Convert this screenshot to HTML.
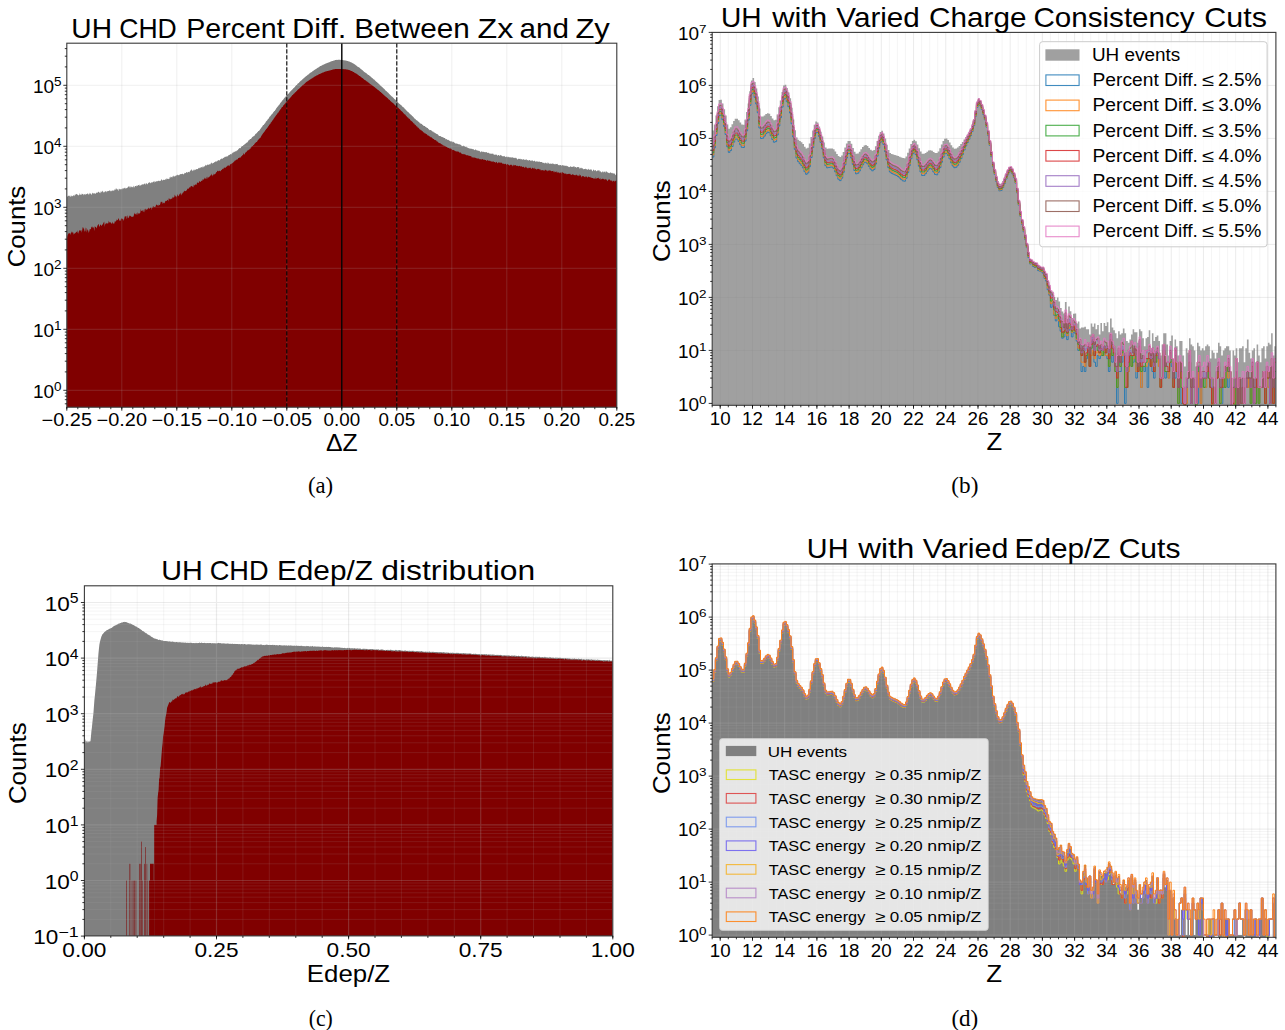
<!DOCTYPE html><html><head><meta charset="utf-8"><style>html,body{margin:0;padding:0;background:#fff;overflow:hidden}svg{display:block}</style></head><body><svg width="1285" height="1030" viewBox="0 0 1285 1030">
<rect width="100%" height="100%" fill="#fff"/>
<defs><clipPath id="ca"><rect x="66.8" y="43.2" width="550" height="364"/></clipPath><clipPath id="cb"><rect x="712.2" y="32.4" width="563.7" height="372.9"/></clipPath><clipPath id="cc"><rect x="84.4" y="585.8" width="528.4" height="350.1"/></clipPath><clipPath id="cd"><rect x="712.2" y="563.9" width="563.7" height="373.4"/></clipPath></defs>
<g clip-path="url(#ca)">
<path d="M66.8,407.2L66.8,196.5L67.3,196.7L67.8,196.2L68.3,195.6L68.8,195.9L69.3,195.4L69.8,196.2L70.3,197.3L70.8,195.6L71.3,195.5L71.8,196.4L72.3,196.2L72.8,195.9L73.3,195.0L73.8,195.7L74.3,196.3L74.8,194.5L75.3,195.2L75.8,193.9L76.3,194.3L76.8,193.8L77.3,195.1L77.8,194.2L78.3,195.4L78.8,195.3L79.3,194.9L79.8,192.9L80.3,194.5L80.8,194.9L81.3,194.9L81.8,193.5L82.3,194.3L82.8,193.8L83.3,193.9L83.8,195.4L84.3,193.8L84.8,194.4L85.3,195.1L85.8,193.8L86.3,194.1L86.8,194.3L87.3,194.1L87.8,193.0L88.3,194.0L88.8,195.0L89.3,192.5L89.8,194.5L90.3,193.8L90.8,193.1L91.3,195.2L91.8,194.1L92.3,192.4L92.8,193.4L93.3,193.8L93.8,193.1L94.3,193.7L94.8,193.0L95.3,193.6L95.8,194.1L96.3,192.3L96.8,193.0L97.3,192.4L97.8,192.8L98.3,191.6L98.8,192.1L99.3,192.3L99.8,193.1L100.3,193.3L100.8,191.2L101.3,191.5L101.8,192.6L102.3,190.4L102.8,191.6L103.3,191.8L103.8,192.8L104.3,192.3L104.8,191.4L105.3,191.3L105.8,191.3L106.3,192.6L106.8,191.0L107.3,191.0L107.8,191.5L108.3,191.0L108.8,190.9L109.3,190.1L109.8,190.9L110.3,190.4L110.8,191.6L111.3,191.2L111.8,190.5L112.3,191.0L112.8,190.1L113.3,191.1L113.8,190.2L114.3,190.6L114.8,189.0L115.3,190.2L115.8,188.6L116.3,188.2L116.8,189.5L117.3,188.9L117.8,189.7L118.3,191.2L118.8,188.7L119.3,188.8L119.8,189.4L120.3,189.5L120.8,188.9L121.3,188.8L121.8,189.4L122.3,189.2L122.8,187.9L123.3,188.5L123.8,188.5L124.3,187.6L124.8,188.5L125.3,187.6L125.8,188.9L126.3,188.2L126.8,188.0L127.3,187.4L127.8,187.7L128.3,186.1L128.8,186.7L129.3,187.7L129.8,185.8L130.3,187.9L130.8,185.9L131.3,187.6L131.8,186.3L132.3,187.4L132.8,186.9L133.3,185.5L133.8,187.5L134.3,187.5L134.8,186.3L135.3,186.1L135.8,186.0L136.3,185.3L136.8,186.7L137.3,185.4L137.8,185.7L138.3,185.0L138.8,185.1L139.3,184.5L139.8,186.2L140.3,185.1L140.8,185.8L141.3,185.0L141.8,184.4L142.3,184.5L142.8,184.2L143.3,184.5L143.8,184.2L144.3,184.1L144.8,183.2L145.3,183.5L145.8,185.1L146.3,183.4L146.8,183.0L147.3,183.9L147.8,184.5L148.3,182.4L148.8,183.1L149.3,182.7L149.8,181.8L150.3,183.4L150.8,182.8L151.3,182.7L151.8,182.1L152.3,182.8L152.8,182.0L153.3,182.1L153.8,181.3L154.3,181.1L154.8,182.7L155.3,181.4L155.8,181.8L156.3,181.4L156.8,181.0L157.3,180.9L157.8,181.5L158.3,180.8L158.8,180.7L159.3,180.7L159.8,181.3L160.3,180.9L160.8,180.6L161.3,179.8L161.8,179.1L162.3,180.5L162.8,180.4L163.3,179.6L163.8,179.9L164.3,179.9L164.8,179.8L165.3,179.7L165.8,178.7L166.3,179.8L166.8,177.9L167.3,179.1L167.8,178.7L168.3,178.8L168.8,179.3L169.3,178.9L169.8,177.1L170.3,176.6L170.8,178.1L171.3,176.8L171.8,177.3L172.3,177.6L172.8,176.0L173.3,175.5L173.8,176.8L174.3,176.6L174.8,176.2L175.3,176.2L175.8,175.6L176.3,175.0L176.8,175.7L177.3,175.0L177.8,174.5L178.3,175.6L178.8,175.1L179.3,175.2L179.8,174.3L180.3,174.3L180.8,174.0L181.3,173.9L181.8,174.3L182.3,173.6L182.8,174.1L183.3,173.9L183.8,174.7L184.3,172.6L184.8,173.8L185.3,173.0L185.8,172.9L186.3,171.9L186.8,172.3L187.3,172.8L187.8,172.2L188.3,172.1L188.8,171.8L189.3,172.4L189.8,171.6L190.3,170.2L190.8,170.8L191.3,170.0L191.8,169.1L192.3,170.4L192.8,171.3L193.3,170.4L193.8,169.5L194.3,169.5L194.8,170.4L195.3,169.7L195.8,169.5L196.3,169.2L196.8,169.1L197.3,169.3L197.8,169.0L198.3,168.6L198.8,167.8L199.3,168.4L199.8,167.6L200.3,168.3L200.8,166.9L201.3,167.3L201.8,167.2L202.3,166.3L202.8,167.7L203.3,167.3L203.8,166.2L204.3,166.6L204.8,166.2L205.3,164.5L205.8,165.7L206.3,165.4L206.8,165.3L207.3,164.5L207.8,164.7L208.3,164.5L208.8,165.0L209.3,164.4L209.8,164.0L210.3,164.5L210.8,163.3L211.3,163.2L211.8,162.3L212.3,163.7L212.8,163.2L213.3,163.0L213.8,162.7L214.3,162.2L214.8,162.0L215.3,161.6L215.8,161.4L216.3,161.3L216.8,161.8L217.3,161.1L217.8,160.6L218.3,160.2L218.8,159.9L219.3,160.7L219.8,160.0L220.3,159.5L220.8,159.1L221.3,158.6L221.8,158.8L222.3,159.0L222.8,158.2L223.3,158.0L223.8,157.8L224.3,157.6L224.8,156.7L225.3,157.0L225.8,156.5L226.3,157.0L226.8,156.0L227.3,156.3L227.8,156.4L228.3,155.4L228.8,155.0L229.3,155.0L229.8,154.7L230.3,154.0L230.8,154.3L231.3,154.6L231.8,153.4L232.3,153.2L232.8,152.5L233.3,152.8L233.8,151.8L234.3,151.6L234.8,152.2L235.3,151.0L235.8,151.4L236.3,151.2L236.8,150.4L237.3,150.2L237.8,150.3L238.3,149.2L238.8,148.7L239.3,148.0L239.8,148.2L240.3,148.3L240.8,147.7L241.3,146.7L241.8,146.3L242.3,146.0L242.8,145.9L243.3,145.3L243.8,145.1L244.3,144.7L244.8,144.1L245.3,143.7L245.8,143.4L246.3,142.9L246.8,142.6L247.3,142.6L247.8,141.8L248.3,141.1L248.8,140.1L249.3,140.3L249.8,139.2L250.3,138.9L250.8,139.1L251.3,138.6L251.8,137.8L252.3,136.9L252.8,136.8L253.3,136.3L253.8,136.2L254.3,136.1L254.8,135.1L255.3,134.3L255.8,133.7L256.3,133.5L256.8,132.9L257.3,132.2L257.8,131.9L258.3,131.1L258.8,131.1L259.3,130.5L259.8,129.9L260.3,128.9L260.8,128.6L261.3,127.8L261.8,127.1L262.3,126.5L262.8,125.6L263.3,125.0L263.8,124.9L264.3,124.0L264.8,123.4L265.3,122.9L265.8,121.7L266.3,121.2L266.8,120.8L267.3,120.2L267.8,119.3L268.3,119.0L268.8,118.2L269.3,117.2L269.8,116.6L270.3,116.3L270.8,115.6L271.3,114.5L271.8,114.5L272.3,113.7L272.8,113.2L273.3,112.3L273.8,111.7L274.3,110.9L274.8,110.9L275.3,109.7L275.8,109.4L276.3,108.3L276.8,107.8L277.3,106.9L277.8,106.4L278.3,106.0L278.8,105.0L279.3,104.7L279.8,103.9L280.3,103.1L280.8,102.5L281.3,101.9L281.8,101.3L282.3,100.6L282.8,99.9L283.3,99.4L283.8,98.7L284.3,98.1L284.8,97.6L285.3,97.2L285.8,96.3L286.3,95.9L286.8,95.3L287.3,94.7L287.8,94.4L288.3,93.7L288.8,93.4L289.3,92.6L289.8,92.2L290.3,91.5L290.8,90.9L291.3,90.6L291.8,90.0L292.3,89.5L292.8,88.9L293.3,88.3L293.8,87.9L294.3,87.4L294.8,86.9L295.3,86.2L295.8,85.8L296.3,85.1L296.8,84.9L297.3,84.2L297.8,83.6L298.3,83.3L298.8,82.9L299.3,82.2L299.8,81.8L300.3,81.3L300.8,80.8L301.3,80.5L301.8,79.9L302.3,79.5L302.8,79.1L303.3,78.6L303.8,78.2L304.3,77.7L304.8,77.2L305.3,76.7L305.8,76.6L306.3,76.0L306.8,75.7L307.3,75.2L307.8,74.8L308.3,74.4L308.8,74.2L309.3,73.6L309.8,73.2L310.3,72.8L310.8,72.4L311.3,72.3L311.8,71.9L312.3,71.4L312.8,71.0L313.3,70.7L313.8,70.5L314.3,69.9L314.8,69.8L315.3,69.3L315.8,69.2L316.3,68.7L316.8,68.4L317.3,68.0L317.8,67.7L318.3,67.6L318.8,67.2L319.3,66.8L319.8,66.5L320.3,66.1L320.8,66.0L321.3,65.7L321.8,65.4L322.3,65.2L322.8,64.8L323.3,64.7L323.8,64.4L324.3,64.3L324.8,64.1L325.3,63.8L325.8,63.5L326.3,63.4L326.8,63.1L327.3,62.9L327.8,62.8L328.3,62.5L328.8,62.4L329.3,62.2L329.8,62.0L330.3,61.8L330.8,61.5L331.3,61.3L331.8,61.2L332.3,61.0L332.8,60.9L333.3,60.7L333.8,60.5L334.3,60.4L334.8,60.2L335.3,60.1L335.8,60.0L336.3,59.8L336.8,59.9L337.3,59.9L337.8,59.8L338.3,59.8L338.8,59.8L339.3,59.7L339.8,59.8L340.3,59.8L340.8,59.9L341.3,59.9L341.8,60.0L342.3,60.1L342.8,60.1L343.3,60.2L343.8,60.3L344.3,60.2L344.8,60.4L345.3,60.5L345.8,60.6L346.3,60.7L346.8,60.7L347.3,60.9L347.8,61.1L348.3,61.2L348.8,61.4L349.3,61.4L349.8,61.8L350.3,62.0L350.8,62.2L351.3,62.4L351.8,62.6L352.3,63.0L352.8,63.2L353.3,63.3L353.8,63.9L354.3,64.0L354.8,64.4L355.3,64.8L355.8,65.2L356.3,65.5L356.8,65.9L357.3,66.4L357.8,66.7L358.3,67.0L358.8,67.3L359.3,67.6L359.8,68.1L360.3,68.6L360.8,69.0L361.3,69.3L361.8,69.8L362.3,70.1L362.8,70.5L363.3,71.0L363.8,71.4L364.3,71.9L364.8,72.2L365.3,72.5L365.8,73.0L366.3,73.3L366.8,73.6L367.3,74.2L367.8,74.5L368.3,74.9L368.8,75.1L369.3,75.6L369.8,76.0L370.3,76.4L370.8,76.6L371.3,77.2L371.8,77.7L372.3,78.1L372.8,78.4L373.3,78.9L373.8,79.4L374.3,79.5L374.8,80.2L375.3,80.7L375.8,81.2L376.3,81.7L376.8,82.1L377.3,82.5L377.8,83.0L378.3,83.5L378.8,83.8L379.3,84.3L379.8,84.9L380.3,85.5L380.8,85.7L381.3,86.2L381.8,86.7L382.3,87.3L382.8,87.6L383.3,88.3L383.8,88.5L384.3,89.1L384.8,89.5L385.3,90.2L385.8,90.7L386.3,90.9L386.8,91.4L387.3,92.1L387.8,92.4L388.3,92.8L388.8,93.6L389.3,94.0L389.8,94.5L390.3,94.9L390.8,95.5L391.3,95.9L391.8,96.5L392.3,96.7L392.8,97.2L393.3,97.8L393.8,98.2L394.3,98.9L394.8,99.3L395.3,99.6L395.8,100.2L396.3,100.6L396.8,101.2L397.3,101.5L397.8,102.0L398.3,102.7L398.8,103.3L399.3,103.7L399.8,103.9L400.3,104.4L400.8,105.1L401.3,105.3L401.8,105.7L402.3,106.4L402.8,106.9L403.3,107.2L403.8,107.5L404.3,108.1L404.8,108.9L405.3,109.2L405.8,109.8L406.3,110.3L406.8,110.9L407.3,111.2L407.8,111.9L408.3,112.1L408.8,112.7L409.3,113.1L409.8,113.9L410.3,114.2L410.8,114.6L411.3,115.1L411.8,115.6L412.3,116.3L412.8,116.3L413.3,116.9L413.8,117.5L414.3,118.5L414.8,118.6L415.3,118.9L415.8,119.5L416.3,120.2L416.8,120.2L417.3,120.6L417.8,121.3L418.3,121.6L418.8,122.1L419.3,122.2L419.8,123.2L420.3,123.5L420.8,123.6L421.3,124.1L421.8,123.8L422.3,124.8L422.8,125.0L423.3,125.5L423.8,125.9L424.3,126.0L424.8,126.0L425.3,126.8L425.8,126.9L426.3,127.4L426.8,127.6L427.3,128.0L427.8,127.9L428.3,129.1L428.8,129.2L429.3,129.7L429.8,130.3L430.3,130.1L430.8,129.9L431.3,130.5L431.8,130.7L432.3,131.2L432.8,131.7L433.3,131.4L433.8,132.4L434.3,132.2L434.8,132.9L435.3,133.1L435.8,133.4L436.3,133.7L436.8,133.9L437.3,134.2L437.8,134.2L438.3,134.9L438.8,135.7L439.3,136.0L439.8,136.1L440.3,136.2L440.8,136.1L441.3,137.0L441.8,136.8L442.3,137.1L442.8,137.3L443.3,137.6L443.8,137.7L444.3,138.1L444.8,138.0L445.3,138.5L445.8,139.5L446.3,139.1L446.8,139.3L447.3,139.7L447.8,140.0L448.3,139.7L448.8,140.2L449.3,140.8L449.8,140.8L450.3,141.0L450.8,141.7L451.3,141.2L451.8,141.6L452.3,141.6L452.8,142.5L453.3,141.6L453.8,142.2L454.3,142.5L454.8,143.1L455.3,143.3L455.8,143.7L456.3,143.0L456.8,143.9L457.3,143.8L457.8,143.8L458.3,144.4L458.8,144.1L459.3,143.9L459.8,144.7L460.3,144.5L460.8,145.0L461.3,145.5L461.8,145.7L462.3,146.3L462.8,145.9L463.3,145.6L463.8,146.0L464.3,146.2L464.8,146.2L465.3,147.0L465.8,146.8L466.3,146.5L466.8,147.6L467.3,147.5L467.8,147.8L468.3,147.9L468.8,148.2L469.3,148.2L469.8,148.8L470.3,148.6L470.8,148.8L471.3,148.9L471.8,148.4L472.3,149.0L472.8,149.2L473.3,149.5L473.8,149.0L474.3,150.3L474.8,149.9L475.3,149.5L475.8,149.5L476.3,150.1L476.8,150.4L477.3,150.3L477.8,150.7L478.3,150.5L478.8,151.1L479.3,150.8L479.8,151.2L480.3,151.7L480.8,152.4L481.3,151.2L481.8,151.5L482.3,151.5L482.8,152.2L483.3,151.6L483.8,152.0L484.3,152.2L484.8,152.0L485.3,152.1L485.8,152.4L486.3,151.9L486.8,152.3L487.3,152.8L487.8,153.1L488.3,153.1L488.8,152.5L489.3,153.2L489.8,153.8L490.3,153.8L490.8,153.6L491.3,153.4L491.8,154.1L492.3,153.7L492.8,153.6L493.3,153.8L493.8,154.8L494.3,154.4L494.8,154.9L495.3,154.3L495.8,155.0L496.3,154.5L496.8,154.7L497.3,155.9L497.8,155.3L498.3,154.9L498.8,155.1L499.3,155.4L499.8,155.9L500.3,155.3L500.8,154.8L501.3,155.5L501.8,155.7L502.3,155.9L502.8,156.4L503.3,156.1L503.8,156.4L504.3,155.7L504.8,156.6L505.3,157.2L505.8,156.8L506.3,156.6L506.8,156.7L507.3,157.5L507.8,156.4L508.3,156.8L508.8,157.2L509.3,157.4L509.8,157.0L510.3,157.4L510.8,157.2L511.3,157.5L511.8,157.4L512.3,157.1L512.8,157.7L513.3,158.1L513.8,157.4L514.3,157.8L514.8,158.3L515.3,157.6L515.8,158.2L516.3,157.8L516.8,158.8L517.3,159.4L517.8,159.4L518.3,158.5L518.8,159.0L519.3,158.8L519.8,158.9L520.3,159.6L520.8,158.4L521.3,159.5L521.8,159.1L522.3,159.8L522.8,159.4L523.3,159.1L523.8,159.6L524.3,159.9L524.8,159.6L525.3,159.9L525.8,159.5L526.3,158.9L526.8,160.3L527.3,160.3L527.8,160.1L528.3,160.2L528.8,160.7L529.3,160.1L529.8,160.1L530.3,160.4L530.8,161.1L531.3,160.0L531.8,161.2L532.3,160.5L532.8,160.3L533.3,161.5L533.8,160.9L534.3,160.5L534.8,161.0L535.3,161.6L535.8,161.8L536.3,161.2L536.8,161.6L537.3,161.8L537.8,161.3L538.3,161.8L538.8,161.7L539.3,161.6L539.8,161.7L540.3,162.0L540.8,162.1L541.3,161.9L541.8,162.0L542.3,162.8L542.8,162.4L543.3,162.8L543.8,163.0L544.3,162.8L544.8,163.7L545.3,162.3L545.8,163.2L546.3,162.7L546.8,163.8L547.3,163.8L547.8,162.2L548.3,162.7L548.8,163.5L549.3,163.7L549.8,163.7L550.3,163.4L550.8,163.7L551.3,163.9L551.8,163.6L552.3,164.2L552.8,162.8L553.3,164.2L553.8,163.5L554.3,164.5L554.8,164.0L555.3,163.8L555.8,164.5L556.3,163.9L556.8,164.0L557.3,163.8L557.8,164.6L558.3,164.9L558.8,165.3L559.3,164.8L559.8,165.4L560.3,165.0L560.8,165.0L561.3,165.4L561.8,165.7L562.3,165.1L562.8,165.3L563.3,165.4L563.8,165.6L564.3,165.2L564.8,166.2L565.3,165.6L565.8,166.1L566.3,165.5L566.8,166.2L567.3,166.3L567.8,166.0L568.3,167.3L568.8,166.5L569.3,167.3L569.8,167.0L570.3,166.2L570.8,166.5L571.3,166.9L571.8,166.8L572.3,166.9L572.8,166.8L573.3,166.1L573.8,167.0L574.3,166.1L574.8,167.5L575.3,167.0L575.8,167.1L576.3,167.4L576.8,167.7L577.3,166.9L577.8,166.9L578.3,167.3L578.8,166.9L579.3,167.5L579.8,168.9L580.3,167.6L580.8,168.6L581.3,167.6L581.8,168.5L582.3,168.3L582.8,168.5L583.3,168.9L583.8,169.6L584.3,168.9L584.8,168.9L585.3,168.4L585.8,169.3L586.3,169.0L586.8,169.6L587.3,169.2L587.8,170.3L588.3,168.4L588.8,169.4L589.3,170.1L589.8,169.5L590.3,169.3L590.8,169.7L591.3,169.2L591.8,170.1L592.3,171.4L592.8,170.8L593.3,169.6L593.8,169.8L594.3,170.2L594.8,171.0L595.3,170.1L595.8,170.3L596.3,171.2L596.8,171.3L597.3,170.7L597.8,170.3L598.3,170.2L598.8,170.7L599.3,170.0L599.8,171.7L600.3,171.0L600.8,171.7L601.3,172.5L601.8,172.2L602.3,171.0L602.8,172.2L603.3,172.5L603.8,171.5L604.3,171.5L604.8,172.0L605.3,171.3L605.8,173.1L606.3,171.0L606.8,171.8L607.3,172.3L607.8,172.4L608.3,172.7L608.8,172.9L609.3,172.7L609.8,173.5L610.3,171.7L610.8,173.0L611.3,172.7L611.8,173.3L612.3,173.4L612.8,172.8L613.3,173.1L613.8,174.0L614.3,173.8L614.8,173.3L615.3,174.9L615.8,175.2L616.3,173.1L616.8,174.2L616.8,407.2Z" fill="#808080"/>
<path d="M66.8,407.2L66.8,239.2L67.3,235.9L67.8,234.8L68.3,233.9L68.8,233.1L69.3,233.6L69.8,232.9L70.3,235.1L70.8,232.9L71.3,232.7L71.8,231.2L72.3,233.2L72.8,231.5L73.3,232.7L73.8,234.7L74.3,233.4L74.8,233.5L75.3,233.1L75.8,232.5L76.3,232.0L76.8,231.6L77.3,233.3L77.8,230.0L78.3,234.0L78.8,231.6L79.3,230.2L79.8,230.5L80.3,230.0L80.8,231.3L81.3,229.7L81.8,232.7L82.3,229.4L82.8,226.7L83.3,229.2L83.8,226.9L84.3,230.1L84.8,231.8L85.3,231.0L85.8,227.5L86.3,228.3L86.8,232.4L87.3,229.9L87.8,229.2L88.3,230.8L88.8,232.9L89.3,230.9L89.8,228.9L90.3,229.1L90.8,229.4L91.3,227.3L91.8,226.4L92.3,228.1L92.8,226.3L93.3,227.6L93.8,227.7L94.3,231.1L94.8,225.9L95.3,226.9L95.8,226.7L96.3,227.5L96.8,228.4L97.3,225.8L97.8,225.2L98.3,223.7L98.8,224.7L99.3,226.9L99.8,226.0L100.3,224.2L100.8,225.0L101.3,225.5L101.8,226.1L102.3,224.3L102.8,224.7L103.3,222.1L103.8,223.0L104.3,227.0L104.8,221.2L105.3,223.8L105.8,224.5L106.3,223.5L106.8,222.7L107.3,223.6L107.8,223.6L108.3,223.3L108.8,220.5L109.3,222.9L109.8,221.8L110.3,222.1L110.8,223.0L111.3,223.5L111.8,223.7L112.3,221.5L112.8,223.4L113.3,223.6L113.8,223.4L114.3,223.6L114.8,221.3L115.3,221.1L115.8,222.3L116.3,219.1L116.8,221.1L117.3,219.9L117.8,220.0L118.3,217.9L118.8,219.0L119.3,220.0L119.8,221.1L120.3,221.1L120.8,219.4L121.3,219.1L121.8,218.1L122.3,219.6L122.8,218.5L123.3,219.5L123.8,220.9L124.3,218.3L124.8,216.2L125.3,216.8L125.8,215.9L126.3,216.0L126.8,219.2L127.3,217.5L127.8,215.1L128.3,217.7L128.8,218.3L129.3,216.0L129.8,215.4L130.3,215.7L130.8,216.3L131.3,216.6L131.8,217.0L132.3,216.9L132.8,216.6L133.3,216.7L133.8,215.6L134.3,212.6L134.8,214.2L135.3,214.5L135.8,213.5L136.3,214.9L136.8,213.1L137.3,212.2L137.8,214.9L138.3,213.7L138.8,213.0L139.3,213.6L139.8,213.6L140.3,212.5L140.8,209.0L141.3,210.9L141.8,210.9L142.3,210.1L142.8,211.3L143.3,212.2L143.8,210.1L144.3,209.1L144.8,212.5L145.3,209.5L145.8,208.4L146.3,209.8L146.8,209.8L147.3,208.4L147.8,209.8L148.3,208.2L148.8,207.5L149.3,208.5L149.8,208.9L150.3,207.2L150.8,208.0L151.3,207.3L151.8,210.3L152.3,206.2L152.8,208.3L153.3,206.5L153.8,206.2L154.3,206.9L154.8,206.9L155.3,207.1L155.8,205.8L156.3,204.7L156.8,204.5L157.3,205.4L157.8,205.2L158.3,205.9L158.8,204.6L159.3,205.1L159.8,205.3L160.3,203.7L160.8,201.8L161.3,201.9L161.8,201.4L162.3,204.2L162.8,201.6L163.3,203.4L163.8,202.5L164.3,203.4L164.8,202.5L165.3,201.2L165.8,200.8L166.3,200.9L166.8,200.7L167.3,199.8L167.8,200.1L168.3,201.4L168.8,198.0L169.3,199.6L169.8,198.3L170.3,199.1L170.8,199.4L171.3,198.4L171.8,198.9L172.3,196.5L172.8,198.7L173.3,196.9L173.8,197.8L174.3,197.1L174.8,194.4L175.3,195.8L175.8,196.4L176.3,197.3L176.8,195.9L177.3,195.6L177.8,193.9L178.3,196.1L178.8,196.2L179.3,194.4L179.8,193.9L180.3,192.4L180.8,194.3L181.3,195.5L181.8,193.6L182.3,193.7L182.8,192.8L183.3,191.3L183.8,192.9L184.3,190.5L184.8,191.0L185.3,191.1L185.8,191.3L186.3,190.6L186.8,190.3L187.3,189.1L187.8,188.4L188.3,189.1L188.8,188.2L189.3,187.5L189.8,187.2L190.3,187.5L190.8,186.1L191.3,186.2L191.8,185.7L192.3,186.7L192.8,186.6L193.3,187.4L193.8,184.6L194.3,184.9L194.8,185.7L195.3,184.6L195.8,184.2L196.3,185.3L196.8,183.5L197.3,182.7L197.8,182.2L198.3,183.1L198.8,182.7L199.3,181.3L199.8,181.2L200.3,182.0L200.8,181.7L201.3,180.6L201.8,181.1L202.3,180.8L202.8,178.9L203.3,179.6L203.8,179.8L204.3,178.8L204.8,177.6L205.3,178.4L205.8,178.8L206.3,179.0L206.8,176.4L207.3,179.1L207.8,176.5L208.3,177.5L208.8,177.4L209.3,177.0L209.8,176.2L210.3,175.1L210.8,175.9L211.3,174.9L211.8,173.5L212.3,176.4L212.8,174.9L213.3,175.3L213.8,173.4L214.3,174.5L214.8,174.3L215.3,174.0L215.8,172.9L216.3,171.9L216.8,172.2L217.3,170.8L217.8,170.8L218.3,171.6L218.8,170.7L219.3,170.9L219.8,170.6L220.3,171.5L220.8,170.8L221.3,169.8L221.8,170.2L222.3,168.9L222.8,168.8L223.3,169.2L223.8,167.8L224.3,168.0L224.8,167.2L225.3,167.6L225.8,168.1L226.3,166.6L226.8,166.7L227.3,165.9L227.8,165.4L228.3,165.1L228.8,166.1L229.3,166.2L229.8,165.0L230.3,164.0L230.8,164.4L231.3,163.6L231.8,163.8L232.3,163.2L232.8,162.8L233.3,162.6L233.8,161.7L234.3,161.4L234.8,160.5L235.3,160.7L235.8,159.9L236.3,160.1L236.8,159.3L237.3,159.4L237.8,159.2L238.3,158.0L238.8,157.9L239.3,157.4L239.8,157.8L240.3,157.8L240.8,157.0L241.3,156.1L241.8,156.4L242.3,154.8L242.8,155.6L243.3,154.3L243.8,153.1L244.3,154.8L244.8,153.9L245.3,152.5L245.8,152.5L246.3,151.9L246.8,151.6L247.3,150.5L247.8,150.4L248.3,150.3L248.8,149.8L249.3,149.7L249.8,148.8L250.3,149.1L250.8,147.5L251.3,147.4L251.8,146.2L252.3,145.9L252.8,146.3L253.3,145.0L253.8,145.0L254.3,144.3L254.8,143.4L255.3,143.1L255.8,142.6L256.3,142.0L256.8,141.9L257.3,141.3L257.8,140.3L258.3,139.6L258.8,139.4L259.3,138.6L259.8,138.3L260.3,138.1L260.8,136.9L261.3,136.0L261.8,135.3L262.3,134.4L262.8,133.7L263.3,133.0L263.8,132.5L264.3,131.8L264.8,131.3L265.3,130.3L265.8,129.7L266.3,128.7L266.8,128.7L267.3,127.7L267.8,127.3L268.3,126.3L268.8,125.8L269.3,124.7L269.8,124.2L270.3,123.9L270.8,122.4L271.3,122.2L271.8,121.6L272.3,120.7L272.8,120.1L273.3,119.5L273.8,118.4L274.3,118.0L274.8,117.0L275.3,116.4L275.8,115.7L276.3,115.1L276.8,114.4L277.3,113.8L277.8,112.8L278.3,112.7L278.8,111.8L279.3,111.1L279.8,110.2L280.3,109.6L280.8,109.0L281.3,108.3L281.8,107.3L282.3,107.0L282.8,106.8L283.3,105.3L283.8,105.2L284.3,104.5L284.8,103.8L285.3,103.4L285.8,102.4L286.3,102.1L286.8,101.7L287.3,100.9L287.8,100.3L288.3,99.8L288.8,99.2L289.3,98.9L289.8,98.0L290.3,97.7L290.8,96.9L291.3,96.6L291.8,96.0L292.3,95.1L292.8,94.9L293.3,94.3L293.8,93.8L294.3,93.6L294.8,92.7L295.3,92.2L295.8,92.0L296.3,91.3L296.8,91.0L297.3,90.3L297.8,89.7L298.3,89.3L298.8,89.0L299.3,88.5L299.8,87.9L300.3,87.4L300.8,86.9L301.3,86.4L301.8,86.3L302.3,85.6L302.8,85.0L303.3,84.7L303.8,84.4L304.3,83.9L304.8,83.4L305.3,83.0L305.8,82.6L306.3,82.1L306.8,81.7L307.3,81.6L307.8,81.1L308.3,80.8L308.8,80.5L309.3,80.1L309.8,79.7L310.3,79.6L310.8,79.1L311.3,78.7L311.8,78.5L312.3,78.2L312.8,77.7L313.3,77.5L313.8,77.2L314.3,76.7L314.8,76.6L315.3,76.3L315.8,76.0L316.3,75.6L316.8,75.4L317.3,75.2L317.8,75.0L318.3,74.6L318.8,74.5L319.3,74.1L319.8,73.9L320.3,73.8L320.8,73.4L321.3,73.2L321.8,73.1L322.3,72.8L322.8,72.6L323.3,72.4L323.8,72.3L324.3,71.9L324.8,71.8L325.3,71.6L325.8,71.5L326.3,71.3L326.8,71.2L327.3,71.1L327.8,70.9L328.3,70.8L328.8,70.7L329.3,70.5L329.8,70.4L330.3,70.4L330.8,70.1L331.3,69.9L331.8,69.9L332.3,69.7L332.8,69.6L333.3,69.6L333.8,69.3L334.3,69.3L334.8,69.3L335.3,69.1L335.8,69.1L336.3,68.9L336.8,68.9L337.3,68.9L337.8,69.1L338.3,68.9L338.8,68.9L339.3,68.9L339.8,68.9L340.3,69.0L340.8,69.0L341.3,69.2L341.8,69.0L342.3,69.2L342.8,69.1L343.3,69.2L343.8,69.1L344.3,69.2L344.8,69.3L345.3,69.3L345.8,69.2L346.3,69.5L346.8,69.5L347.3,69.6L347.8,69.7L348.3,69.8L348.8,70.0L349.3,70.0L349.8,70.2L350.3,70.5L350.8,70.7L351.3,70.9L351.8,71.1L352.3,71.3L352.8,71.7L353.3,72.0L353.8,72.1L354.3,72.6L354.8,72.9L355.3,73.1L355.8,73.5L356.3,73.6L356.8,73.9L357.3,74.3L357.8,74.7L358.3,75.1L358.8,75.4L359.3,75.9L359.8,76.0L360.3,76.6L360.8,76.8L361.3,77.3L361.8,77.7L362.3,78.0L362.8,78.3L363.3,78.7L363.8,79.2L364.3,79.7L364.8,80.0L365.3,80.2L365.8,80.6L366.3,81.0L366.8,81.5L367.3,81.6L367.8,82.3L368.3,82.4L368.8,82.8L369.3,83.2L369.8,83.7L370.3,83.9L370.8,84.4L371.3,84.7L371.8,85.1L372.3,85.5L372.8,85.8L373.3,86.3L373.8,86.6L374.3,86.9L374.8,87.2L375.3,87.7L375.8,88.2L376.3,88.4L376.8,89.0L377.3,89.4L377.8,89.8L378.3,89.9L378.8,90.6L379.3,91.1L379.8,91.3L380.3,91.9L380.8,92.0L381.3,92.8L381.8,93.1L382.3,93.7L382.8,93.8L383.3,94.5L383.8,94.9L384.3,95.4L384.8,95.7L385.3,96.1L385.8,97.0L386.3,97.0L386.8,97.5L387.3,98.0L387.8,98.3L388.3,99.1L388.8,99.6L389.3,99.7L389.8,100.0L390.3,100.9L390.8,101.3L391.3,101.7L391.8,102.2L392.3,102.4L392.8,103.0L393.3,103.2L393.8,103.7L394.3,104.5L394.8,104.7L395.3,105.6L395.8,105.7L396.3,106.0L396.8,106.7L397.3,107.3L397.8,107.6L398.3,107.8L398.8,108.5L399.3,109.1L399.8,109.3L400.3,109.7L400.8,110.5L401.3,110.9L401.8,111.2L402.3,111.8L402.8,112.2L403.3,112.9L403.8,113.4L404.3,114.1L404.8,114.5L405.3,114.6L405.8,115.5L406.3,116.1L406.8,116.5L407.3,117.2L407.8,117.4L408.3,117.8L408.8,118.7L409.3,118.8L409.8,119.1L410.3,120.3L410.8,120.4L411.3,121.0L411.8,121.3L412.3,121.8L412.8,122.3L413.3,123.0L413.8,123.6L414.3,123.5L414.8,124.7L415.3,124.7L415.8,125.2L416.3,126.1L416.8,126.4L417.3,126.5L417.8,127.8L418.3,127.6L418.8,128.3L419.3,128.7L419.8,129.4L420.3,129.4L420.8,130.2L421.3,130.1L421.8,131.0L422.3,130.9L422.8,131.4L423.3,132.4L423.8,132.3L424.3,132.7L424.8,133.6L425.3,133.5L425.8,133.5L426.3,134.3L426.8,134.1L427.3,135.1L427.8,135.5L428.3,135.4L428.8,135.7L429.3,136.3L429.8,136.6L430.3,136.7L430.8,137.5L431.3,137.0L431.8,137.8L432.3,138.2L432.8,138.6L433.3,139.1L433.8,138.9L434.3,139.8L434.8,139.9L435.3,140.1L435.8,140.2L436.3,140.6L436.8,141.4L437.3,141.3L437.8,141.9L438.3,142.5L438.8,142.8L439.3,143.3L439.8,143.0L440.3,143.0L440.8,144.0L441.3,144.1L441.8,144.6L442.3,144.5L442.8,145.2L443.3,145.4L443.8,145.6L444.3,145.8L444.8,146.1L445.3,146.3L445.8,146.5L446.3,147.0L446.8,146.8L447.3,147.8L447.8,147.4L448.3,148.0L448.8,147.9L449.3,148.1L449.8,149.1L450.3,148.5L450.8,148.4L451.3,148.8L451.8,149.2L452.3,150.3L452.8,149.8L453.3,150.3L453.8,149.8L454.3,150.5L454.8,150.8L455.3,151.5L455.8,150.7L456.3,151.4L456.8,151.5L457.3,151.2L457.8,151.8L458.3,151.9L458.8,151.3L459.3,152.6L459.8,152.8L460.3,152.6L460.8,152.4L461.3,153.7L461.8,153.4L462.3,153.9L462.8,154.3L463.3,153.7L463.8,154.4L464.3,154.1L464.8,154.4L465.3,154.5L465.8,154.8L466.3,155.4L466.8,155.1L467.3,155.2L467.8,155.3L468.3,155.7L468.8,155.4L469.3,155.7L469.8,156.0L470.3,156.0L470.8,156.3L471.3,156.3L471.8,157.5L472.3,157.4L472.8,157.2L473.3,157.1L473.8,158.2L474.3,157.5L474.8,157.5L475.3,157.8L475.8,158.0L476.3,158.6L476.8,158.1L477.3,159.1L477.8,158.0L478.3,158.8L478.8,158.2L479.3,159.5L479.8,158.7L480.3,159.0L480.8,159.5L481.3,159.8L481.8,158.9L482.3,159.3L482.8,159.0L483.3,159.8L483.8,159.8L484.3,159.8L484.8,159.7L485.3,160.0L485.8,159.9L486.3,160.6L486.8,161.2L487.3,159.7L487.8,160.6L488.3,160.6L488.8,161.1L489.3,160.6L489.8,161.0L490.3,160.7L490.8,161.6L491.3,161.4L491.8,161.4L492.3,161.8L492.8,161.6L493.3,161.1L493.8,162.2L494.3,162.1L494.8,162.0L495.3,162.6L495.8,162.8L496.3,161.8L496.8,162.1L497.3,163.3L497.8,163.3L498.3,162.4L498.8,162.2L499.3,162.6L499.8,162.7L500.3,162.3L500.8,163.2L501.3,162.6L501.8,162.8L502.3,163.9L502.8,163.2L503.3,163.6L503.8,164.0L504.3,164.2L504.8,163.7L505.3,164.0L505.8,163.6L506.3,165.0L506.8,164.5L507.3,163.8L507.8,164.4L508.3,164.8L508.8,164.8L509.3,165.5L509.8,165.4L510.3,164.6L510.8,164.9L511.3,164.4L511.8,165.2L512.3,165.2L512.8,166.6L513.3,165.4L513.8,164.4L514.3,165.2L514.8,165.6L515.3,165.0L515.8,165.3L516.3,165.7L516.8,166.1L517.3,165.9L517.8,165.6L518.3,166.6L518.8,166.0L519.3,166.1L519.8,165.7L520.3,166.1L520.8,166.9L521.3,165.8L521.8,166.7L522.3,167.2L522.8,166.7L523.3,167.1L523.8,166.5L524.3,167.8L524.8,167.8L525.3,167.4L525.8,166.5L526.3,166.9L526.8,168.0L527.3,168.5L527.8,167.8L528.3,168.4L528.8,167.5L529.3,167.8L529.8,168.0L530.3,168.3L530.8,167.3L531.3,168.7L531.8,169.0L532.3,167.8L532.8,167.7L533.3,168.7L533.8,168.2L534.3,167.4L534.8,169.2L535.3,168.9L535.8,168.6L536.3,170.1L536.8,169.1L537.3,168.7L537.8,169.2L538.3,168.7L538.8,168.9L539.3,169.6L539.8,169.2L540.3,169.3L540.8,170.5L541.3,170.2L541.8,170.2L542.3,170.1L542.8,170.2L543.3,170.8L543.8,170.1L544.3,171.2L544.8,169.7L545.3,170.2L545.8,169.6L546.3,170.3L546.8,170.8L547.3,171.4L547.8,170.3L548.3,170.8L548.8,170.6L549.3,170.5L549.8,170.3L550.3,171.1L550.8,170.2L551.3,171.3L551.8,171.3L552.3,171.0L552.8,170.9L553.3,170.7L553.8,172.6L554.3,170.9L554.8,172.6L555.3,172.1L555.8,171.7L556.3,171.3L556.8,172.6L557.3,173.1L557.8,171.7L558.3,172.1L558.8,172.9L559.3,172.6L559.8,173.6L560.3,172.3L560.8,173.0L561.3,172.0L561.8,174.0L562.3,172.5L562.8,171.7L563.3,173.0L563.8,173.1L564.3,174.3L564.8,173.1L565.3,173.4L565.8,173.8L566.3,174.4L566.8,173.6L567.3,174.3L567.8,174.1L568.3,173.7L568.8,174.0L569.3,174.0L569.8,173.6L570.3,174.9L570.8,173.4L571.3,175.0L571.8,175.0L572.3,174.4L572.8,174.1L573.3,174.5L573.8,175.0L574.3,175.2L574.8,175.0L575.3,175.5L575.8,174.7L576.3,175.3L576.8,174.3L577.3,175.7L577.8,175.4L578.3,175.2L578.8,176.2L579.3,176.0L579.8,174.0L580.3,175.8L580.8,175.0L581.3,176.6L581.8,177.5L582.3,175.8L582.8,176.2L583.3,176.1L583.8,176.5L584.3,176.8L584.8,177.3L585.3,175.9L585.8,177.6L586.3,176.1L586.8,177.0L587.3,177.6L587.8,177.4L588.3,176.5L588.8,176.7L589.3,176.9L589.8,177.2L590.3,178.1L590.8,176.6L591.3,177.8L591.8,178.0L592.3,178.0L592.8,178.0L593.3,178.8L593.8,178.2L594.3,178.5L594.8,178.4L595.3,179.3L595.8,177.0L596.3,179.1L596.8,178.2L597.3,178.3L597.8,177.9L598.3,177.4L598.8,178.5L599.3,178.4L599.8,179.2L600.3,178.0L600.8,179.9L601.3,179.3L601.8,179.0L602.3,178.8L602.8,178.8L603.3,178.7L603.8,179.2L604.3,179.6L604.8,179.6L605.3,178.8L605.8,179.7L606.3,179.3L606.8,180.1L607.3,181.3L607.8,180.6L608.3,180.0L608.8,179.2L609.3,179.5L609.8,179.4L610.3,181.0L610.8,180.1L611.3,180.8L611.8,180.4L612.3,180.9L612.8,181.9L613.3,180.6L613.8,180.9L614.3,180.7L614.8,181.9L615.3,180.7L615.8,180.7L616.3,180.6L616.8,180.7L616.8,407.2Z" fill="#800000"/>
<path d="M66.8,43.2V407.2M121.8,43.2V407.2M176.8,43.2V407.2M231.8,43.2V407.2M286.8,43.2V407.2M341.8,43.2V407.2M396.8,43.2V407.2M451.8,43.2V407.2M506.8,43.2V407.2M561.8,43.2V407.2M616.8,43.2V407.2M66.8,390.3H616.8M66.8,329.3H616.8M66.8,268.3H616.8M66.8,207.3H616.8M66.8,146.3H616.8M66.8,85.3H616.8" stroke="#b0b0b0" stroke-opacity="0.2" stroke-width="1" fill="none"/>
</g>
<path d="M286.8,43.2V407.2M396.8,43.2V407.2" stroke="#000" stroke-width="1.1" stroke-dasharray="4.2,1.8"/>
<path d="M341.8,43.2V407.2" stroke="#000" stroke-width="1.4"/>
<rect x="66.8" y="43.2" width="550.0" height="364.0" fill="none" stroke="#3a3a3a" stroke-width="1.1"/>
<path d="M66.8,407.2v3.5M121.8,407.2v3.5M176.8,407.2v3.5M231.8,407.2v3.5M286.8,407.2v3.5M341.8,407.2v3.5M396.8,407.2v3.5M451.8,407.2v3.5M506.8,407.2v3.5M561.8,407.2v3.5M616.8,407.2v3.5M66.8,407.2v2M77.8,407.2v2M88.8,407.2v2M99.8,407.2v2M110.8,407.2v2M121.8,407.2v2M132.8,407.2v2M143.8,407.2v2M154.8,407.2v2M165.8,407.2v2M176.8,407.2v2M187.8,407.2v2M198.8,407.2v2M209.8,407.2v2M220.8,407.2v2M231.8,407.2v2M242.8,407.2v2M253.8,407.2v2M264.8,407.2v2M275.8,407.2v2M286.8,407.2v2M297.8,407.2v2M308.8,407.2v2M319.8,407.2v2M330.8,407.2v2M341.8,407.2v2M352.8,407.2v2M363.8,407.2v2M374.8,407.2v2M385.8,407.2v2M396.8,407.2v2M407.8,407.2v2M418.8,407.2v2M429.8,407.2v2M440.8,407.2v2M451.8,407.2v2M462.8,407.2v2M473.8,407.2v2M484.8,407.2v2M495.8,407.2v2M506.8,407.2v2M517.8,407.2v2M528.8,407.2v2M539.8,407.2v2M550.8,407.2v2M561.8,407.2v2M572.8,407.2v2M583.8,407.2v2M594.8,407.2v2M605.8,407.2v2M616.8,407.2v2M66.8,390.3h-3.5M66.8,329.3h-3.5M66.8,268.3h-3.5M66.8,207.3h-3.5M66.8,146.3h-3.5M66.8,85.3h-3.5M66.8,403.8h-2M66.8,399.7h-2M66.8,396.2h-2M66.8,393.1h-2M66.8,371.9h-2M66.8,361.2h-2M66.8,353.6h-2M66.8,347.7h-2M66.8,342.8h-2M66.8,338.7h-2M66.8,335.2h-2M66.8,332.1h-2M66.8,310.9h-2M66.8,300.2h-2M66.8,292.6h-2M66.8,286.7h-2M66.8,281.8h-2M66.8,277.7h-2M66.8,274.2h-2M66.8,271.1h-2M66.8,249.9h-2M66.8,239.2h-2M66.8,231.6h-2M66.8,225.7h-2M66.8,220.8h-2M66.8,216.7h-2M66.8,213.2h-2M66.8,210.1h-2M66.8,188.9h-2M66.8,178.2h-2M66.8,170.6h-2M66.8,164.7h-2M66.8,159.8h-2M66.8,155.7h-2M66.8,152.2h-2M66.8,149.1h-2M66.8,127.9h-2M66.8,117.2h-2M66.8,109.6h-2M66.8,103.7h-2M66.8,98.8h-2M66.8,94.7h-2M66.8,91.2h-2M66.8,88.1h-2M66.8,66.9h-2M66.8,56.2h-2M66.8,48.6h-2" stroke="#000" stroke-width="0.8"/>
<text x="41.60" y="425.60" font-size="17.5" font-family="'Liberation Sans', sans-serif" textLength="50.40" lengthAdjust="spacingAndGlyphs">−0.25</text>
<text x="96.60" y="425.60" font-size="17.5" font-family="'Liberation Sans', sans-serif" textLength="50.40" lengthAdjust="spacingAndGlyphs">−0.20</text>
<text x="151.60" y="425.60" font-size="17.5" font-family="'Liberation Sans', sans-serif" textLength="50.40" lengthAdjust="spacingAndGlyphs">−0.15</text>
<text x="206.60" y="425.60" font-size="17.5" font-family="'Liberation Sans', sans-serif" textLength="50.40" lengthAdjust="spacingAndGlyphs">−0.10</text>
<text x="261.60" y="425.60" font-size="17.5" font-family="'Liberation Sans', sans-serif" textLength="50.40" lengthAdjust="spacingAndGlyphs">−0.05</text>
<text x="323.49" y="425.60" font-size="17.5" font-family="'Liberation Sans', sans-serif" textLength="36.62" lengthAdjust="spacingAndGlyphs">0.00</text>
<text x="378.49" y="425.60" font-size="17.5" font-family="'Liberation Sans', sans-serif" textLength="36.62" lengthAdjust="spacingAndGlyphs">0.05</text>
<text x="433.49" y="425.60" font-size="17.5" font-family="'Liberation Sans', sans-serif" textLength="36.62" lengthAdjust="spacingAndGlyphs">0.10</text>
<text x="488.49" y="425.60" font-size="17.5" font-family="'Liberation Sans', sans-serif" textLength="36.62" lengthAdjust="spacingAndGlyphs">0.15</text>
<text x="543.49" y="425.60" font-size="17.5" font-family="'Liberation Sans', sans-serif" textLength="36.62" lengthAdjust="spacingAndGlyphs">0.20</text>
<text x="598.49" y="425.60" font-size="17.5" font-family="'Liberation Sans', sans-serif" textLength="36.62" lengthAdjust="spacingAndGlyphs">0.25</text>
<text x="32.98" y="397.80" font-size="17.5" font-family="'Liberation Sans', sans-serif" textLength="21.12" lengthAdjust="spacingAndGlyphs">10</text>
<text x="54.10" y="391.40" font-size="12.2" font-family="'Liberation Sans', sans-serif" textLength="7.50" lengthAdjust="spacingAndGlyphs">0</text>
<text x="32.98" y="336.80" font-size="17.5" font-family="'Liberation Sans', sans-serif" textLength="21.12" lengthAdjust="spacingAndGlyphs">10</text>
<text x="54.10" y="330.40" font-size="12.2" font-family="'Liberation Sans', sans-serif" textLength="7.50" lengthAdjust="spacingAndGlyphs">1</text>
<text x="32.98" y="275.80" font-size="17.5" font-family="'Liberation Sans', sans-serif" textLength="21.12" lengthAdjust="spacingAndGlyphs">10</text>
<text x="54.10" y="269.40" font-size="12.2" font-family="'Liberation Sans', sans-serif" textLength="7.50" lengthAdjust="spacingAndGlyphs">2</text>
<text x="32.98" y="214.80" font-size="17.5" font-family="'Liberation Sans', sans-serif" textLength="21.12" lengthAdjust="spacingAndGlyphs">10</text>
<text x="54.10" y="208.40" font-size="12.2" font-family="'Liberation Sans', sans-serif" textLength="7.50" lengthAdjust="spacingAndGlyphs">3</text>
<text x="32.98" y="153.80" font-size="17.5" font-family="'Liberation Sans', sans-serif" textLength="21.12" lengthAdjust="spacingAndGlyphs">10</text>
<text x="54.10" y="147.40" font-size="12.2" font-family="'Liberation Sans', sans-serif" textLength="7.50" lengthAdjust="spacingAndGlyphs">4</text>
<text x="32.98" y="92.80" font-size="17.5" font-family="'Liberation Sans', sans-serif" textLength="21.12" lengthAdjust="spacingAndGlyphs">10</text>
<text x="54.10" y="86.40" font-size="12.2" font-family="'Liberation Sans', sans-serif" textLength="7.50" lengthAdjust="spacingAndGlyphs">5</text>
<text x="326.06" y="450.80" font-size="24" font-family="'Liberation Sans', sans-serif" textLength="31.71" lengthAdjust="spacingAndGlyphs">ΔZ</text>
<text transform="rotate(-90)" x="-267.31" y="25.40" font-size="24.5" font-family="'Liberation Sans', sans-serif" textLength="81.54" lengthAdjust="spacingAndGlyphs">Counts</text>
<text x="71.33" y="37.70" font-size="28" font-family="'Liberation Sans', sans-serif" textLength="40.67" lengthAdjust="spacingAndGlyphs">UH</text>
<text x="119.25" y="37.70" font-size="28" font-family="'Liberation Sans', sans-serif" textLength="57.52" lengthAdjust="spacingAndGlyphs">CHD</text>
<text x="186.26" y="37.70" font-size="28" font-family="'Liberation Sans', sans-serif" textLength="98.35" lengthAdjust="spacingAndGlyphs">Percent</text>
<text x="292.10" y="37.70" font-size="28" font-family="'Liberation Sans', sans-serif" textLength="54.18" lengthAdjust="spacingAndGlyphs">Diff.</text>
<text x="354.26" y="37.70" font-size="28" font-family="'Liberation Sans', sans-serif" textLength="115.56" lengthAdjust="spacingAndGlyphs">Between</text>
<text x="477.48" y="37.70" font-size="28" font-family="'Liberation Sans', sans-serif" textLength="35.77" lengthAdjust="spacingAndGlyphs">Zx</text>
<text x="519.54" y="37.70" font-size="28" font-family="'Liberation Sans', sans-serif" textLength="49.47" lengthAdjust="spacingAndGlyphs">and</text>
<text x="575.42" y="37.70" font-size="28" font-family="'Liberation Sans', sans-serif" textLength="34.44" lengthAdjust="spacingAndGlyphs">Zy</text>
<text x="307.90" y="493.00" font-size="23" font-family="'Liberation Serif', serif" textLength="25.20" lengthAdjust="spacingAndGlyphs">(a)</text>
<g clip-path="url(#cb)">
<path d="M728.30,32.4V405.3M736.36,32.4V405.3M744.41,32.4V405.3M760.52,32.4V405.3M768.57,32.4V405.3M776.62,32.4V405.3M792.73,32.4V405.3M800.78,32.4V405.3M808.84,32.4V405.3M824.95,32.4V405.3M833.00,32.4V405.3M841.05,32.4V405.3M857.16,32.4V405.3M865.21,32.4V405.3M873.27,32.4V405.3M889.37,32.4V405.3M897.43,32.4V405.3M905.48,32.4V405.3M921.59,32.4V405.3M929.64,32.4V405.3M937.69,32.4V405.3M953.80,32.4V405.3M961.86,32.4V405.3M969.91,32.4V405.3M986.02,32.4V405.3M994.07,32.4V405.3M1002.12,32.4V405.3M1018.23,32.4V405.3M1026.28,32.4V405.3M1034.34,32.4V405.3M1050.44,32.4V405.3M1058.50,32.4V405.3M1066.55,32.4V405.3M1082.66,32.4V405.3M1090.71,32.4V405.3M1098.76,32.4V405.3M1114.87,32.4V405.3M1122.92,32.4V405.3M1130.98,32.4V405.3M1147.09,32.4V405.3M1155.14,32.4V405.3M1163.19,32.4V405.3M1179.30,32.4V405.3M1187.35,32.4V405.3M1195.41,32.4V405.3M1211.51,32.4V405.3M1219.57,32.4V405.3M1227.62,32.4V405.3M1243.73,32.4V405.3M1251.78,32.4V405.3M1259.83,32.4V405.3M1275.94,32.4V405.3" stroke="#b0b0b0" stroke-opacity="0.13" stroke-width="1" fill="none"/>
<path d="M720.25,32.4V405.3M752.46,32.4V405.3M784.68,32.4V405.3M816.89,32.4V405.3M849.11,32.4V405.3M881.32,32.4V405.3M913.53,32.4V405.3M945.75,32.4V405.3M977.96,32.4V405.3M1010.18,32.4V405.3M1042.39,32.4V405.3M1074.60,32.4V405.3M1106.82,32.4V405.3M1139.03,32.4V405.3M1171.25,32.4V405.3M1203.46,32.4V405.3M1235.67,32.4V405.3M1267.89,32.4V405.3M712.2,403.40H1275.9M712.2,350.40H1275.9M712.2,297.40H1275.9M712.2,244.40H1275.9M712.2,191.40H1275.9M712.2,138.40H1275.9M712.2,85.40H1275.9M712.2,32.40H1275.9" stroke="#b0b0b0" stroke-opacity="0.26" stroke-width="1" fill="none"/>
<path d="M712.2,407.3L712.2,130.6L713.8,130.6L713.8,124.6L715.4,124.6L715.4,115.5L717.0,115.5L717.0,106.3L718.6,106.3L718.6,100.1L720.2,100.1L720.2,99.8L721.9,99.8L721.9,103.6L723.5,103.6L723.5,109.2L725.1,109.2L725.1,115.6L726.7,115.6L726.7,124.6L728.3,124.6L728.3,128.8L729.9,128.8L729.9,127.3L731.5,127.3L731.5,124.3L733.1,124.3L733.1,121.0L734.7,121.0L734.7,118.7L736.4,118.7L736.4,118.7L738.0,118.7L738.0,120.3L739.6,120.3L739.6,122.6L741.2,122.6L741.2,124.5L742.8,124.5L742.8,124.7L744.4,124.7L744.4,119.8L746.0,119.8L746.0,111.9L747.6,111.9L747.6,103.4L749.2,103.4L749.2,91.2L750.9,91.2L750.9,80.5L752.5,80.5L752.5,78.0L754.1,78.0L754.1,82.0L755.7,82.0L755.7,88.6L757.3,88.6L757.3,96.4L758.9,96.4L758.9,108.5L760.5,108.5L760.5,116.6L762.1,116.6L762.1,116.5L763.7,116.5L763.7,115.4L765.3,115.4L765.3,114.1L767.0,114.1L767.0,113.3L768.6,113.3L768.6,113.7L770.2,113.7L770.2,115.9L771.8,115.9L771.8,118.4L773.4,118.4L773.4,120.3L775.0,120.3L775.0,119.8L776.6,119.8L776.6,114.5L778.2,114.5L778.2,107.3L779.8,107.3L779.8,100.5L781.5,100.5L781.5,92.0L783.1,92.0L783.1,85.4L784.7,85.4L784.7,84.8L786.3,84.8L786.3,87.9L787.9,87.9L787.9,92.5L789.5,92.5L789.5,98.2L791.1,98.2L791.1,107.8L792.7,107.8L792.7,119.4L794.3,119.4L794.3,130.2L796.0,130.2L796.0,137.4L797.6,137.4L797.6,139.8L799.2,139.8L799.2,141.1L800.8,141.1L800.8,142.3L802.4,142.3L802.4,144.1L804.0,144.1L804.0,146.7L805.6,146.7L805.6,148.6L807.2,148.6L807.2,147.7L808.8,147.7L808.8,143.4L810.4,143.4L810.4,137.1L812.1,137.1L812.1,130.4L813.7,130.4L813.7,124.7L815.3,124.7L815.3,121.6L816.9,121.6L816.9,122.4L818.5,122.4L818.5,126.5L820.1,126.5L820.1,131.7L821.7,131.7L821.7,136.5L823.3,136.5L823.3,142.5L824.9,142.5L824.9,147.4L826.6,147.4L826.6,148.7L828.2,148.7L828.2,148.6L829.8,148.6L829.8,148.5L831.4,148.5L831.4,148.4L833.0,148.4L833.0,149.3L834.6,149.3L834.6,151.4L836.2,151.4L836.2,153.9L837.8,153.9L837.8,156.0L839.4,156.0L839.4,156.9L841.1,156.9L841.1,155.5L842.7,155.5L842.7,152.0L844.3,152.0L844.3,147.6L845.9,147.6L845.9,143.6L847.5,143.6L847.5,141.0L849.1,141.0L849.1,141.0L850.7,141.0L850.7,143.8L852.3,143.8L852.3,147.9L853.9,147.9L853.9,151.7L855.5,151.7L855.5,153.8L857.2,153.8L857.2,153.4L858.8,153.4L858.8,151.7L860.4,151.7L860.4,149.3L862.0,149.3L862.0,147.0L863.6,147.0L863.6,145.4L865.2,145.4L865.2,145.1L866.8,145.1L866.8,146.1L868.4,146.1L868.4,147.9L870.0,147.9L870.0,149.8L871.7,149.8L871.7,150.8L873.3,150.8L873.3,150.0L874.9,150.0L874.9,146.3L876.5,146.3L876.5,141.1L878.1,141.1L878.1,135.8L879.7,135.8L879.7,131.9L881.3,131.9L881.3,130.8L882.9,130.8L882.9,133.4L884.5,133.4L884.5,138.6L886.2,138.6L886.2,144.7L887.8,144.7L887.8,150.0L889.4,150.0L889.4,153.1L891.0,153.1L891.0,153.9L892.6,153.9L892.6,154.5L894.2,154.5L894.2,155.0L895.8,155.0L895.8,155.4L897.4,155.4L897.4,156.0L899.0,156.0L899.0,156.8L900.6,156.8L900.6,157.5L902.3,157.5L902.3,158.1L903.9,158.1L903.9,158.2L905.5,158.2L905.5,156.4L907.1,156.4L907.1,152.8L908.7,152.8L908.7,148.4L910.3,148.4L910.3,144.1L911.9,144.1L911.9,140.9L913.5,140.9L913.5,139.8L915.1,139.8L915.1,141.3L916.8,141.3L916.8,144.4L918.4,144.4L918.4,148.2L920.0,148.2L920.0,151.6L921.6,151.6L921.6,153.7L923.2,153.7L923.2,153.7L924.8,153.7L924.8,152.9L926.4,152.9L926.4,151.7L928.0,151.7L928.0,150.6L929.6,150.6L929.6,150.2L931.3,150.2L931.3,150.7L932.9,150.7L932.9,151.9L934.5,151.9L934.5,152.9L936.1,152.9L936.1,153.1L937.7,153.1L937.7,151.4L939.3,151.4L939.3,148.2L940.9,148.2L940.9,144.5L942.5,144.5L942.5,141.1L944.1,141.1L944.1,138.8L945.7,138.8L945.7,138.6L947.4,138.6L947.4,140.0L949.0,140.0L949.0,142.5L950.6,142.5L950.6,145.2L952.2,145.2L952.2,147.5L953.8,147.5L953.8,148.7L955.4,148.7L955.4,148.5L957.0,148.5L957.0,147.5L958.6,147.5L958.6,146.0L960.2,146.0L960.2,144.1L961.9,144.1L961.9,141.9L963.5,141.9L963.5,139.5L965.1,139.5L965.1,137.1L966.7,137.1L966.7,134.6L968.3,134.6L968.3,131.7L969.9,131.7L969.9,128.3L971.5,128.3L971.5,124.2L973.1,124.2L973.1,118.9L974.7,118.9L974.7,110.0L976.4,110.0L976.4,101.4L978.0,101.4L978.0,98.1L979.6,98.1L979.6,100.0L981.2,100.0L981.2,104.1L982.8,104.1L982.8,109.4L984.4,109.4L984.4,114.9L986.0,114.9L986.0,122.1L987.6,122.1L987.6,130.4L989.2,130.4L989.2,140.4L990.8,140.4L990.8,151.7L992.5,151.7L992.5,161.9L994.1,161.9L994.1,169.1L995.7,169.1L995.7,175.7L997.3,175.7L997.3,181.1L998.9,181.1L998.9,184.0L1000.5,184.0L1000.5,183.6L1002.1,183.6L1002.1,181.1L1003.7,181.1L1003.7,177.4L1005.3,177.4L1005.3,173.3L1007.0,173.3L1007.0,169.6L1008.6,169.6L1008.6,167.1L1010.2,167.1L1010.2,166.6L1011.8,166.6L1011.8,168.8L1013.4,168.8L1013.4,172.7L1015.0,172.7L1015.0,178.1L1016.6,178.1L1016.6,188.0L1018.2,188.0L1018.2,200.1L1019.8,200.1L1019.8,211.2L1021.5,211.2L1021.5,219.3L1023.1,219.3L1023.1,226.4L1024.7,226.4L1024.7,234.6L1026.3,234.6L1026.3,243.1L1027.9,243.1L1027.9,252.1L1029.5,252.1L1029.5,258.9L1031.1,258.9L1031.1,259.8L1032.7,259.8L1032.7,261.5L1034.3,261.5L1034.3,262.5L1035.9,262.5L1035.9,262.8L1037.6,262.8L1037.6,265.1L1039.2,265.1L1039.2,266.0L1040.8,266.0L1040.8,267.0L1042.4,267.0L1042.4,266.9L1044.0,266.9L1044.0,271.0L1045.6,271.0L1045.6,273.4L1047.2,273.4L1047.2,280.5L1048.8,280.5L1048.8,285.3L1050.4,285.3L1050.4,290.7L1052.1,290.7L1052.1,291.7L1053.7,291.7L1053.7,296.9L1055.3,296.9L1055.3,300.1L1056.9,300.1L1056.9,297.6L1058.5,297.6L1058.5,301.4L1060.1,301.4L1060.1,308.0L1061.7,308.0L1061.7,311.6L1063.3,311.6L1063.3,313.4L1064.9,313.4L1064.9,302.0L1066.6,302.0L1066.6,319.1L1068.2,319.1L1068.2,306.6L1069.8,306.6L1069.8,311.2L1071.4,311.2L1071.4,317.9L1073.0,317.9L1073.0,313.8L1074.6,313.8L1074.6,313.4L1076.2,313.4L1076.2,323.6L1077.8,323.6L1077.8,321.6L1079.4,321.6L1079.4,328.4L1081.0,328.4L1081.0,327.5L1082.7,327.5L1082.7,327.5L1084.3,327.5L1084.3,326.7L1085.9,326.7L1085.9,329.3L1087.5,329.3L1087.5,329.3L1089.1,329.3L1089.1,334.4L1090.7,334.4L1090.7,323.6L1092.3,323.6L1092.3,326.7L1093.9,326.7L1093.9,323.6L1095.5,323.6L1095.5,329.3L1097.2,329.3L1097.2,325.1L1098.8,325.1L1098.8,334.4L1100.4,334.4L1100.4,322.9L1102.0,322.9L1102.0,331.2L1103.6,331.2L1103.6,322.9L1105.2,322.9L1105.2,325.9L1106.8,325.9L1106.8,322.2L1108.4,322.2L1108.4,332.3L1110.0,332.3L1110.0,318.5L1111.7,318.5L1111.7,327.5L1113.3,327.5L1113.3,330.2L1114.9,330.2L1114.9,333.3L1116.5,333.3L1116.5,338.2L1118.1,338.2L1118.1,331.2L1119.7,331.2L1119.7,334.4L1121.3,334.4L1121.3,333.3L1122.9,333.3L1122.9,328.4L1124.5,328.4L1124.5,333.3L1126.1,333.3L1126.1,341.1L1127.8,341.1L1127.8,342.7L1129.4,342.7L1129.4,339.6L1131.0,339.6L1131.0,334.4L1132.6,334.4L1132.6,329.3L1134.2,329.3L1134.2,332.3L1135.8,332.3L1135.8,332.3L1137.4,332.3L1137.4,342.7L1139.0,342.7L1139.0,329.3L1140.6,329.3L1140.6,331.2L1142.3,331.2L1142.3,338.2L1143.9,338.2L1143.9,346.2L1145.5,346.2L1145.5,338.2L1147.1,338.2L1147.1,336.9L1148.7,336.9L1148.7,330.2L1150.3,330.2L1150.3,350.4L1151.9,350.4L1151.9,333.3L1153.5,333.3L1153.5,341.1L1155.1,341.1L1155.1,336.9L1156.7,336.9L1156.7,335.6L1158.4,335.6L1158.4,341.1L1160.0,341.1L1160.0,355.5L1161.6,355.5L1161.6,344.4L1163.2,344.4L1163.2,333.3L1164.8,333.3L1164.8,333.3L1166.4,333.3L1166.4,344.4L1168.0,344.4L1168.0,355.5L1169.6,355.5L1169.6,341.1L1171.2,341.1L1171.2,335.6L1172.9,335.6L1172.9,362.2L1174.5,362.2L1174.5,339.6L1176.1,339.6L1176.1,346.2L1177.7,346.2L1177.7,355.5L1179.3,355.5L1179.3,341.1L1180.9,341.1L1180.9,341.1L1182.5,341.1L1182.5,355.5L1184.1,355.5L1184.1,366.4L1185.7,366.4L1185.7,348.2L1187.4,348.2L1187.4,352.8L1189.0,352.8L1189.0,338.2L1190.6,338.2L1190.6,344.4L1192.2,344.4L1192.2,346.2L1193.8,346.2L1193.8,350.4L1195.4,350.4L1195.4,366.4L1197.0,366.4L1197.0,342.7L1198.6,342.7L1198.6,346.2L1200.2,346.2L1200.2,350.4L1201.8,350.4L1201.8,348.2L1203.5,348.2L1203.5,350.4L1205.1,350.4L1205.1,346.2L1206.7,346.2L1206.7,344.4L1208.3,344.4L1208.3,346.2L1209.9,346.2L1209.9,358.6L1211.5,358.6L1211.5,350.4L1213.1,350.4L1213.1,352.8L1214.7,352.8L1214.7,358.6L1216.3,358.6L1216.3,352.8L1218.0,352.8L1218.0,342.7L1219.6,342.7L1219.6,346.2L1221.2,346.2L1221.2,355.5L1222.8,355.5L1222.8,350.4L1224.4,350.4L1224.4,348.2L1226.0,348.2L1226.0,346.2L1227.6,346.2L1227.6,346.2L1229.2,346.2L1229.2,350.4L1230.8,350.4L1230.8,378.1L1232.5,378.1L1232.5,350.4L1234.1,350.4L1234.1,355.5L1235.7,355.5L1235.7,348.2L1237.3,348.2L1237.3,362.2L1238.9,362.2L1238.9,348.2L1240.5,348.2L1240.5,348.2L1242.1,348.2L1242.1,346.2L1243.7,346.2L1243.7,362.2L1245.3,362.2L1245.3,348.2L1246.9,348.2L1246.9,339.6L1248.6,339.6L1248.6,352.8L1250.2,352.8L1250.2,358.6L1251.8,358.6L1251.8,350.4L1253.4,350.4L1253.4,348.2L1255.0,348.2L1255.0,362.2L1256.6,362.2L1256.6,344.4L1258.2,344.4L1258.2,355.5L1259.8,355.5L1259.8,362.2L1261.4,362.2L1261.4,348.2L1263.1,348.2L1263.1,346.2L1264.7,346.2L1264.7,358.6L1266.3,358.6L1266.3,346.2L1267.9,346.2L1267.9,342.7L1269.5,342.7L1269.5,344.4L1271.1,344.4L1271.1,333.3L1272.7,333.3L1272.7,355.5L1274.3,355.5L1274.3,346.2L1275.9,346.2L1275.9,407.3Z" fill="#808080" fill-opacity="0.75"/>
<path d="M712.2,157.1H713.8V147.8H715.4V135.5H717.0V123.5H718.6V115.6H720.2V115.1H721.9V119.7H723.5V126.4H725.1V134.5H726.7V146.7H728.3V152.4H729.9V150.5H731.5V146.5H733.1V142.1H734.7V139.2H736.4V139.1H738.0V141.4H739.6V144.6H741.2V147.3H742.8V147.5H744.4V141.1H746.0V130.9H747.6V120.1H749.2V105.4H750.9V93.8H752.5V92.8H754.1V97.3H755.7V104.0H757.3V112.8H758.9V128.0H760.5V138.5H762.1V138.2H763.7V136.1H765.3V133.6H767.0V132.0H768.6V132.7H770.2V135.8H771.8V139.5H773.4V142.2H775.0V141.6H776.6V135.0H778.2V126.0H779.8V117.6H781.5V107.1H783.1V99.2H784.7V98.4H786.3V101.7H787.9V106.7H789.5V113.0H791.1V123.8H792.7V137.0H794.3V149.4H796.0V158.1H797.6V161.6H799.2V163.7H800.8V165.4H802.4V167.9H804.0V171.7H805.6V174.3H807.2V172.9H808.8V166.7H810.4V157.5H812.1V147.5H813.7V138.5H815.3V132.8H816.9V132.3H818.5V136.4H820.1V142.4H821.7V148.9H823.3V157.9H824.9V165.7H826.6V167.8H828.2V167.5H829.8V167.1H831.4V167.0H833.0V168.4H834.6V171.8H836.2V175.8H837.8V179.2H839.4V180.6H841.1V178.2H842.7V172.3H844.3V164.9H845.9V158.0H847.5V153.6H849.1V153.6H850.7V158.0H852.3V164.4H853.9V170.5H855.5V173.8H857.2V173.2H858.8V170.9H860.4V167.8H862.0V164.8H863.6V162.6H865.2V162.2H866.8V163.8H868.4V166.5H870.0V169.2H871.7V170.8H873.3V169.5H874.9V164.0H876.5V156.1H878.1V148.2H879.7V142.3H881.3V140.7H882.9V144.4H884.5V151.6H886.2V160.0H887.8V167.6H889.4V172.0H891.0V173.3H892.6V174.1H894.2V174.8H895.8V175.5H897.4V176.5H899.0V178.0H900.6V179.6H902.3V180.9H903.9V181.2H905.5V178.3H907.1V172.6H908.7V165.6H910.3V158.8H911.9V153.8H913.5V152.1H915.1V154.6H916.8V159.8H918.4V166.2H920.0V172.0H921.6V175.5H923.2V175.5H924.8V173.7H926.4V171.3H928.0V169.2H929.6V168.2H931.3V169.4H932.9V172.0H934.5V174.4H936.1V174.8H937.7V172.3H939.3V167.6H940.9V162.2H942.5V157.1H944.1V153.8H945.7V153.4H947.4V155.5H949.0V158.9H950.6V162.8H952.2V166.0H953.8V167.7H955.4V167.2H957.0V165.3H958.6V162.3H960.2V158.6H961.9V154.4H963.5V150.0H965.1V146.0H966.7V142.5H968.3V139.2H969.9V135.6H971.5V131.4H973.1V125.7H974.7V116.3H976.4V107.3H978.0V103.8H979.6V105.6H981.2V109.5H982.8V114.5H984.4V119.9H986.0V127.1H987.6V135.4H989.2V145.4H990.8V156.7H992.5V166.9H994.1V174.3H995.7V181.5H997.3V187.5H998.9V190.8H1000.5V190.4H1002.1V187.6H1003.7V183.5H1005.3V179.0H1007.0V174.9H1008.6V172.1H1010.2V171.6H1011.8V173.8H1013.4V177.7H1015.0V183.1H1016.6V193.0H1018.2V205.1H1019.8V216.2H1021.5V224.4H1023.1V231.8H1024.7V239.6H1026.3V247.7H1027.9V257.6H1029.5V263.9H1031.1V263.7H1032.7V266.5H1034.3V267.5H1035.9V267.5H1037.6V270.6H1039.2V271.1H1040.8V271.8H1042.4V273.2H1044.0V278.4H1045.6V281.1H1047.2V289.8H1048.8V295.2H1050.4V307.3H1052.1V302.8H1053.7V315.3H1055.3V320.9H1056.9V316.8H1058.5V326.7H1060.1V331.2H1061.7V338.2H1063.3V336.9H1064.9V324.4H1066.6V339.6H1068.2V330.2H1069.8V327.5H1071.4V336.9H1073.0V332.3H1074.6V333.3H1076.2V341.1H1077.8V350.4H1079.4V350.4H1081.0V371.5H1082.7V366.4H1084.3V371.5H1085.9V358.6H1087.5V350.4H1089.1V366.4H1090.7V355.5H1092.3V352.8H1093.9V362.2H1095.5V366.4H1097.2V355.5H1098.8V358.6H1100.4V355.5H1102.0V355.5H1103.6V352.8H1105.2V355.5H1106.8V358.6H1108.4V371.5H1110.0V341.1H1111.7V362.2H1113.3V352.8H1114.9V371.5H1116.5V403.4H1118.1V371.5H1119.7V371.5H1121.3V362.2H1122.9V350.4H1124.5V403.4H1126.1V387.4H1127.8V371.5H1129.4V355.5H1131.0V366.4H1132.6V362.2H1134.2V352.8H1135.8V378.1H1137.4V371.5H1139.0V358.6H1140.6V387.4H1142.3V366.4H1143.9V371.5H1145.5V366.4H1147.1V387.4H1148.7V358.6H1150.3V366.4H1151.9V371.5H1153.5V378.1H1155.1V362.2H1156.7V355.5H1158.4V366.4H1160.0V387.4H1161.6V378.1H1163.2V358.6H1164.8V378.1H1166.4V371.5H1168.0V378.1H1169.6V362.2H1171.2V366.4H1172.9V387.4H1174.5V378.1H1176.1V371.5H1177.7V403.4H1179.3V366.4H1180.9V403.4H1182.5V403.4H1184.1V408.3H1185.7V403.4H1187.4V378.1H1189.0V371.5H1190.6V403.4H1192.2V387.4H1193.8V387.4H1195.4V408.3H1197.0V403.4H1198.6V371.5H1200.2V403.4H1201.8V378.1H1203.5V387.4H1205.1V387.4H1206.7V371.5H1208.3V378.1H1209.9V387.4H1211.5V408.3H1213.1V387.4H1214.7V403.4H1216.3V378.1H1218.0V371.5H1219.6V403.4H1221.2V403.4H1222.8V387.4H1224.4V387.4H1226.0V366.4H1227.6V387.4H1229.2V371.5H1230.8V408.3H1232.5V408.3H1234.1V408.3H1235.7V378.1H1237.3V408.3H1238.9V387.4H1240.5V403.4H1242.1V403.4H1243.7V403.4H1245.3V387.4H1246.9V387.4H1248.6V378.1H1250.2V403.4H1251.8V371.5H1253.4V403.4H1255.0V403.4H1256.6V366.4H1258.2V403.4H1259.8V387.4H1261.4V387.4H1263.1V371.5H1264.7V403.4H1266.3V378.1H1267.9V387.4H1269.5V403.4H1271.1V371.5H1272.7V403.4H1274.3V378.1H1275.9" stroke="#1f77b4" stroke-width="1.0" stroke-opacity="0.85" fill="none"/>
<path d="M712.2,154.9H713.8V145.7H715.4V133.4H717.0V121.5H718.6V113.7H720.2V113.2H721.9V117.7H723.5V124.5H725.1V132.5H726.7V144.7H728.3V150.3H729.9V148.4H731.5V144.4H733.1V140.1H734.7V137.1H736.4V137.0H738.0V139.4H739.6V142.6H741.2V145.2H742.8V145.4H744.4V139.1H746.0V128.9H747.6V118.2H749.2V103.5H750.9V92.0H752.5V90.9H754.1V95.3H755.7V102.1H757.3V110.8H758.9V126.0H760.5V136.5H762.1V136.2H763.7V134.0H765.3V131.6H767.0V130.0H768.6V130.7H770.2V133.7H771.8V137.5H773.4V140.1H775.0V139.5H776.6V133.0H778.2V124.0H779.8V115.6H781.5V105.2H783.1V97.3H784.7V96.5H786.3V99.8H787.9V104.8H789.5V111.1H791.1V121.8H792.7V135.0H794.3V147.4H796.0V156.1H797.6V159.5H799.2V161.6H800.8V163.3H802.4V165.9H804.0V169.6H805.6V172.2H807.2V170.8H808.8V164.7H810.4V155.7H812.1V145.8H813.7V137.0H815.3V131.4H816.9V130.9H818.5V135.0H820.1V141.1H821.7V147.4H823.3V156.3H824.9V164.0H826.6V166.1H828.2V165.8H829.8V165.5H831.4V165.3H833.0V166.7H834.6V170.0H836.2V174.0H837.8V177.4H839.4V178.8H841.1V176.4H842.7V170.6H844.3V163.3H845.9V156.5H847.5V152.1H849.1V152.1H850.7V156.4H852.3V162.8H853.9V168.8H855.5V172.0H857.2V171.5H858.8V169.2H860.4V166.2H862.0V163.2H863.6V161.0H865.2V160.6H866.8V162.2H868.4V164.8H870.0V167.5H871.7V169.0H873.3V167.8H874.9V162.3H876.5V154.6H878.1V146.7H879.7V140.9H881.3V139.3H882.9V143.0H884.5V150.1H886.2V158.5H887.8V165.9H889.4V170.3H891.0V171.6H892.6V172.4H894.2V173.1H895.8V173.8H897.4V174.8H899.0V176.2H900.6V177.8H902.3V179.1H903.9V179.3H905.5V176.5H907.1V170.9H908.7V164.0H910.3V157.3H911.9V152.4H913.5V150.7H915.1V153.1H916.8V158.3H918.4V164.6H920.0V170.3H921.6V173.7H923.2V173.7H924.8V171.9H926.4V169.6H928.0V167.5H929.6V166.6H931.3V167.8H932.9V170.3H934.5V172.6H936.1V173.0H937.7V170.5H939.3V165.9H940.9V160.5H942.5V155.5H944.1V152.3H945.7V151.9H947.4V153.9H949.0V157.3H950.6V161.1H952.2V164.4H953.8V166.0H955.4V165.6H957.0V163.7H958.6V160.7H960.2V157.1H961.9V152.9H963.5V148.7H965.1V144.8H966.7V141.4H968.3V138.1H969.9V134.5H971.5V130.4H973.1V124.7H974.7V115.4H976.4V106.5H978.0V103.0H979.6V104.7H981.2V108.7H982.8V113.6H984.4V119.1H986.0V126.3H987.6V134.5H989.2V144.6H990.8V155.8H992.5V166.0H994.1V173.5H995.7V180.6H997.3V186.6H998.9V189.9H1000.5V189.5H1002.1V186.7H1003.7V182.7H1005.3V178.1H1007.0V174.1H1008.6V171.3H1010.2V170.8H1011.8V173.0H1013.4V176.9H1015.0V182.3H1016.6V192.2H1018.2V204.3H1019.8V215.4H1021.5V223.6H1023.1V230.8H1024.7V238.8H1026.3V247.0H1027.9V256.6H1029.5V263.1H1031.1V262.9H1032.7V265.4H1034.3V266.6H1035.9V267.1H1037.6V269.3H1039.2V270.3H1040.8V271.2H1042.4V271.9H1044.0V277.4H1045.6V279.7H1047.2V288.1H1048.8V294.0H1050.4V303.7H1052.1V300.6H1053.7V314.3H1055.3V318.5H1056.9V316.3H1058.5V320.9H1060.1V328.4H1061.7V336.9H1063.3V333.3H1064.9V320.3H1066.6V335.6H1068.2V328.4H1069.8V326.7H1071.4V332.3H1073.0V327.5H1074.6V331.2H1076.2V339.6H1077.8V348.2H1079.4V350.4H1081.0V362.2H1082.7V362.2H1084.3V366.4H1085.9V355.5H1087.5V350.4H1089.1V366.4H1090.7V355.5H1092.3V350.4H1093.9V358.6H1095.5V352.8H1097.2V350.4H1098.8V355.5H1100.4V352.8H1102.0V355.5H1103.6V348.2H1105.2V355.5H1106.8V355.5H1108.4V366.4H1110.0V341.1H1111.7V355.5H1113.3V352.8H1114.9V371.5H1116.5V387.4H1118.1V366.4H1119.7V366.4H1121.3V355.5H1122.9V350.4H1124.5V387.4H1126.1V387.4H1127.8V371.5H1129.4V355.5H1131.0V366.4H1132.6V358.6H1134.2V348.2H1135.8V371.5H1137.4V371.5H1139.0V352.8H1140.6V387.4H1142.3V366.4H1143.9V366.4H1145.5V366.4H1147.1V362.2H1148.7V358.6H1150.3V366.4H1151.9V362.2H1153.5V371.5H1155.1V362.2H1156.7V355.5H1158.4V366.4H1160.0V387.4H1161.6V378.1H1163.2V352.8H1164.8V371.5H1166.4V371.5H1168.0V378.1H1169.6V362.2H1171.2V362.2H1172.9V387.4H1174.5V362.2H1176.1V371.5H1177.7V403.4H1179.3V362.2H1180.9V387.4H1182.5V403.4H1184.1V408.3H1185.7V403.4H1187.4V378.1H1189.0V371.5H1190.6V403.4H1192.2V387.4H1193.8V387.4H1195.4V408.3H1197.0V387.4H1198.6V371.5H1200.2V403.4H1201.8V378.1H1203.5V387.4H1205.1V387.4H1206.7V371.5H1208.3V378.1H1209.9V387.4H1211.5V408.3H1213.1V387.4H1214.7V403.4H1216.3V378.1H1218.0V371.5H1219.6V403.4H1221.2V387.4H1222.8V378.1H1224.4V387.4H1226.0V366.4H1227.6V378.1H1229.2V371.5H1230.8V408.3H1232.5V403.4H1234.1V408.3H1235.7V378.1H1237.3V408.3H1238.9V378.1H1240.5V403.4H1242.1V403.4H1243.7V403.4H1245.3V387.4H1246.9V387.4H1248.6V378.1H1250.2V403.4H1251.8V371.5H1253.4V403.4H1255.0V403.4H1256.6V366.4H1258.2V403.4H1259.8V387.4H1261.4V387.4H1263.1V371.5H1264.7V403.4H1266.3V378.1H1267.9V387.4H1269.5V403.4H1271.1V371.5H1272.7V403.4H1274.3V378.1H1275.9" stroke="#ff7f0e" stroke-width="1.0" stroke-opacity="0.85" fill="none"/>
<path d="M712.2,152.8H713.8V143.6H715.4V131.4H717.0V119.5H718.6V111.8H720.2V111.3H721.9V115.8H723.5V122.5H725.1V130.5H726.7V142.6H728.3V148.2H729.9V146.3H731.5V142.3H733.1V138.0H734.7V135.1H736.4V135.0H738.0V137.3H739.6V140.5H741.2V143.1H742.8V143.3H744.4V137.0H746.0V126.9H747.6V116.2H749.2V101.6H750.9V90.1H752.5V89.0H754.1V93.4H755.7V100.1H757.3V108.9H758.9V124.0H760.5V134.4H762.1V134.1H763.7V132.0H765.3V129.5H767.0V128.0H768.6V128.7H770.2V131.7H771.8V135.4H773.4V138.1H775.0V137.5H776.6V131.0H778.2V122.0H779.8V113.6H781.5V103.3H783.1V95.4H784.7V94.6H786.3V97.9H787.9V102.9H789.5V109.1H791.1V119.9H792.7V133.0H794.3V145.4H796.0V154.0H797.6V157.5H799.2V159.5H800.8V161.2H802.4V163.8H804.0V167.5H805.6V170.1H807.2V168.8H808.8V162.8H810.4V153.9H812.1V144.1H813.7V135.5H815.3V130.0H816.9V129.6H818.5V133.7H820.1V139.7H821.7V146.0H823.3V154.8H824.9V162.4H826.6V164.4H828.2V164.1H829.8V163.8H831.4V163.6H833.0V165.0H834.6V168.3H836.2V172.2H837.8V175.5H839.4V176.9H841.1V174.6H842.7V168.8H844.3V161.6H845.9V154.9H847.5V150.7H849.1V150.7H850.7V154.9H852.3V161.2H853.9V167.1H855.5V170.3H857.2V169.8H858.8V167.5H860.4V164.5H862.0V161.5H863.6V159.4H865.2V159.0H866.8V160.5H868.4V163.2H870.0V165.8H871.7V167.3H873.3V166.1H874.9V160.7H876.5V153.0H878.1V145.3H879.7V139.6H881.3V138.0H882.9V141.6H884.5V148.6H886.2V156.9H887.8V164.3H889.4V168.6H891.0V169.9H892.6V170.7H894.2V171.4H895.8V172.1H897.4V173.0H899.0V174.5H900.6V176.0H902.3V177.2H903.9V177.5H905.5V174.7H907.1V169.2H908.7V162.4H910.3V155.8H911.9V150.9H913.5V149.3H915.1V151.6H916.8V156.7H918.4V162.9H920.0V168.5H921.6V171.9H923.2V171.9H924.8V170.2H926.4V167.9H928.0V165.8H929.6V164.9H931.3V166.1H932.9V168.6H934.5V170.8H936.1V171.2H937.7V168.8H939.3V164.2H940.9V158.9H942.5V154.0H944.1V150.7H945.7V150.3H947.4V152.3H949.0V155.7H950.6V159.5H952.2V162.7H953.8V164.3H955.4V163.9H957.0V162.0H958.6V159.1H960.2V155.6H961.9V151.5H963.5V147.4H965.1V143.6H966.7V140.2H968.3V137.0H969.9V133.4H971.5V129.3H973.1V123.7H974.7V114.4H976.4V105.6H978.0V102.1H979.6V103.9H981.2V107.8H982.8V112.8H984.4V118.2H986.0V125.5H987.6V133.7H989.2V143.7H990.8V155.0H992.5V165.2H994.1V172.7H995.7V179.8H997.3V185.8H998.9V189.0H1000.5V188.6H1002.1V185.9H1003.7V181.8H1005.3V177.3H1007.0V173.2H1008.6V170.5H1010.2V170.0H1011.8V172.2H1013.4V176.1H1015.0V181.4H1016.6V191.3H1018.2V203.5H1019.8V214.5H1021.5V222.7H1023.1V229.9H1024.7V238.0H1026.3V246.2H1027.9V255.8H1029.5V262.4H1031.1V262.3H1032.7V264.6H1034.3V265.8H1035.9V266.4H1037.6V268.6H1039.2V269.4H1040.8V270.4H1042.4V270.7H1044.0V276.3H1045.6V278.6H1047.2V285.9H1048.8V292.1H1050.4V301.1H1052.1V299.1H1053.7V309.9H1055.3V315.8H1056.9V314.3H1058.5V319.1H1060.1V327.5H1061.7V336.9H1063.3V332.3H1064.9V318.5H1066.6V333.3H1068.2V325.9H1069.8V325.9H1071.4V331.2H1073.0V327.5H1074.6V331.2H1076.2V338.2H1077.8V344.4H1079.4V350.4H1081.0V355.5H1082.7V350.4H1084.3V362.2H1085.9V355.5H1087.5V350.4H1089.1V366.4H1090.7V348.2H1092.3V341.1H1093.9V355.5H1095.5V346.2H1097.2V350.4H1098.8V352.8H1100.4V350.4H1102.0V355.5H1103.6V346.2H1105.2V352.8H1106.8V348.2H1108.4V366.4H1110.0V339.6H1111.7V355.5H1113.3V352.8H1114.9V371.5H1116.5V387.4H1118.1V355.5H1119.7V366.4H1121.3V352.8H1122.9V350.4H1124.5V387.4H1126.1V387.4H1127.8V366.4H1129.4V355.5H1131.0V366.4H1132.6V355.5H1134.2V348.2H1135.8V362.2H1137.4V371.5H1139.0V350.4H1140.6V371.5H1142.3V366.4H1143.9V366.4H1145.5V362.2H1147.1V358.6H1148.7V358.6H1150.3V366.4H1151.9V358.6H1153.5V371.5H1155.1V362.2H1156.7V352.8H1158.4V358.6H1160.0V387.4H1161.6V378.1H1163.2V350.4H1164.8V371.5H1166.4V371.5H1168.0V371.5H1169.6V362.2H1171.2V358.6H1172.9V387.4H1174.5V355.5H1176.1V371.5H1177.7V403.4H1179.3V362.2H1180.9V387.4H1182.5V403.4H1184.1V408.3H1185.7V387.4H1187.4V378.1H1189.0V362.2H1190.6V403.4H1192.2V378.1H1193.8V387.4H1195.4V408.3H1197.0V371.5H1198.6V366.4H1200.2V387.4H1201.8V378.1H1203.5V387.4H1205.1V378.1H1206.7V366.4H1208.3V378.1H1209.9V387.4H1211.5V403.4H1213.1V387.4H1214.7V403.4H1216.3V378.1H1218.0V371.5H1219.6V403.4H1221.2V387.4H1222.8V378.1H1224.4V387.4H1226.0V366.4H1227.6V371.5H1229.2V371.5H1230.8V408.3H1232.5V403.4H1234.1V408.3H1235.7V371.5H1237.3V408.3H1238.9V378.1H1240.5V403.4H1242.1V387.4H1243.7V403.4H1245.3V387.4H1246.9V378.1H1248.6V378.1H1250.2V403.4H1251.8V366.4H1253.4V403.4H1255.0V403.4H1256.6V362.2H1258.2V403.4H1259.8V387.4H1261.4V387.4H1263.1V371.5H1264.7V403.4H1266.3V378.1H1267.9V378.1H1269.5V403.4H1271.1V366.4H1272.7V403.4H1274.3V371.5H1275.9" stroke="#2ca02c" stroke-width="1.0" stroke-opacity="0.85" fill="none"/>
<path d="M712.2,150.6H713.8V141.5H715.4V129.4H717.0V117.6H718.6V109.8H720.2V109.3H721.9V113.8H723.5V120.5H725.1V128.5H726.7V140.5H728.3V146.1H729.9V144.2H731.5V140.2H733.1V136.0H734.7V133.1H736.4V133.0H738.0V135.3H739.6V138.4H741.2V141.0H742.8V141.2H744.4V134.9H746.0V124.9H747.6V114.3H749.2V99.7H750.9V88.2H752.5V87.1H754.1V91.5H755.7V98.2H757.3V106.9H758.9V121.9H760.5V132.3H762.1V132.0H763.7V129.9H765.3V127.5H767.0V126.0H768.6V126.7H770.2V129.7H771.8V133.4H773.4V136.0H775.0V135.4H776.6V128.9H778.2V120.0H779.8V111.7H781.5V101.4H783.1V93.5H784.7V92.7H786.3V96.0H787.9V101.0H789.5V107.2H791.1V117.9H792.7V131.0H794.3V143.4H796.0V152.0H797.6V155.4H799.2V157.4H800.8V159.2H802.4V161.7H804.0V165.5H805.6V168.0H807.2V166.8H808.8V160.8H810.4V152.0H812.1V142.4H813.7V133.9H815.3V128.5H816.9V128.2H818.5V132.4H820.1V138.3H821.7V144.5H823.3V153.2H824.9V160.7H826.6V162.7H828.2V162.4H829.8V162.1H831.4V161.9H833.0V163.3H834.6V166.5H836.2V170.4H837.8V173.7H839.4V175.0H841.1V172.7H842.7V167.1H844.3V160.0H845.9V153.4H847.5V149.2H849.1V149.2H850.7V153.4H852.3V159.6H853.9V165.4H855.5V168.6H857.2V168.0H858.8V165.8H860.4V162.8H862.0V159.9H863.6V157.8H865.2V157.4H866.8V158.9H868.4V161.5H870.0V164.1H871.7V165.6H873.3V164.4H874.9V159.1H876.5V151.5H878.1V143.8H879.7V138.2H881.3V136.6H882.9V140.2H884.5V147.2H886.2V155.4H887.8V162.7H889.4V166.9H891.0V168.2H892.6V169.0H894.2V169.6H895.8V170.3H897.4V171.3H899.0V172.7H900.6V174.2H902.3V175.4H903.9V175.6H905.5V172.9H907.1V167.5H908.7V160.7H910.3V154.2H911.9V149.4H913.5V147.8H915.1V150.2H916.8V155.2H918.4V161.3H920.0V166.8H921.6V170.1H923.2V170.1H924.8V168.4H926.4V166.1H928.0V164.1H929.6V163.3H931.3V164.4H932.9V166.8H934.5V169.0H936.1V169.4H937.7V167.0H939.3V162.5H940.9V157.2H942.5V152.4H944.1V149.2H945.7V148.8H947.4V150.8H949.0V154.1H950.6V157.9H952.2V161.0H953.8V162.6H955.4V162.2H957.0V160.4H958.6V157.6H960.2V154.0H961.9V150.1H963.5V146.1H965.1V142.4H966.7V139.1H968.3V135.9H969.9V132.4H971.5V128.3H973.1V122.8H974.7V113.5H976.4V104.7H978.0V101.3H979.6V103.0H981.2V107.0H982.8V112.0H984.4V117.4H986.0V124.6H987.6V132.9H989.2V142.9H990.8V154.2H992.5V164.4H994.1V171.8H995.7V178.9H997.3V184.9H998.9V188.1H1000.5V187.7H1002.1V185.0H1003.7V180.9H1005.3V176.4H1007.0V172.4H1008.6V169.6H1010.2V169.1H1011.8V171.3H1013.4V175.2H1015.0V180.6H1016.6V190.5H1018.2V202.6H1019.8V213.7H1021.5V221.9H1023.1V229.0H1024.7V237.0H1026.3V245.5H1027.9V254.9H1029.5V261.5H1031.1V261.8H1032.7V263.9H1034.3V264.7H1035.9V265.5H1037.6V267.9H1039.2V268.4H1040.8V269.6H1042.4V269.4H1044.0V275.2H1045.6V278.0H1047.2V284.8H1048.8V291.0H1050.4V298.1H1052.1V297.4H1053.7V308.0H1055.3V311.2H1056.9V312.5H1058.5V316.3H1060.1V322.2H1061.7V332.3H1063.3V331.2H1064.9V315.8H1066.6V332.3H1068.2V322.9H1069.8V324.4H1071.4V330.2H1073.0V325.9H1074.6V330.2H1076.2V334.4H1077.8V342.7H1079.4V348.2H1081.0V355.5H1082.7V348.2H1084.3V362.2H1085.9V352.8H1087.5V346.2H1089.1V366.4H1090.7V344.4H1092.3V339.6H1093.9V355.5H1095.5V346.2H1097.2V344.4H1098.8V352.8H1100.4V348.2H1102.0V350.4H1103.6V346.2H1105.2V352.8H1106.8V348.2H1108.4V358.6H1110.0V339.6H1111.7V348.2H1113.3V352.8H1114.9V366.4H1116.5V378.1H1118.1V352.8H1119.7V362.2H1121.3V350.4H1122.9V350.4H1124.5V366.4H1126.1V387.4H1127.8V362.2H1129.4V352.8H1131.0V355.5H1132.6V355.5H1134.2V348.2H1135.8V355.5H1137.4V371.5H1139.0V346.2H1140.6V366.4H1142.3V362.2H1143.9V362.2H1145.5V358.6H1147.1V358.6H1148.7V352.8H1150.3V366.4H1151.9V352.8H1153.5V371.5H1155.1V355.5H1156.7V348.2H1158.4V358.6H1160.0V387.4H1161.6V378.1H1163.2V350.4H1164.8V366.4H1166.4V366.4H1168.0V371.5H1169.6V352.8H1171.2V358.6H1172.9V387.4H1174.5V350.4H1176.1V371.5H1177.7V387.4H1179.3V362.2H1180.9V378.1H1182.5V403.4H1184.1V408.3H1185.7V387.4H1187.4V378.1H1189.0V362.2H1190.6V403.4H1192.2V378.1H1193.8V387.4H1195.4V403.4H1197.0V366.4H1198.6V366.4H1200.2V387.4H1201.8V378.1H1203.5V378.1H1205.1V378.1H1206.7V366.4H1208.3V371.5H1209.9V387.4H1211.5V403.4H1213.1V387.4H1214.7V403.4H1216.3V378.1H1218.0V366.4H1219.6V387.4H1221.2V387.4H1222.8V378.1H1224.4V371.5H1226.0V366.4H1227.6V362.2H1229.2V371.5H1230.8V408.3H1232.5V403.4H1234.1V387.4H1235.7V371.5H1237.3V408.3H1238.9V378.1H1240.5V403.4H1242.1V387.4H1243.7V403.4H1245.3V387.4H1246.9V378.1H1248.6V378.1H1250.2V387.4H1251.8V366.4H1253.4V403.4H1255.0V387.4H1256.6V362.2H1258.2V387.4H1259.8V387.4H1261.4V387.4H1263.1V371.5H1264.7V403.4H1266.3V371.5H1267.9V378.1H1269.5V403.4H1271.1V366.4H1272.7V403.4H1274.3V362.2H1275.9" stroke="#d62728" stroke-width="1.0" stroke-opacity="0.85" fill="none"/>
<path d="M712.2,148.4H713.8V139.4H715.4V127.4H717.0V115.6H718.6V107.9H720.2V107.4H721.9V111.9H723.5V118.5H725.1V126.5H726.7V138.4H728.3V144.0H729.9V142.1H731.5V138.2H733.1V133.9H734.7V131.0H736.4V130.9H738.0V133.2H739.6V136.4H741.2V138.9H742.8V139.2H744.4V132.9H746.0V122.9H747.6V112.3H749.2V97.8H750.9V86.3H752.5V85.2H754.1V89.6H755.7V96.3H757.3V105.0H758.9V119.9H760.5V130.3H762.1V130.0H763.7V127.9H765.3V125.5H767.0V124.0H768.6V124.7H770.2V127.7H771.8V131.3H773.4V133.9H775.0V133.3H776.6V126.9H778.2V118.0H779.8V109.7H781.5V99.4H783.1V91.6H784.7V90.9H786.3V94.1H787.9V99.1H789.5V105.3H791.1V116.0H792.7V129.1H794.3V141.4H796.0V149.9H797.6V153.3H799.2V155.3H800.8V157.1H802.4V159.6H804.0V163.4H805.6V166.0H807.2V164.7H808.8V158.8H810.4V150.2H812.1V140.7H813.7V132.4H815.3V127.1H816.9V126.9H818.5V131.0H820.1V136.9H821.7V143.1H823.3V151.7H824.9V159.0H826.6V161.0H828.2V160.7H829.8V160.4H831.4V160.2H833.0V161.6H834.6V164.8H836.2V168.6H837.8V171.8H839.4V173.2H841.1V170.9H842.7V165.3H844.3V158.4H845.9V151.9H847.5V147.8H849.1V147.8H850.7V151.9H852.3V158.0H853.9V163.7H855.5V166.9H857.2V166.3H858.8V164.1H860.4V161.1H862.0V158.2H863.6V156.1H865.2V155.7H866.8V157.3H868.4V159.8H870.0V162.3H871.7V163.9H873.3V162.7H874.9V157.4H876.5V150.0H878.1V142.4H879.7V136.8H881.3V135.3H882.9V138.8H884.5V145.7H886.2V153.8H887.8V161.0H889.4V165.2H891.0V166.5H892.6V167.3H894.2V167.9H895.8V168.6H897.4V169.5H899.0V170.9H900.6V172.4H902.3V173.5H903.9V173.8H905.5V171.1H907.1V165.7H908.7V159.1H910.3V152.7H911.9V148.0H913.5V146.4H915.1V148.7H916.8V153.6H918.4V159.6H920.0V165.0H921.6V168.3H923.2V168.3H924.8V166.7H926.4V164.4H928.0V162.5H929.6V161.6H931.3V162.7H932.9V165.1H934.5V167.2H936.1V167.6H937.7V165.2H939.3V160.8H940.9V155.6H942.5V150.8H944.1V147.7H945.7V147.3H947.4V149.2H949.0V152.5H950.6V156.2H952.2V159.3H953.8V160.9H955.4V160.5H957.0V158.7H958.6V156.0H960.2V152.5H961.9V148.7H963.5V144.8H965.1V141.2H966.7V137.9H968.3V134.8H969.9V131.3H971.5V127.3H973.1V121.8H974.7V112.6H976.4V103.8H978.0V100.4H979.6V102.2H981.2V106.1H982.8V111.1H984.4V116.6H986.0V123.8H987.6V132.0H989.2V142.1H990.8V153.3H992.5V163.5H994.1V171.0H995.7V178.1H997.3V184.0H998.9V187.3H1000.5V186.8H1002.1V184.1H1003.7V180.1H1005.3V175.6H1007.0V171.5H1008.6V168.8H1010.2V168.3H1011.8V170.5H1013.4V174.4H1015.0V179.8H1016.6V189.7H1018.2V201.8H1019.8V212.9H1021.5V221.0H1023.1V228.2H1024.7V236.2H1026.3V244.8H1027.9V254.2H1029.5V260.5H1031.1V261.1H1032.7V263.2H1034.3V263.8H1035.9V264.4H1037.6V267.2H1039.2V267.6H1040.8V268.8H1042.4V268.8H1044.0V274.3H1045.6V276.2H1047.2V282.6H1048.8V289.7H1050.4V295.2H1052.1V296.7H1053.7V305.3H1055.3V310.3H1056.9V310.3H1058.5V313.8H1060.1V319.7H1061.7V326.7H1063.3V329.3H1064.9V315.3H1066.6V331.2H1068.2V319.1H1069.8V322.9H1071.4V329.3H1073.0V324.4H1074.6V324.4H1076.2V332.3H1077.8V342.7H1079.4V344.4H1081.0V352.8H1082.7V346.2H1084.3V350.4H1085.9V348.2H1087.5V344.4H1089.1V352.8H1090.7V342.7H1092.3V336.9H1093.9V350.4H1095.5V339.6H1097.2V341.1H1098.8V350.4H1100.4V346.2H1102.0V350.4H1103.6V346.2H1105.2V348.2H1106.8V346.2H1108.4V352.8H1110.0V335.6H1111.7V344.4H1113.3V348.2H1114.9V366.4H1116.5V371.5H1118.1V350.4H1119.7V362.2H1121.3V346.2H1122.9V350.4H1124.5V355.5H1126.1V371.5H1127.8V355.5H1129.4V350.4H1131.0V352.8H1132.6V352.8H1134.2V346.2H1135.8V355.5H1137.4V366.4H1139.0V341.1H1140.6V362.2H1142.3V355.5H1143.9V362.2H1145.5V352.8H1147.1V350.4H1148.7V350.4H1150.3V358.6H1151.9V348.2H1153.5V366.4H1155.1V352.8H1156.7V348.2H1158.4V358.6H1160.0V378.1H1161.6V378.1H1163.2V346.2H1164.8V366.4H1166.4V362.2H1168.0V362.2H1169.6V350.4H1171.2V358.6H1172.9V378.1H1174.5V348.2H1176.1V362.2H1177.7V387.4H1179.3V362.2H1180.9V371.5H1182.5V387.4H1184.1V403.4H1185.7V387.4H1187.4V378.1H1189.0V355.5H1190.6V403.4H1192.2V378.1H1193.8V387.4H1195.4V403.4H1197.0V366.4H1198.6V366.4H1200.2V387.4H1201.8V378.1H1203.5V371.5H1205.1V378.1H1206.7V366.4H1208.3V362.2H1209.9V378.1H1211.5V387.4H1213.1V387.4H1214.7V403.4H1216.3V371.5H1218.0V362.2H1219.6V387.4H1221.2V378.1H1222.8V378.1H1224.4V371.5H1226.0V366.4H1227.6V358.6H1229.2V371.5H1230.8V408.3H1232.5V387.4H1234.1V387.4H1235.7V371.5H1237.3V408.3H1238.9V378.1H1240.5V403.4H1242.1V378.1H1243.7V403.4H1245.3V387.4H1246.9V371.5H1248.6V378.1H1250.2V387.4H1251.8V362.2H1253.4V403.4H1255.0V378.1H1256.6V362.2H1258.2V387.4H1259.8V387.4H1261.4V387.4H1263.1V371.5H1264.7V387.4H1266.3V366.4H1267.9V371.5H1269.5V403.4H1271.1V366.4H1272.7V387.4H1274.3V358.6H1275.9" stroke="#9467bd" stroke-width="1.0" stroke-opacity="0.85" fill="none"/>
<path d="M712.2,146.3H713.8V137.3H715.4V125.3H717.0V113.6H718.6V106.0H720.2V105.5H721.9V109.9H723.5V116.6H725.1V124.5H726.7V136.4H728.3V141.9H729.9V140.0H731.5V136.1H733.1V131.9H734.7V129.0H736.4V128.9H738.0V131.1H739.6V134.3H741.2V136.8H742.8V137.1H744.4V130.8H746.0V120.9H747.6V110.4H749.2V95.9H750.9V84.4H752.5V83.3H754.1V87.6H755.7V94.3H757.3V103.0H758.9V117.9H760.5V128.2H762.1V127.9H763.7V125.8H765.3V123.5H767.0V122.0H768.6V122.7H770.2V125.6H771.8V129.2H773.4V131.9H775.0V131.3H776.6V124.9H778.2V116.0H779.8V107.7H781.5V97.5H783.1V89.7H784.7V89.0H786.3V92.2H787.9V97.2H789.5V103.4H791.1V114.1H792.7V127.1H794.3V139.4H796.0V147.9H797.6V151.3H799.2V153.2H800.8V155.0H802.4V157.6H804.0V161.3H805.6V163.9H807.2V162.7H808.8V156.9H810.4V148.3H812.1V139.0H813.7V130.8H815.3V125.7H816.9V125.6H818.5V129.7H820.1V135.6H821.7V141.7H823.3V150.1H824.9V157.4H826.6V159.3H828.2V159.0H829.8V158.7H831.4V158.6H833.0V159.9H834.6V163.0H836.2V166.8H837.8V170.0H839.4V171.3H841.1V169.0H842.7V163.6H844.3V156.8H845.9V150.4H847.5V146.3H849.1V146.3H850.7V150.4H852.3V156.4H853.9V162.1H855.5V165.1H857.2V164.6H858.8V162.4H860.4V159.5H862.0V156.6H863.6V154.5H865.2V154.1H866.8V155.6H868.4V158.1H870.0V160.6H871.7V162.1H873.3V161.0H874.9V155.8H876.5V148.4H878.1V141.0H879.7V135.5H881.3V134.0H882.9V137.4H884.5V144.3H886.2V152.3H887.8V159.4H889.4V163.5H891.0V164.7H892.6V165.6H894.2V166.2H895.8V166.9H897.4V167.8H899.0V169.1H900.6V170.6H902.3V171.7H903.9V172.0H905.5V169.3H907.1V164.0H908.7V157.5H910.3V151.2H911.9V146.5H913.5V145.0H915.1V147.2H916.8V152.1H918.4V157.9H920.0V163.3H921.6V166.5H923.2V166.5H924.8V164.9H926.4V162.7H928.0V160.8H929.6V160.0H931.3V161.0H932.9V163.3H934.5V165.4H936.1V165.8H937.7V163.5H939.3V159.1H940.9V154.0H942.5V149.2H944.1V146.1H945.7V145.7H947.4V147.7H949.0V150.9H950.6V154.6H952.2V157.7H953.8V159.2H955.4V158.8H957.0V157.1H958.6V154.4H960.2V151.0H961.9V147.3H963.5V143.5H965.1V139.9H966.7V136.8H968.3V133.7H969.9V130.3H971.5V126.3H973.1V120.8H974.7V111.7H976.4V102.9H978.0V99.6H979.6V101.3H981.2V105.3H982.8V110.3H984.4V115.7H986.0V123.0H987.6V131.2H989.2V141.2H990.8V152.5H992.5V162.7H994.1V170.1H995.7V177.2H997.3V183.2H998.9V186.4H1000.5V185.9H1002.1V183.2H1003.7V179.2H1005.3V174.7H1007.0V170.7H1008.6V168.0H1010.2V167.5H1011.8V169.7H1013.4V173.6H1015.0V178.9H1016.6V188.8H1018.2V201.0H1019.8V212.0H1021.5V220.2H1023.1V227.4H1024.7V235.4H1026.3V244.0H1027.9V253.2H1029.5V259.5H1031.1V260.7H1032.7V262.3H1034.3V263.2H1035.9V263.6H1037.6V265.7H1039.2V267.1H1040.8V267.8H1042.4V267.9H1044.0V272.5H1045.6V274.5H1047.2V281.8H1048.8V287.8H1050.4V292.6H1052.1V295.0H1053.7V302.5H1055.3V308.8H1056.9V308.8H1058.5V311.6H1060.1V317.9H1061.7V321.6H1063.3V327.5H1064.9V312.9H1066.6V328.4H1068.2V315.8H1069.8V317.4H1071.4V326.7H1073.0V320.3H1074.6V322.9H1076.2V329.3H1077.8V342.7H1079.4V339.6H1081.0V350.4H1082.7V346.2H1084.3V344.4H1085.9V346.2H1087.5V342.7H1089.1V352.8H1090.7V336.9H1092.3V334.4H1093.9V344.4H1095.5V339.6H1097.2V338.2H1098.8V348.2H1100.4V344.4H1102.0V346.2H1103.6V341.1H1105.2V342.7H1106.8V346.2H1108.4V348.2H1110.0V334.4H1111.7V344.4H1113.3V346.2H1114.9V366.4H1116.5V366.4H1118.1V348.2H1119.7V362.2H1121.3V342.7H1122.9V344.4H1124.5V352.8H1126.1V366.4H1127.8V350.4H1129.4V348.2H1131.0V341.1H1132.6V352.8H1134.2V346.2H1135.8V350.4H1137.4V366.4H1139.0V339.6H1140.6V358.6H1142.3V355.5H1143.9V362.2H1145.5V350.4H1147.1V350.4H1148.7V346.2H1150.3V355.5H1151.9V348.2H1153.5V362.2H1155.1V350.4H1156.7V348.2H1158.4V352.8H1160.0V378.1H1161.6V378.1H1163.2V344.4H1164.8V366.4H1166.4V362.2H1168.0V362.2H1169.6V350.4H1171.2V358.6H1172.9V378.1H1174.5V348.2H1176.1V362.2H1177.7V387.4H1179.3V362.2H1180.9V371.5H1182.5V387.4H1184.1V403.4H1185.7V378.1H1187.4V378.1H1189.0V350.4H1190.6V387.4H1192.2V378.1H1193.8V378.1H1195.4V403.4H1197.0V362.2H1198.6V362.2H1200.2V378.1H1201.8V371.5H1203.5V371.5H1205.1V371.5H1206.7V366.4H1208.3V362.2H1209.9V378.1H1211.5V378.1H1213.1V387.4H1214.7V403.4H1216.3V371.5H1218.0V362.2H1219.6V387.4H1221.2V378.1H1222.8V378.1H1224.4V366.4H1226.0V366.4H1227.6V358.6H1229.2V371.5H1230.8V408.3H1232.5V387.4H1234.1V378.1H1235.7V358.6H1237.3V403.4H1238.9V378.1H1240.5V403.4H1242.1V378.1H1243.7V403.4H1245.3V378.1H1246.9V371.5H1248.6V378.1H1250.2V378.1H1251.8V362.2H1253.4V387.4H1255.0V378.1H1256.6V362.2H1258.2V387.4H1259.8V387.4H1261.4V387.4H1263.1V371.5H1264.7V387.4H1266.3V366.4H1267.9V371.5H1269.5V378.1H1271.1V358.6H1272.7V387.4H1274.3V358.6H1275.9" stroke="#8c564b" stroke-width="1.0" stroke-opacity="0.85" fill="none"/>
<path d="M712.2,144.1H713.8V135.2H715.4V123.3H717.0V111.7H718.6V104.0H720.2V103.6H721.9V108.0H723.5V114.6H725.1V122.5H726.7V134.3H728.3V139.8H729.9V137.9H731.5V134.0H733.1V129.8H734.7V126.9H736.4V126.8H738.0V129.1H739.6V132.2H741.2V134.7H742.8V135.0H744.4V128.8H746.0V118.9H747.6V108.4H749.2V94.0H750.9V82.5H752.5V81.3H754.1V85.7H755.7V92.4H757.3V101.1H758.9V115.9H760.5V126.1H762.1V125.8H763.7V123.8H765.3V121.5H767.0V120.0H768.6V120.7H770.2V123.6H771.8V127.2H773.4V129.8H775.0V129.2H776.6V122.8H778.2V114.0H779.8V105.8H781.5V95.6H783.1V87.8H784.7V87.1H786.3V90.3H787.9V95.3H789.5V101.5H791.1V112.1H792.7V125.1H794.3V137.4H796.0V145.9H797.6V149.2H799.2V151.1H800.8V152.9H802.4V155.5H804.0V159.2H805.6V161.8H807.2V160.6H808.8V154.9H810.4V146.5H812.1V137.3H813.7V129.3H815.3V124.3H816.9V124.2H818.5V128.3H820.1V134.2H821.7V140.2H823.3V148.6H824.9V155.7H826.6V157.6H828.2V157.4H829.8V157.1H831.4V156.9H833.0V158.2H834.6V161.3H836.2V165.0H837.8V168.1H839.4V169.4H841.1V167.2H842.7V161.9H844.3V155.1H845.9V148.9H847.5V144.9H849.1V144.9H850.7V148.9H852.3V154.8H853.9V160.4H855.5V163.4H857.2V162.9H858.8V160.7H860.4V157.8H862.0V154.9H863.6V152.9H865.2V152.5H866.8V154.0H868.4V156.4H870.0V158.9H871.7V160.4H873.3V159.3H874.9V154.1H876.5V146.9H878.1V139.5H879.7V134.1H881.3V132.6H882.9V136.1H884.5V142.8H886.2V150.7H887.8V157.8H889.4V161.8H891.0V163.0H892.6V163.8H894.2V164.5H895.8V165.1H897.4V166.0H899.0V167.3H900.6V168.8H902.3V169.9H903.9V170.1H905.5V167.5H907.1V162.3H908.7V155.9H910.3V149.7H911.9V145.1H913.5V143.5H915.1V145.7H916.8V150.5H918.4V156.3H920.0V161.5H921.6V164.7H923.2V164.7H924.8V163.1H926.4V161.0H928.0V159.1H929.6V158.3H931.3V159.4H932.9V161.6H934.5V163.6H936.1V164.0H937.7V161.7H939.3V157.4H940.9V152.3H942.5V147.7H944.1V144.6H945.7V144.2H947.4V146.1H949.0V149.4H950.6V153.0H952.2V156.0H953.8V157.5H955.4V157.1H957.0V155.4H958.6V152.8H960.2V149.5H961.9V145.8H963.5V142.1H965.1V138.7H966.7V135.6H968.3V132.6H969.9V129.2H971.5V125.3H973.1V119.8H974.7V110.8H976.4V102.1H978.0V98.7H979.6V100.5H981.2V104.4H982.8V109.4H984.4V114.9H986.0V122.1H987.6V130.4H989.2V140.4H990.8V151.7H992.5V161.9H994.1V169.3H995.7V176.4H997.3V182.3H998.9V185.5H1000.5V185.1H1002.1V182.4H1003.7V178.3H1005.3V173.9H1007.0V169.8H1008.6V167.1H1010.2V166.6H1011.8V168.8H1013.4V172.7H1015.0V178.1H1016.6V188.0H1018.2V200.1H1019.8V211.2H1021.5V219.4H1023.1V226.5H1024.7V234.7H1026.3V243.2H1027.9V252.1H1029.5V258.9H1031.1V259.8H1032.7V261.5H1034.3V262.5H1035.9V262.9H1037.6V265.1H1039.2V266.2H1040.8V267.2H1042.4V267.0H1044.0V271.0H1045.6V273.4H1047.2V280.5H1048.8V285.3H1050.4V290.7H1052.1V292.8H1053.7V300.9H1055.3V305.9H1056.9V306.6H1058.5V308.8H1060.1V315.8H1061.7V320.3H1063.3V322.9H1064.9V309.9H1066.6V322.9H1068.2V313.8H1069.8V315.3H1071.4V325.9H1073.0V318.5H1074.6V320.9H1076.2V328.4H1077.8V341.1H1079.4V338.2H1081.0V344.4H1082.7V344.4H1084.3V339.6H1085.9V346.2H1087.5V342.7H1089.1V346.2H1090.7V336.9H1092.3V334.4H1093.9V341.1H1095.5V338.2H1097.2V336.9H1098.8V344.4H1100.4V341.1H1102.0V346.2H1103.6V338.2H1105.2V341.1H1106.8V341.1H1108.4V348.2H1110.0V333.3H1111.7V341.1H1113.3V346.2H1114.9V362.2H1116.5V355.5H1118.1V346.2H1119.7V355.5H1121.3V341.1H1122.9V338.2H1124.5V352.8H1126.1V366.4H1127.8V350.4H1129.4V346.2H1131.0V341.1H1132.6V344.4H1134.2V342.7H1135.8V348.2H1137.4V362.2H1139.0V336.9H1140.6V352.8H1142.3V350.4H1143.9V362.2H1145.5V350.4H1147.1V350.4H1148.7V344.4H1150.3V352.8H1151.9V348.2H1153.5V352.8H1155.1V350.4H1156.7V346.2H1158.4V352.8H1160.0V378.1H1161.6V378.1H1163.2V344.4H1164.8V355.5H1166.4V362.2H1168.0V362.2H1169.6V346.2H1171.2V358.6H1172.9V371.5H1174.5V348.2H1176.1V362.2H1177.7V378.1H1179.3V355.5H1180.9V362.2H1182.5V387.4H1184.1V403.4H1185.7V378.1H1187.4V371.5H1189.0V350.4H1190.6V378.1H1192.2V371.5H1193.8V378.1H1195.4V403.4H1197.0V362.2H1198.6V355.5H1200.2V378.1H1201.8V366.4H1203.5V362.2H1205.1V371.5H1206.7V355.5H1208.3V362.2H1209.9V378.1H1211.5V378.1H1213.1V378.1H1214.7V403.4H1216.3V366.4H1218.0V358.6H1219.6V378.1H1221.2V378.1H1222.8V378.1H1224.4V362.2H1226.0V366.4H1227.6V355.5H1229.2V366.4H1230.8V408.3H1232.5V378.1H1234.1V378.1H1235.7V358.6H1237.3V387.4H1238.9V378.1H1240.5V378.1H1242.1V371.5H1243.7V403.4H1245.3V371.5H1246.9V366.4H1248.6V371.5H1250.2V371.5H1251.8V358.6H1253.4V378.1H1255.0V378.1H1256.6V362.2H1258.2V387.4H1259.8V387.4H1261.4V378.1H1263.1V371.5H1264.7V387.4H1266.3V362.2H1267.9V371.5H1269.5V366.4H1271.1V352.8H1272.7V378.1H1274.3V358.6H1275.9" stroke="#e377c2" stroke-width="1.0" stroke-opacity="0.85" fill="none"/>
</g>
<rect x="712.2" y="32.4" width="563.7" height="372.9" fill="none" stroke="#3a3a3a" stroke-width="1.1"/>
<path d="M720.2,405.3v3.5M752.5,405.3v3.5M784.7,405.3v3.5M816.9,405.3v3.5M849.1,405.3v3.5M881.3,405.3v3.5M913.5,405.3v3.5M945.7,405.3v3.5M978.0,405.3v3.5M1010.2,405.3v3.5M1042.4,405.3v3.5M1074.6,405.3v3.5M1106.8,405.3v3.5M1139.0,405.3v3.5M1171.2,405.3v3.5M1203.5,405.3v3.5M1235.7,405.3v3.5M1267.9,405.3v3.5M712.2,405.3v2M720.2,405.3v2M728.3,405.3v2M736.4,405.3v2M744.4,405.3v2M752.5,405.3v2M760.5,405.3v2M768.6,405.3v2M776.6,405.3v2M784.7,405.3v2M792.7,405.3v2M800.8,405.3v2M808.8,405.3v2M816.9,405.3v2M824.9,405.3v2M833.0,405.3v2M841.1,405.3v2M849.1,405.3v2M857.2,405.3v2M865.2,405.3v2M873.3,405.3v2M881.3,405.3v2M889.4,405.3v2M897.4,405.3v2M905.5,405.3v2M913.5,405.3v2M921.6,405.3v2M929.6,405.3v2M937.7,405.3v2M945.7,405.3v2M953.8,405.3v2M961.9,405.3v2M969.9,405.3v2M978.0,405.3v2M986.0,405.3v2M994.1,405.3v2M1002.1,405.3v2M1010.2,405.3v2M1018.2,405.3v2M1026.3,405.3v2M1034.3,405.3v2M1042.4,405.3v2M1050.4,405.3v2M1058.5,405.3v2M1066.6,405.3v2M1074.6,405.3v2M1082.7,405.3v2M1090.7,405.3v2M1098.8,405.3v2M1106.8,405.3v2M1114.9,405.3v2M1122.9,405.3v2M1131.0,405.3v2M1139.0,405.3v2M1147.1,405.3v2M1155.1,405.3v2M1163.2,405.3v2M1171.2,405.3v2M1179.3,405.3v2M1187.4,405.3v2M1195.4,405.3v2M1203.5,405.3v2M1211.5,405.3v2M1219.6,405.3v2M1227.6,405.3v2M1235.7,405.3v2M1243.7,405.3v2M1251.8,405.3v2M1259.8,405.3v2M1267.9,405.3v2M1275.9,405.3v2M712.2,403.40h-3.5M712.2,350.40h-3.5M712.2,297.40h-3.5M712.2,244.40h-3.5M712.2,191.40h-3.5M712.2,138.40h-3.5M712.2,85.40h-3.5M712.2,32.40h-3.5M712.2,387.4h-2M712.2,378.1h-2M712.2,371.5h-2M712.2,366.4h-2M712.2,362.2h-2M712.2,358.6h-2M712.2,355.5h-2M712.2,352.8h-2M712.2,334.4h-2M712.2,325.1h-2M712.2,318.5h-2M712.2,313.4h-2M712.2,309.2h-2M712.2,305.6h-2M712.2,302.5h-2M712.2,299.8h-2M712.2,281.4h-2M712.2,272.1h-2M712.2,265.5h-2M712.2,260.4h-2M712.2,256.2h-2M712.2,252.6h-2M712.2,249.5h-2M712.2,246.8h-2M712.2,228.4h-2M712.2,219.1h-2M712.2,212.5h-2M712.2,207.4h-2M712.2,203.2h-2M712.2,199.6h-2M712.2,196.5h-2M712.2,193.8h-2M712.2,175.4h-2M712.2,166.1h-2M712.2,159.5h-2M712.2,154.4h-2M712.2,150.2h-2M712.2,146.6h-2M712.2,143.5h-2M712.2,140.8h-2M712.2,122.4h-2M712.2,113.1h-2M712.2,106.5h-2M712.2,101.4h-2M712.2,97.2h-2M712.2,93.6h-2M712.2,90.5h-2M712.2,87.8h-2M712.2,69.4h-2M712.2,60.1h-2M712.2,53.5h-2M712.2,48.4h-2M712.2,44.2h-2M712.2,40.6h-2M712.2,37.5h-2M712.2,34.8h-2" stroke="#000" stroke-width="0.8"/>
<text x="709.82" y="424.60" font-size="17.5" font-family="'Liberation Sans', sans-serif" textLength="20.86" lengthAdjust="spacingAndGlyphs">10</text>
<text x="742.03" y="424.60" font-size="17.5" font-family="'Liberation Sans', sans-serif" textLength="20.86" lengthAdjust="spacingAndGlyphs">12</text>
<text x="774.25" y="424.60" font-size="17.5" font-family="'Liberation Sans', sans-serif" textLength="20.86" lengthAdjust="spacingAndGlyphs">14</text>
<text x="806.46" y="424.60" font-size="17.5" font-family="'Liberation Sans', sans-serif" textLength="20.86" lengthAdjust="spacingAndGlyphs">16</text>
<text x="838.68" y="424.60" font-size="17.5" font-family="'Liberation Sans', sans-serif" textLength="20.86" lengthAdjust="spacingAndGlyphs">18</text>
<text x="870.89" y="424.60" font-size="17.5" font-family="'Liberation Sans', sans-serif" textLength="20.86" lengthAdjust="spacingAndGlyphs">20</text>
<text x="903.10" y="424.60" font-size="17.5" font-family="'Liberation Sans', sans-serif" textLength="20.86" lengthAdjust="spacingAndGlyphs">22</text>
<text x="935.32" y="424.60" font-size="17.5" font-family="'Liberation Sans', sans-serif" textLength="20.86" lengthAdjust="spacingAndGlyphs">24</text>
<text x="967.53" y="424.60" font-size="17.5" font-family="'Liberation Sans', sans-serif" textLength="20.86" lengthAdjust="spacingAndGlyphs">26</text>
<text x="999.75" y="424.60" font-size="17.5" font-family="'Liberation Sans', sans-serif" textLength="20.86" lengthAdjust="spacingAndGlyphs">28</text>
<text x="1031.96" y="424.60" font-size="17.5" font-family="'Liberation Sans', sans-serif" textLength="20.86" lengthAdjust="spacingAndGlyphs">30</text>
<text x="1064.17" y="424.60" font-size="17.5" font-family="'Liberation Sans', sans-serif" textLength="20.86" lengthAdjust="spacingAndGlyphs">32</text>
<text x="1096.39" y="424.60" font-size="17.5" font-family="'Liberation Sans', sans-serif" textLength="20.86" lengthAdjust="spacingAndGlyphs">34</text>
<text x="1128.60" y="424.60" font-size="17.5" font-family="'Liberation Sans', sans-serif" textLength="20.86" lengthAdjust="spacingAndGlyphs">36</text>
<text x="1160.82" y="424.60" font-size="17.5" font-family="'Liberation Sans', sans-serif" textLength="20.86" lengthAdjust="spacingAndGlyphs">38</text>
<text x="1193.03" y="424.60" font-size="17.5" font-family="'Liberation Sans', sans-serif" textLength="20.86" lengthAdjust="spacingAndGlyphs">40</text>
<text x="1225.24" y="424.60" font-size="17.5" font-family="'Liberation Sans', sans-serif" textLength="20.86" lengthAdjust="spacingAndGlyphs">42</text>
<text x="1257.46" y="424.60" font-size="17.5" font-family="'Liberation Sans', sans-serif" textLength="20.86" lengthAdjust="spacingAndGlyphs">44</text>
<text x="677.98" y="410.50" font-size="17.5" font-family="'Liberation Sans', sans-serif" textLength="21.12" lengthAdjust="spacingAndGlyphs">10</text>
<text x="699.10" y="403.60" font-size="11.8" font-family="'Liberation Sans', sans-serif" textLength="7.50" lengthAdjust="spacingAndGlyphs">0</text>
<text x="677.98" y="357.50" font-size="17.5" font-family="'Liberation Sans', sans-serif" textLength="21.12" lengthAdjust="spacingAndGlyphs">10</text>
<text x="699.10" y="350.60" font-size="11.8" font-family="'Liberation Sans', sans-serif" textLength="7.50" lengthAdjust="spacingAndGlyphs">1</text>
<text x="677.98" y="304.50" font-size="17.5" font-family="'Liberation Sans', sans-serif" textLength="21.12" lengthAdjust="spacingAndGlyphs">10</text>
<text x="699.10" y="297.60" font-size="11.8" font-family="'Liberation Sans', sans-serif" textLength="7.50" lengthAdjust="spacingAndGlyphs">2</text>
<text x="677.98" y="251.50" font-size="17.5" font-family="'Liberation Sans', sans-serif" textLength="21.12" lengthAdjust="spacingAndGlyphs">10</text>
<text x="699.10" y="244.60" font-size="11.8" font-family="'Liberation Sans', sans-serif" textLength="7.50" lengthAdjust="spacingAndGlyphs">3</text>
<text x="677.98" y="198.50" font-size="17.5" font-family="'Liberation Sans', sans-serif" textLength="21.12" lengthAdjust="spacingAndGlyphs">10</text>
<text x="699.10" y="191.60" font-size="11.8" font-family="'Liberation Sans', sans-serif" textLength="7.50" lengthAdjust="spacingAndGlyphs">4</text>
<text x="677.98" y="145.50" font-size="17.5" font-family="'Liberation Sans', sans-serif" textLength="21.12" lengthAdjust="spacingAndGlyphs">10</text>
<text x="699.10" y="138.60" font-size="11.8" font-family="'Liberation Sans', sans-serif" textLength="7.50" lengthAdjust="spacingAndGlyphs">5</text>
<text x="677.98" y="92.50" font-size="17.5" font-family="'Liberation Sans', sans-serif" textLength="21.12" lengthAdjust="spacingAndGlyphs">10</text>
<text x="699.10" y="85.60" font-size="11.8" font-family="'Liberation Sans', sans-serif" textLength="7.50" lengthAdjust="spacingAndGlyphs">6</text>
<text x="677.98" y="39.50" font-size="17.5" font-family="'Liberation Sans', sans-serif" textLength="21.12" lengthAdjust="spacingAndGlyphs">10</text>
<text x="699.10" y="32.60" font-size="11.8" font-family="'Liberation Sans', sans-serif" textLength="7.50" lengthAdjust="spacingAndGlyphs">7</text>
<text x="986.48" y="450.00" font-size="24.5" font-family="'Liberation Sans', sans-serif" textLength="15.72" lengthAdjust="spacingAndGlyphs">Z</text>
<text transform="rotate(-90)" x="-262.01" y="669.90" font-size="24.5" font-family="'Liberation Sans', sans-serif" textLength="81.74" lengthAdjust="spacingAndGlyphs">Counts</text>
<text x="721.03" y="26.50" font-size="28" font-family="'Liberation Sans', sans-serif" textLength="40.67" lengthAdjust="spacingAndGlyphs">UH</text>
<text x="772.25" y="26.50" font-size="28" font-family="'Liberation Sans', sans-serif" textLength="54.96" lengthAdjust="spacingAndGlyphs">with</text>
<text x="836.37" y="26.50" font-size="28" font-family="'Liberation Sans', sans-serif" textLength="83.39" lengthAdjust="spacingAndGlyphs">Varied</text>
<text x="929.09" y="26.50" font-size="28" font-family="'Liberation Sans', sans-serif" textLength="97.33" lengthAdjust="spacingAndGlyphs">Charge</text>
<text x="1033.40" y="26.50" font-size="28" font-family="'Liberation Sans', sans-serif" textLength="161.26" lengthAdjust="spacingAndGlyphs">Consistency</text>
<text x="1204.25" y="26.50" font-size="28" font-family="'Liberation Sans', sans-serif" textLength="62.65" lengthAdjust="spacingAndGlyphs">Cuts</text>
<text x="951.38" y="493.00" font-size="23" font-family="'Liberation Serif', serif" textLength="27.04" lengthAdjust="spacingAndGlyphs">(b)</text>
<rect x="1039.6" y="41.7" width="227.5" height="205.1" rx="3" fill="#fff" fill-opacity="0.8" stroke="#cccccc" stroke-width="1"/>
<rect x="1045.4" y="49.3" width="34.1" height="11.4" fill="#a0a0a0"/>
<text x="1091.94" y="61.00" font-size="17.5" font-family="'Liberation Sans', sans-serif" textLength="88.24" lengthAdjust="spacingAndGlyphs">UH events</text>
<rect x="1045.9" y="74.9" width="33.2" height="10.6" fill="none" stroke="#1f77b4" stroke-width="1.1" stroke-opacity="0.85"/>
<text x="1092.53" y="86.20" font-size="17.5" font-family="'Liberation Sans', sans-serif" textLength="105.42" lengthAdjust="spacingAndGlyphs">Percent Diff.</text>
<text x="1201.92" y="86.20" font-size="17.5" font-family="'Liberation Sans', sans-serif" textLength="12.06" lengthAdjust="spacingAndGlyphs">≤</text>
<text x="1218.04" y="86.20" font-size="17.5" font-family="'Liberation Sans', sans-serif" textLength="43.33" lengthAdjust="spacingAndGlyphs">2.5%</text>
<rect x="1045.9" y="100.1" width="33.2" height="10.6" fill="none" stroke="#ff7f0e" stroke-width="1.1" stroke-opacity="0.85"/>
<text x="1092.53" y="111.40" font-size="17.5" font-family="'Liberation Sans', sans-serif" textLength="105.42" lengthAdjust="spacingAndGlyphs">Percent Diff.</text>
<text x="1201.92" y="111.40" font-size="17.5" font-family="'Liberation Sans', sans-serif" textLength="12.06" lengthAdjust="spacingAndGlyphs">≤</text>
<text x="1218.28" y="111.40" font-size="17.5" font-family="'Liberation Sans', sans-serif" textLength="43.09" lengthAdjust="spacingAndGlyphs">3.0%</text>
<rect x="1045.9" y="125.3" width="33.2" height="10.6" fill="none" stroke="#2ca02c" stroke-width="1.1" stroke-opacity="0.85"/>
<text x="1092.53" y="136.60" font-size="17.5" font-family="'Liberation Sans', sans-serif" textLength="105.42" lengthAdjust="spacingAndGlyphs">Percent Diff.</text>
<text x="1201.92" y="136.60" font-size="17.5" font-family="'Liberation Sans', sans-serif" textLength="12.06" lengthAdjust="spacingAndGlyphs">≤</text>
<text x="1218.28" y="136.60" font-size="17.5" font-family="'Liberation Sans', sans-serif" textLength="43.09" lengthAdjust="spacingAndGlyphs">3.5%</text>
<rect x="1045.9" y="150.5" width="33.2" height="10.6" fill="none" stroke="#d62728" stroke-width="1.1" stroke-opacity="0.85"/>
<text x="1092.53" y="161.80" font-size="17.5" font-family="'Liberation Sans', sans-serif" textLength="105.42" lengthAdjust="spacingAndGlyphs">Percent Diff.</text>
<text x="1201.92" y="161.80" font-size="17.5" font-family="'Liberation Sans', sans-serif" textLength="12.06" lengthAdjust="spacingAndGlyphs">≤</text>
<text x="1218.57" y="161.80" font-size="17.5" font-family="'Liberation Sans', sans-serif" textLength="42.80" lengthAdjust="spacingAndGlyphs">4.0%</text>
<rect x="1045.9" y="175.7" width="33.2" height="10.6" fill="none" stroke="#9467bd" stroke-width="1.1" stroke-opacity="0.85"/>
<text x="1092.53" y="187.00" font-size="17.5" font-family="'Liberation Sans', sans-serif" textLength="105.42" lengthAdjust="spacingAndGlyphs">Percent Diff.</text>
<text x="1201.92" y="187.00" font-size="17.5" font-family="'Liberation Sans', sans-serif" textLength="12.06" lengthAdjust="spacingAndGlyphs">≤</text>
<text x="1218.57" y="187.00" font-size="17.5" font-family="'Liberation Sans', sans-serif" textLength="42.80" lengthAdjust="spacingAndGlyphs">4.5%</text>
<rect x="1045.9" y="200.9" width="33.2" height="10.6" fill="none" stroke="#8c564b" stroke-width="1.1" stroke-opacity="0.85"/>
<text x="1092.53" y="212.20" font-size="17.5" font-family="'Liberation Sans', sans-serif" textLength="105.42" lengthAdjust="spacingAndGlyphs">Percent Diff.</text>
<text x="1201.92" y="212.20" font-size="17.5" font-family="'Liberation Sans', sans-serif" textLength="12.06" lengthAdjust="spacingAndGlyphs">≤</text>
<text x="1218.24" y="212.20" font-size="17.5" font-family="'Liberation Sans', sans-serif" textLength="43.13" lengthAdjust="spacingAndGlyphs">5.0%</text>
<rect x="1045.9" y="226.1" width="33.2" height="10.6" fill="none" stroke="#e377c2" stroke-width="1.1" stroke-opacity="0.85"/>
<text x="1092.53" y="237.40" font-size="17.5" font-family="'Liberation Sans', sans-serif" textLength="105.42" lengthAdjust="spacingAndGlyphs">Percent Diff.</text>
<text x="1201.92" y="237.40" font-size="17.5" font-family="'Liberation Sans', sans-serif" textLength="12.06" lengthAdjust="spacingAndGlyphs">≤</text>
<text x="1218.24" y="237.40" font-size="17.5" font-family="'Liberation Sans', sans-serif" textLength="43.13" lengthAdjust="spacingAndGlyphs">5.5%</text>
<g clip-path="url(#cd)">
<path d="M712.2,939.3L712.2,678.4L713.8,678.4L713.8,669.5L715.4,669.5L715.4,657.7L717.0,657.7L717.0,646.0L718.6,646.0L718.6,638.4L720.2,638.4L720.2,637.9L721.9,637.9L721.9,642.3L723.5,642.3L723.5,649.0L725.1,649.0L725.1,656.8L726.7,656.8L726.7,668.6L728.3,668.6L728.3,674.1L729.9,674.1L729.9,672.2L731.5,672.2L731.5,668.4L733.1,668.4L733.1,664.2L734.7,664.2L734.7,661.3L736.4,661.3L736.4,661.2L738.0,661.2L738.0,663.4L739.6,663.4L739.6,666.6L741.2,666.6L741.2,669.1L742.8,669.1L742.8,669.3L744.4,669.3L744.4,663.1L746.0,663.1L746.0,653.2L747.6,653.2L747.6,642.7L749.2,642.7L749.2,628.3L750.9,628.3L750.9,616.9L752.5,616.9L752.5,615.7L754.1,615.7L754.1,620.0L755.7,620.0L755.7,626.8L757.3,626.8L757.3,635.4L758.9,635.4L758.9,650.2L760.5,650.2L760.5,660.5L762.1,660.5L762.1,660.2L763.7,660.2L763.7,658.2L765.3,658.2L765.3,655.8L767.0,655.8L767.0,654.4L768.6,654.4L768.6,655.0L770.2,655.0L770.2,657.9L771.8,657.9L771.8,661.5L773.4,661.5L773.4,664.1L775.0,664.1L775.0,663.6L776.6,663.6L776.6,657.2L778.2,657.2L778.2,648.4L779.8,648.4L779.8,640.1L781.5,640.1L781.5,629.9L783.1,629.9L783.1,622.2L784.7,622.2L784.7,621.4L786.3,621.4L786.3,624.6L787.9,624.6L787.9,629.6L789.5,629.6L789.5,635.8L791.1,635.8L791.1,646.5L792.7,646.5L792.7,659.5L794.3,659.5L794.3,671.7L796.0,671.7L796.0,680.2L797.6,680.2L797.6,683.5L799.2,683.5L799.2,685.5L800.8,685.5L800.8,687.3L802.4,687.3L802.4,689.8L804.0,689.8L804.0,693.6L805.6,693.6L805.6,696.2L807.2,696.2L807.2,695.0L808.8,695.0L808.8,689.3L810.4,689.3L810.4,680.8L812.1,680.8L812.1,671.6L813.7,671.6L813.7,663.6L815.3,663.6L815.3,658.7L816.9,658.7L816.9,658.6L818.5,658.6L818.5,662.7L820.1,662.7L820.1,668.5L821.7,668.5L821.7,674.6L823.3,674.6L823.3,682.9L824.9,682.9L824.9,690.1L826.6,690.1L826.6,691.9L828.2,691.9L828.2,691.7L829.8,691.7L829.8,691.4L831.4,691.4L831.4,691.2L833.0,691.2L833.0,692.6L834.6,692.6L834.6,695.7L836.2,695.7L836.2,699.4L837.8,699.4L837.8,702.5L839.4,702.5L839.4,703.8L841.1,703.8L841.1,701.6L842.7,701.6L842.7,696.2L844.3,696.2L844.3,689.5L845.9,689.5L845.9,683.2L847.5,683.2L847.5,679.2L849.1,679.2L849.1,679.3L850.7,679.3L850.7,683.3L852.3,683.3L852.3,689.2L853.9,689.2L853.9,694.7L855.5,694.7L855.5,697.7L857.2,697.7L857.2,697.2L858.8,697.2L858.8,695.1L860.4,695.1L860.4,692.1L862.0,692.1L862.0,689.3L863.6,689.3L863.6,687.2L865.2,687.2L865.2,686.8L866.8,686.8L866.8,688.3L868.4,688.3L868.4,690.8L870.0,690.8L870.0,693.3L871.7,693.3L871.7,694.8L873.3,694.8L873.3,693.6L874.9,693.6L874.9,688.5L876.5,688.5L876.5,681.2L878.1,681.2L878.1,673.9L879.7,673.9L879.7,668.5L881.3,668.5L881.3,667.0L882.9,667.0L882.9,670.4L884.5,670.4L884.5,677.1L886.2,677.1L886.2,685.1L887.8,685.1L887.8,692.1L889.4,692.1L889.4,696.2L891.0,696.2L891.0,697.4L892.6,697.4L892.6,698.2L894.2,698.2L894.2,698.8L895.8,698.8L895.8,699.5L897.4,699.5L897.4,700.4L899.0,700.4L899.0,701.7L900.6,701.7L900.6,703.1L902.3,703.1L902.3,704.2L903.9,704.2L903.9,704.5L905.5,704.5L905.5,701.9L907.1,701.9L907.1,696.6L908.7,696.6L908.7,690.2L910.3,690.2L910.3,684.0L911.9,684.0L911.9,679.4L913.5,679.4L913.5,677.9L915.1,677.9L915.1,680.1L916.8,680.1L916.8,684.9L918.4,684.9L918.4,690.6L920.0,690.6L920.0,695.9L921.6,695.9L921.6,699.0L923.2,699.0L923.2,699.0L924.8,699.0L924.8,697.5L926.4,697.5L926.4,695.3L928.0,695.3L928.0,693.5L929.6,693.5L929.6,692.7L931.3,692.7L931.3,693.7L932.9,693.7L932.9,696.0L934.5,696.0L934.5,698.0L936.1,698.0L936.1,698.4L937.7,698.4L937.7,696.0L939.3,696.0L939.3,691.7L940.9,691.7L940.9,686.7L942.5,686.7L942.5,682.0L944.1,682.0L944.1,678.9L945.7,678.9L945.7,678.5L947.4,678.5L947.4,680.5L949.0,680.5L949.0,683.7L950.6,683.7L950.6,687.3L952.2,687.3L952.2,690.3L953.8,690.3L953.8,691.9L955.4,691.9L955.4,691.5L957.0,691.5L957.0,689.8L958.6,689.8L958.6,687.1L960.2,687.1L960.2,683.8L961.9,683.8L961.9,680.2L963.5,680.2L963.5,676.5L965.1,676.5L965.1,673.1L966.7,673.1L966.7,670.0L968.3,670.0L968.3,666.9L969.9,666.9L969.9,663.6L971.5,663.6L971.5,659.6L973.1,659.6L973.1,654.2L974.7,654.2L974.7,645.1L976.4,645.1L976.4,636.4L978.0,636.4L978.0,633.1L979.6,633.1L979.6,634.8L981.2,634.8L981.2,638.8L982.8,638.8L982.8,643.8L984.4,643.8L984.4,649.2L986.0,649.2L986.0,656.4L987.6,656.4L987.6,664.7L989.2,664.7L989.2,674.7L990.8,674.7L990.8,685.8L992.5,685.8L992.5,696.0L994.1,696.0L994.1,703.6L995.7,703.6L995.7,710.7L997.3,710.7L997.3,716.6L998.9,716.6L998.9,719.8L1000.5,719.8L1000.5,719.4L1002.1,719.4L1002.1,716.7L1003.7,716.7L1003.7,712.7L1005.3,712.7L1005.3,708.2L1007.0,708.2L1007.0,704.2L1008.6,704.2L1008.6,701.5L1010.2,701.5L1010.2,701.0L1011.8,701.0L1011.8,703.2L1013.4,703.2L1013.4,707.1L1015.0,707.1L1015.0,712.5L1016.6,712.5L1016.6,722.3L1018.2,722.3L1018.2,729.0L1019.8,729.0L1019.8,742.8L1021.5,742.8L1021.5,754.8L1023.1,754.8L1023.1,765.0L1024.7,765.0L1024.7,771.7L1026.3,771.7L1026.3,781.4L1027.9,781.4L1027.9,786.6L1029.5,786.6L1029.5,791.7L1031.1,791.7L1031.1,796.7L1032.7,796.7L1032.7,798.2L1034.3,798.2L1034.3,798.8L1035.9,798.8L1035.9,799.2L1037.6,799.2L1037.6,799.6L1039.2,799.6L1039.2,799.6L1040.8,799.6L1040.8,799.6L1042.4,799.6L1042.4,800.3L1044.0,800.3L1044.0,805.4L1045.6,805.4L1045.6,808.3L1047.2,808.3L1047.2,814.7L1048.8,814.7L1048.8,821.4L1050.4,821.4L1050.4,823.1L1052.1,823.1L1052.1,831.3L1053.7,831.3L1053.7,834.0L1055.3,834.0L1055.3,838.0L1056.9,838.0L1056.9,849.6L1058.5,849.6L1058.5,847.5L1060.1,847.5L1060.1,845.1L1061.7,845.1L1061.7,851.4L1063.3,851.4L1063.3,852.0L1064.9,852.0L1064.9,861.0L1066.6,861.0L1066.6,849.6L1068.2,849.6L1068.2,843.3L1069.8,843.3L1069.8,846.5L1071.4,846.5L1071.4,853.3L1073.0,853.3L1073.0,854.6L1074.6,854.6L1074.6,859.2L1076.2,859.2L1076.2,856.8L1077.8,856.8L1077.8,864.0L1079.4,864.0L1079.4,879.9L1081.0,879.9L1081.0,882.1L1082.7,882.1L1082.7,871.3L1084.3,871.3L1084.3,865.0L1085.9,865.0L1085.9,877.9L1087.5,877.9L1087.5,887.2L1089.1,887.2L1089.1,876.1L1090.7,876.1L1090.7,893.9L1092.3,893.9L1092.3,887.2L1093.9,887.2L1093.9,867.3L1095.5,867.3L1095.5,879.9L1097.2,879.9L1097.2,898.1L1098.8,898.1L1098.8,871.3L1100.4,871.3L1100.4,876.1L1102.0,876.1L1102.0,876.1L1103.6,876.1L1103.6,872.8L1105.2,872.8L1105.2,871.3L1106.8,871.3L1106.8,867.3L1108.4,867.3L1108.4,862.9L1110.0,862.9L1110.0,866.1L1111.7,866.1L1111.7,874.4L1113.3,874.4L1113.3,884.5L1114.9,884.5L1114.9,874.4L1116.5,874.4L1116.5,877.9L1118.1,877.9L1118.1,876.1L1119.7,876.1L1119.7,893.9L1121.3,893.9L1121.3,890.3L1122.9,890.3L1122.9,879.9L1124.5,879.9L1124.5,887.2L1126.1,887.2L1126.1,887.2L1127.8,887.2L1127.8,879.9L1129.4,879.9L1129.4,903.2L1131.0,903.2L1131.0,877.9L1132.6,877.9L1132.6,887.2L1134.2,887.2L1134.2,879.9L1135.8,879.9L1135.8,890.3L1137.4,890.3L1137.4,909.8L1139.0,909.8L1139.0,884.5L1140.6,884.5L1140.6,898.1L1142.3,898.1L1142.3,890.3L1143.9,890.3L1143.9,884.5L1145.5,884.5L1145.5,879.9L1147.1,879.9L1147.1,893.9L1148.7,893.9L1148.7,887.2L1150.3,887.2L1150.3,882.1L1151.9,882.1L1151.9,876.1L1153.5,876.1L1153.5,898.1L1155.1,898.1L1155.1,890.3L1156.7,890.3L1156.7,877.9L1158.4,877.9L1158.4,893.9L1160.0,893.9L1160.0,893.9L1161.6,893.9L1161.6,890.3L1163.2,890.3L1163.2,874.4L1164.8,874.4L1164.8,887.2L1166.4,887.2L1166.4,879.9L1168.0,879.9L1168.0,935.1L1169.6,935.1L1169.6,890.3L1171.2,890.3L1171.2,935.1L1172.9,935.1L1172.9,898.1L1174.5,898.1L1174.5,919.1L1176.1,919.1L1176.1,935.1L1177.7,935.1L1177.7,919.1L1179.3,919.1L1179.3,935.1L1180.9,935.1L1180.9,909.8L1182.5,909.8L1182.5,919.1L1184.1,919.1L1184.1,893.9L1185.7,893.9L1185.7,935.1L1187.4,935.1L1187.4,909.8L1189.0,909.8L1189.0,935.1L1190.6,935.1L1190.6,935.1L1192.2,935.1L1192.2,909.8L1193.8,909.8L1193.8,935.1L1195.4,935.1L1195.4,919.1L1197.0,919.1L1197.0,909.8L1198.6,909.8L1198.6,909.8L1200.2,909.8L1200.2,903.2L1201.8,903.2L1201.8,898.1L1203.5,898.1L1203.5,940.3L1205.1,940.3L1205.1,940.3L1206.7,940.3L1206.7,935.1L1208.3,935.1L1208.3,919.1L1209.9,919.1L1209.9,919.1L1211.5,919.1L1211.5,935.1L1213.1,935.1L1213.1,935.1L1214.7,935.1L1214.7,940.3L1216.3,940.3L1216.3,940.3L1218.0,940.3L1218.0,919.1L1219.6,919.1L1219.6,935.1L1221.2,935.1L1221.2,909.8L1222.8,909.8L1222.8,935.1L1224.4,935.1L1224.4,919.1L1226.0,919.1L1226.0,919.1L1227.6,919.1L1227.6,919.1L1229.2,919.1L1229.2,935.1L1230.8,935.1L1230.8,935.1L1232.5,935.1L1232.5,935.1L1234.1,935.1L1234.1,919.1L1235.7,919.1L1235.7,919.1L1237.3,919.1L1237.3,935.1L1238.9,935.1L1238.9,935.1L1240.5,935.1L1240.5,935.1L1242.1,935.1L1242.1,919.1L1243.7,919.1L1243.7,940.3L1245.3,940.3L1245.3,919.1L1246.9,919.1L1246.9,919.1L1248.6,919.1L1248.6,935.1L1250.2,935.1L1250.2,935.1L1251.8,935.1L1251.8,935.1L1253.4,935.1L1253.4,935.1L1255.0,935.1L1255.0,919.1L1256.6,919.1L1256.6,940.3L1258.2,940.3L1258.2,940.3L1259.8,940.3L1259.8,919.1L1261.4,919.1L1261.4,898.1L1263.1,898.1L1263.1,935.1L1264.7,935.1L1264.7,935.1L1266.3,935.1L1266.3,935.1L1267.9,935.1L1267.9,919.1L1269.5,919.1L1269.5,940.3L1271.1,940.3L1271.1,940.3L1272.7,940.3L1272.7,903.2L1274.3,903.2L1274.3,940.3L1275.9,940.3L1275.9,939.3Z" fill="#808080" fill-opacity="1"/>
<path d="M728.30,563.9V937.3M736.36,563.9V937.3M744.41,563.9V937.3M760.52,563.9V937.3M768.57,563.9V937.3M776.62,563.9V937.3M792.73,563.9V937.3M800.78,563.9V937.3M808.84,563.9V937.3M824.95,563.9V937.3M833.00,563.9V937.3M841.05,563.9V937.3M857.16,563.9V937.3M865.21,563.9V937.3M873.27,563.9V937.3M889.37,563.9V937.3M897.43,563.9V937.3M905.48,563.9V937.3M921.59,563.9V937.3M929.64,563.9V937.3M937.69,563.9V937.3M953.80,563.9V937.3M961.86,563.9V937.3M969.91,563.9V937.3M986.02,563.9V937.3M994.07,563.9V937.3M1002.12,563.9V937.3M1018.23,563.9V937.3M1026.28,563.9V937.3M1034.34,563.9V937.3M1050.44,563.9V937.3M1058.50,563.9V937.3M1066.55,563.9V937.3M1082.66,563.9V937.3M1090.71,563.9V937.3M1098.76,563.9V937.3M1114.87,563.9V937.3M1122.92,563.9V937.3M1130.98,563.9V937.3M1147.09,563.9V937.3M1155.14,563.9V937.3M1163.19,563.9V937.3M1179.30,563.9V937.3M1187.35,563.9V937.3M1195.41,563.9V937.3M1211.51,563.9V937.3M1219.57,563.9V937.3M1227.62,563.9V937.3M1243.73,563.9V937.3M1251.78,563.9V937.3M1259.83,563.9V937.3M1275.94,563.9V937.3" stroke="#b0b0b0" stroke-opacity="0.13" stroke-width="1" fill="none"/>
<path d="M720.25,563.9V937.3M752.46,563.9V937.3M784.68,563.9V937.3M816.89,563.9V937.3M849.11,563.9V937.3M881.32,563.9V937.3M913.53,563.9V937.3M945.75,563.9V937.3M977.96,563.9V937.3M1010.18,563.9V937.3M1042.39,563.9V937.3M1074.60,563.9V937.3M1106.82,563.9V937.3M1139.03,563.9V937.3M1171.25,563.9V937.3M1203.46,563.9V937.3M1235.67,563.9V937.3M1267.89,563.9V937.3M712.2,935.10H1275.9M712.2,882.10H1275.9M712.2,829.10H1275.9M712.2,776.10H1275.9M712.2,723.10H1275.9M712.2,670.10H1275.9M712.2,617.10H1275.9M712.2,564.10H1275.9" stroke="#b0b0b0" stroke-opacity="0.26" stroke-width="1" fill="none"/>
<path d="M712.2,919.15H1275.9M712.2,909.81H1275.9M712.2,903.19H1275.9M712.2,898.05H1275.9M712.2,893.86H1275.9M712.2,890.31H1275.9M712.2,887.24H1275.9M712.2,884.53H1275.9M712.2,866.15H1275.9M712.2,856.81H1275.9M712.2,850.19H1275.9M712.2,845.05H1275.9M712.2,840.86H1275.9M712.2,837.31H1275.9M712.2,834.24H1275.9M712.2,831.53H1275.9M712.2,813.15H1275.9M712.2,803.81H1275.9M712.2,797.19H1275.9M712.2,792.05H1275.9M712.2,787.86H1275.9M712.2,784.31H1275.9M712.2,781.24H1275.9M712.2,778.53H1275.9M712.2,760.15H1275.9M712.2,750.81H1275.9M712.2,744.19H1275.9M712.2,739.05H1275.9M712.2,734.86H1275.9M712.2,731.31H1275.9M712.2,728.24H1275.9M712.2,725.53H1275.9M712.2,707.15H1275.9M712.2,697.81H1275.9M712.2,691.19H1275.9M712.2,686.05H1275.9M712.2,681.86H1275.9M712.2,678.31H1275.9M712.2,675.24H1275.9M712.2,672.53H1275.9M712.2,654.15H1275.9M712.2,644.81H1275.9M712.2,638.19H1275.9M712.2,633.05H1275.9M712.2,628.86H1275.9M712.2,625.31H1275.9M712.2,622.24H1275.9M712.2,619.53H1275.9M712.2,601.15H1275.9M712.2,591.81H1275.9M712.2,585.19H1275.9M712.2,580.05H1275.9M712.2,575.86H1275.9M712.2,572.31H1275.9M712.2,569.24H1275.9M712.2,566.53H1275.9" stroke="#b0b0b0" stroke-opacity="0.13" stroke-width="1" fill="none"/>
<path d="M712.2,681.4H713.8V672.5H715.4V660.7H717.0V649.0H718.6V641.4H720.2V640.9H721.9V645.3H723.5V652.0H725.1V659.8H726.7V671.6H728.3V677.1H729.9V675.2H731.5V671.4H733.1V667.2H734.7V664.3H736.4V664.2H738.0V666.4H739.6V669.6H741.2V672.1H742.8V672.3H744.4V666.1H746.0V656.2H747.6V645.7H749.2V631.3H750.9V619.9H752.5V618.7H754.1V623.0H755.7V629.8H757.3V638.4H758.9V653.2H760.5V663.5H762.1V663.2H763.7V661.2H765.3V658.8H767.0V657.4H768.6V658.0H770.2V660.9H771.8V664.5H773.4V667.1H775.0V666.6H776.6V660.2H778.2V651.4H779.8V643.1H781.5V632.9H783.1V625.2H784.7V624.4H786.3V627.6H787.9V632.6H789.5V638.8H791.1V649.5H792.7V662.5H794.3V674.7H796.0V683.2H797.6V686.5H799.2V688.5H800.8V690.3H802.4V692.8H804.0V696.6H805.6V699.2H807.2V698.0H808.8V692.3H810.4V683.8H812.1V674.6H813.7V666.6H815.3V661.7H816.9V661.6H818.5V665.7H820.1V671.5H821.7V677.6H823.3V685.9H824.9V693.1H826.6V694.9H828.2V694.7H829.8V694.4H831.4V694.2H833.0V695.6H834.6V698.7H836.2V702.4H837.8V705.5H839.4V706.8H841.1V704.6H842.7V699.2H844.3V692.5H845.9V686.2H847.5V682.2H849.1V682.3H850.7V686.3H852.3V692.2H853.9V697.7H855.5V700.7H857.2V700.2H858.8V698.1H860.4V695.1H862.0V692.3H863.6V690.2H865.2V689.8H866.8V691.3H868.4V693.8H870.0V696.3H871.7V697.8H873.3V696.6H874.9V691.5H876.5V684.2H878.1V676.9H879.7V671.5H881.3V670.0H882.9V673.4H884.5V680.1H886.2V688.1H887.8V695.1H889.4V699.2H891.0V700.4H892.6V701.2H894.2V701.8H895.8V702.5H897.4V703.4H899.0V704.7H900.6V706.1H902.3V707.2H903.9V707.5H905.5V704.9H907.1V699.6H908.7V693.2H910.3V687.0H911.9V682.4H913.5V680.9H915.1V683.1H916.8V687.9H918.4V693.6H920.0V698.9H921.6V702.0H923.2V702.0H924.8V700.5H926.4V698.3H928.0V696.5H929.6V695.7H931.3V696.7H932.9V699.0H934.5V701.0H936.1V701.4H937.7V699.0H939.3V694.7H940.9V689.7H942.5V685.0H944.1V681.9H945.7V681.5H947.4V683.5H949.0V686.7H950.6V690.3H952.2V693.3H953.8V694.9H955.4V694.5H957.0V692.8H958.6V690.1H960.2V686.8H961.9V683.2H963.5V679.5H965.1V676.1H966.7V673.0H968.3V669.9H969.9V666.6H971.5V662.6H973.1V657.2H974.7V648.1H976.4V639.4H978.0V636.1H979.6V637.8H981.2V641.8H982.8V646.8H984.4V652.2H986.0V659.4H987.6V667.7H989.2V677.7H990.8V688.8H992.5V699.0H994.1V706.6H995.7V713.7H997.3V719.6H998.9V722.8H1000.5V722.4H1002.1V719.7H1003.7V715.7H1005.3V711.2H1007.0V707.2H1008.6V704.5H1010.2V704.0H1011.8V706.2H1013.4V710.1H1015.0V715.5H1016.6V725.3H1018.2V732.0H1019.8V745.8H1021.5V757.8H1023.1V775.0H1024.7V781.7H1026.3V791.9H1027.9V796.3H1029.5V800.7H1031.1V806.8H1032.7V807.9H1034.3V808.4H1035.9V809.8H1037.6V811.0H1039.2V810.3H1040.8V809.8H1042.4V811.1H1044.0V814.9H1045.6V818.6H1047.2V823.6H1048.8V831.3H1050.4V834.5H1052.1V843.3H1053.7V847.5H1055.3V849.6H1056.9V857.6H1058.5V864.0H1060.1V857.6H1061.7V862.9H1063.3V866.1H1064.9V871.3H1066.6V860.1H1068.2V856.8H1069.8V858.4H1071.4V860.1H1073.0V864.0H1074.6V871.3H1076.2V862.9H1077.8V869.9H1079.4V884.5H1081.0V893.9H1082.7V879.9H1084.3V877.9H1085.9V887.2H1087.5V893.9H1089.1V884.5H1090.7V898.1H1092.3V898.1H1093.9V876.1H1095.5V882.1H1097.2V903.2H1098.8V884.5H1100.4V884.5H1102.0V884.5H1103.6V879.9H1105.2V882.1H1106.8V879.9H1108.4V874.4H1110.0V871.3H1111.7V884.5H1113.3V884.5H1114.9V876.1H1116.5V887.2H1118.1V893.9H1119.7V893.9H1121.3V898.1H1122.9V893.9H1124.5V903.2H1126.1V893.9H1127.8V887.2H1129.4V909.8H1131.0V882.1H1132.6V903.2H1134.2V884.5H1135.8V903.2H1137.4V903.2H1139.0V903.2H1140.6V903.2H1142.3V898.1H1143.9V887.2H1145.5V893.9H1147.1V903.2H1148.7V898.1H1150.3V898.1H1151.9V882.1H1153.5V903.2H1155.1V903.2H1156.7V887.2H1158.4V903.2H1160.0V890.3H1161.6V898.1H1163.2V877.9H1164.8V884.5H1166.4V890.3H1168.0V935.1H1169.6V898.1H1171.2V935.1H1172.9V898.1H1174.5V919.1H1176.1V935.1H1177.7V935.1H1179.3V903.2H1180.9V898.1H1182.5V940.3H1184.1V919.1H1185.7V909.8H1187.4V919.1H1189.0V919.1H1190.6V935.1H1192.2V909.8H1193.8V909.8H1195.4V919.1H1197.0V919.1H1198.6V935.1H1200.2V903.2H1201.8V909.8H1203.5V935.1H1205.1V935.1H1206.7V940.3H1208.3V935.1H1209.9V940.3H1211.5V935.1H1213.1V919.1H1214.7V935.1H1216.3V935.1H1218.0V909.8H1219.6V935.1H1221.2V909.8H1222.8V940.3H1224.4V935.1H1226.0V940.3H1227.6V919.1H1229.2V935.1H1230.8V935.1H1232.5V935.1H1234.1V935.1H1235.7V935.1H1237.3V919.1H1238.9V909.8H1240.5V919.1H1242.1V919.1H1243.7V935.1H1245.3V909.8H1246.9V935.1H1248.6V935.1H1250.2V919.1H1251.8V935.1H1253.4V935.1H1255.0V919.1H1256.6V940.3H1258.2V935.1H1259.8V919.1H1261.4V903.2H1263.1V935.1H1264.7V919.1H1266.3V940.3H1267.9V935.1H1269.5V919.1H1271.1V919.1H1272.7V909.8H1274.3V940.3H1275.9" stroke="#e0e01a" stroke-width="1.0" stroke-opacity="0.92" fill="none"/>
<path d="M712.2,680.9H713.8V672.0H715.4V660.2H717.0V648.5H718.6V640.9H720.2V640.4H721.9V644.8H723.5V651.5H725.1V659.3H726.7V671.1H728.3V676.6H729.9V674.7H731.5V670.9H733.1V666.7H734.7V663.8H736.4V663.7H738.0V665.9H739.6V669.1H741.2V671.6H742.8V671.8H744.4V665.6H746.0V655.7H747.6V645.2H749.2V630.8H750.9V619.4H752.5V618.2H754.1V622.5H755.7V629.3H757.3V637.9H758.9V652.7H760.5V663.0H762.1V662.7H763.7V660.7H765.3V658.3H767.0V656.9H768.6V657.5H770.2V660.4H771.8V664.0H773.4V666.6H775.0V666.1H776.6V659.7H778.2V650.9H779.8V642.6H781.5V632.4H783.1V624.7H784.7V623.9H786.3V627.1H787.9V632.1H789.5V638.3H791.1V649.0H792.7V662.0H794.3V674.2H796.0V682.7H797.6V686.0H799.2V688.0H800.8V689.8H802.4V692.3H804.0V696.1H805.6V698.7H807.2V697.5H808.8V691.8H810.4V683.3H812.1V674.1H813.7V666.1H815.3V661.2H816.9V661.1H818.5V665.2H820.1V671.0H821.7V677.1H823.3V685.4H824.9V692.6H826.6V694.4H828.2V694.2H829.8V693.9H831.4V693.8H833.0V695.1H834.6V698.2H836.2V701.9H837.8V705.0H839.4V706.2H841.1V704.1H842.7V698.7H844.3V692.0H845.9V685.7H847.5V681.7H849.1V681.8H850.7V685.8H852.3V691.7H853.9V697.2H855.5V700.2H857.2V699.7H858.8V697.6H860.4V694.6H862.0V691.8H863.6V689.7H865.2V689.3H866.8V690.8H868.4V693.3H870.0V695.8H871.7V697.3H873.3V696.1H874.9V691.0H876.5V683.7H878.1V676.4H879.7V671.0H881.3V669.5H882.9V672.9H884.5V679.6H886.2V687.6H887.8V694.6H889.4V698.7H891.0V699.9H892.6V700.7H894.2V701.3H895.8V702.0H897.4V702.9H899.0V704.2H900.6V705.6H902.3V706.7H903.9V707.0H905.5V704.4H907.1V699.1H908.7V692.7H910.3V686.5H911.9V681.9H913.5V680.4H915.1V682.6H916.8V687.4H918.4V693.1H920.0V698.4H921.6V701.5H923.2V701.5H924.8V700.0H926.4V697.8H928.0V696.0H929.6V695.2H931.3V696.2H932.9V698.5H934.5V700.5H936.1V700.9H937.7V698.5H939.3V694.2H940.9V689.2H942.5V684.5H944.1V681.4H945.7V681.0H947.4V683.0H949.0V686.2H950.6V689.8H952.2V692.8H953.8V694.4H955.4V694.0H957.0V692.3H958.6V689.6H960.2V686.3H961.9V682.7H963.5V679.0H965.1V675.6H966.7V672.5H968.3V669.4H969.9V666.1H971.5V662.1H973.1V656.7H974.7V647.6H976.4V638.9H978.0V635.6H979.6V637.3H981.2V641.3H982.8V646.3H984.4V651.7H986.0V658.9H987.6V667.2H989.2V677.2H990.8V688.3H992.5V698.5H994.1V706.1H995.7V713.2H997.3V719.1H998.9V722.3H1000.5V721.9H1002.1V719.2H1003.7V715.2H1005.3V710.7H1007.0V706.7H1008.6V704.0H1010.2V703.5H1011.8V705.7H1013.4V709.6H1015.0V715.0H1016.6V724.8H1018.2V731.5H1019.8V745.3H1021.5V757.3H1023.1V773.6H1024.7V780.3H1026.3V790.2H1027.9V795.0H1029.5V799.2H1031.1V804.6H1032.7V806.4H1034.3V806.8H1035.9V807.9H1037.6V808.6H1039.2V808.1H1040.8V808.3H1042.4V809.2H1044.0V814.0H1045.6V816.9H1047.2V821.7H1048.8V830.0H1050.4V832.6H1052.1V842.0H1053.7V845.1H1055.3V849.1H1056.9V856.1H1058.5V860.1H1060.1V855.3H1061.7V859.2H1063.3V861.9H1064.9V868.6H1066.6V857.6H1068.2V854.6H1069.8V856.8H1071.4V857.6H1073.0V861.0H1074.6V868.6H1076.2V862.9H1077.8V869.9H1079.4V884.5H1081.0V890.3H1082.7V879.9H1084.3V877.9H1085.9V887.2H1087.5V893.9H1089.1V877.9H1090.7V898.1H1092.3V898.1H1093.9V874.4H1095.5V882.1H1097.2V903.2H1098.8V884.5H1100.4V882.1H1102.0V884.5H1103.6V876.1H1105.2V882.1H1106.8V876.1H1108.4V872.8H1110.0V869.9H1111.7V884.5H1113.3V884.5H1114.9V876.1H1116.5V884.5H1118.1V887.2H1119.7V893.9H1121.3V898.1H1122.9V884.5H1124.5V903.2H1126.1V890.3H1127.8V887.2H1129.4V909.8H1131.0V879.9H1132.6V903.2H1134.2V884.5H1135.8V903.2H1137.4V903.2H1139.0V903.2H1140.6V903.2H1142.3V898.1H1143.9V884.5H1145.5V893.9H1147.1V903.2H1148.7V893.9H1150.3V898.1H1151.9V882.1H1153.5V903.2H1155.1V898.1H1156.7V882.1H1158.4V903.2H1160.0V890.3H1161.6V898.1H1163.2V877.9H1164.8V884.5H1166.4V890.3H1168.0V935.1H1169.6V898.1H1171.2V935.1H1172.9V898.1H1174.5V919.1H1176.1V935.1H1177.7V935.1H1179.3V903.2H1180.9V898.1H1182.5V940.3H1184.1V898.1H1185.7V909.8H1187.4V919.1H1189.0V919.1H1190.6V935.1H1192.2V903.2H1193.8V909.8H1195.4V919.1H1197.0V919.1H1198.6V935.1H1200.2V903.2H1201.8V909.8H1203.5V935.1H1205.1V935.1H1206.7V940.3H1208.3V935.1H1209.9V940.3H1211.5V935.1H1213.1V919.1H1214.7V935.1H1216.3V935.1H1218.0V909.8H1219.6V935.1H1221.2V909.8H1222.8V940.3H1224.4V935.1H1226.0V940.3H1227.6V919.1H1229.2V935.1H1230.8V935.1H1232.5V935.1H1234.1V935.1H1235.7V935.1H1237.3V919.1H1238.9V903.2H1240.5V919.1H1242.1V919.1H1243.7V935.1H1245.3V909.8H1246.9V935.1H1248.6V935.1H1250.2V919.1H1251.8V935.1H1253.4V935.1H1255.0V919.1H1256.6V940.3H1258.2V935.1H1259.8V919.1H1261.4V898.1H1263.1V935.1H1264.7V919.1H1266.3V935.1H1267.9V935.1H1269.5V919.1H1271.1V919.1H1272.7V909.8H1274.3V940.3H1275.9" stroke="#dc3a3a" stroke-width="1.0" stroke-opacity="0.92" fill="none"/>
<path d="M712.2,680.4H713.8V671.5H715.4V659.7H717.0V648.0H718.6V640.4H720.2V639.9H721.9V644.3H723.5V651.0H725.1V658.8H726.7V670.6H728.3V676.1H729.9V674.2H731.5V670.4H733.1V666.2H734.7V663.3H736.4V663.2H738.0V665.4H739.6V668.6H741.2V671.1H742.8V671.3H744.4V665.1H746.0V655.2H747.6V644.7H749.2V630.3H750.9V618.9H752.5V617.7H754.1V622.0H755.7V628.8H757.3V637.4H758.9V652.2H760.5V662.5H762.1V662.2H763.7V660.2H765.3V657.8H767.0V656.4H768.6V657.0H770.2V659.9H771.8V663.5H773.4V666.1H775.0V665.6H776.6V659.2H778.2V650.4H779.8V642.1H781.5V631.9H783.1V624.2H784.7V623.4H786.3V626.6H787.9V631.6H789.5V637.8H791.1V648.5H792.7V661.5H794.3V673.7H796.0V682.2H797.6V685.5H799.2V687.5H800.8V689.3H802.4V691.8H804.0V695.6H805.6V698.2H807.2V697.0H808.8V691.3H810.4V682.8H812.1V673.6H813.7V665.6H815.3V660.7H816.9V660.6H818.5V664.7H820.1V670.5H821.7V676.6H823.3V684.9H824.9V692.1H826.6V693.9H828.2V693.7H829.8V693.4H831.4V693.3H833.0V694.6H834.6V697.7H836.2V701.4H837.8V704.5H839.4V705.8H841.1V703.6H842.7V698.2H844.3V691.5H845.9V685.2H847.5V681.2H849.1V681.3H850.7V685.3H852.3V691.2H853.9V696.7H855.5V699.7H857.2V699.2H858.8V697.1H860.4V694.1H862.0V691.3H863.6V689.2H865.2V688.8H866.8V690.3H868.4V692.8H870.0V695.3H871.7V696.8H873.3V695.6H874.9V690.5H876.5V683.2H878.1V675.9H879.7V670.5H881.3V669.0H882.9V672.4H884.5V679.1H886.2V687.1H887.8V694.1H889.4V698.2H891.0V699.4H892.6V700.2H894.2V700.8H895.8V701.5H897.4V702.4H899.0V703.7H900.6V705.1H902.3V706.2H903.9V706.5H905.5V703.9H907.1V698.6H908.7V692.2H910.3V686.0H911.9V681.4H913.5V679.9H915.1V682.1H916.8V686.9H918.4V692.6H920.0V697.9H921.6V701.0H923.2V701.0H924.8V699.5H926.4V697.3H928.0V695.5H929.6V694.7H931.3V695.7H932.9V698.0H934.5V700.0H936.1V700.4H937.7V698.0H939.3V693.7H940.9V688.7H942.5V684.0H944.1V680.9H945.7V680.5H947.4V682.5H949.0V685.7H950.6V689.3H952.2V692.3H953.8V693.9H955.4V693.5H957.0V691.8H958.6V689.1H960.2V685.8H961.9V682.2H963.5V678.5H965.1V675.1H966.7V672.0H968.3V668.9H969.9V665.6H971.5V661.6H973.1V656.2H974.7V647.1H976.4V638.4H978.0V635.1H979.6V636.8H981.2V640.8H982.8V645.8H984.4V651.2H986.0V658.4H987.6V666.7H989.2V676.7H990.8V687.8H992.5V698.0H994.1V705.6H995.7V712.7H997.3V718.6H998.9V721.8H1000.5V721.4H1002.1V718.7H1003.7V714.7H1005.3V710.2H1007.0V706.2H1008.6V703.5H1010.2V703.0H1011.8V705.2H1013.4V709.1H1015.0V714.5H1016.6V724.3H1018.2V731.0H1019.8V744.8H1021.5V756.8H1023.1V771.6H1024.7V778.5H1026.3V788.2H1027.9V793.2H1029.5V797.5H1031.1V802.6H1032.7V805.2H1034.3V805.4H1035.9V806.7H1037.6V806.6H1039.2V806.2H1040.8V806.3H1042.4V807.7H1044.0V812.2H1045.6V814.7H1047.2V821.0H1048.8V827.8H1050.4V830.5H1052.1V840.5H1053.7V842.9H1055.3V847.0H1056.9V855.3H1058.5V856.1H1060.1V852.0H1061.7V858.4H1063.3V857.6H1064.9V867.3H1066.6V856.1H1068.2V852.0H1069.8V853.3H1071.4V856.8H1073.0V861.0H1074.6V865.0H1076.2V861.9H1077.8V868.6H1079.4V884.5H1081.0V884.5H1082.7V877.9H1084.3V876.1H1085.9V884.5H1087.5V893.9H1089.1V876.1H1090.7V898.1H1092.3V898.1H1093.9V874.4H1095.5V882.1H1097.2V903.2H1098.8V882.1H1100.4V882.1H1102.0V879.9H1103.6V876.1H1105.2V882.1H1106.8V876.1H1108.4V868.6H1110.0V869.9H1111.7V879.9H1113.3V882.1H1114.9V876.1H1116.5V884.5H1118.1V887.2H1119.7V890.3H1121.3V893.9H1122.9V884.5H1124.5V898.1H1126.1V887.2H1127.8V884.5H1129.4V909.8H1131.0V877.9H1132.6V903.2H1134.2V882.1H1135.8V903.2H1137.4V903.2H1139.0V903.2H1140.6V903.2H1142.3V898.1H1143.9V884.5H1145.5V893.9H1147.1V903.2H1148.7V890.3H1150.3V893.9H1151.9V882.1H1153.5V903.2H1155.1V898.1H1156.7V879.9H1158.4V898.1H1160.0V890.3H1161.6V893.9H1163.2V877.9H1164.8V884.5H1166.4V890.3H1168.0V935.1H1169.6V898.1H1171.2V935.1H1172.9V898.1H1174.5V919.1H1176.1V935.1H1177.7V935.1H1179.3V903.2H1180.9V898.1H1182.5V935.1H1184.1V893.9H1185.7V909.8H1187.4V919.1H1189.0V919.1H1190.6V935.1H1192.2V903.2H1193.8V909.8H1195.4V919.1H1197.0V909.8H1198.6V935.1H1200.2V898.1H1201.8V909.8H1203.5V935.1H1205.1V935.1H1206.7V935.1H1208.3V935.1H1209.9V940.3H1211.5V935.1H1213.1V919.1H1214.7V935.1H1216.3V935.1H1218.0V909.8H1219.6V919.1H1221.2V903.2H1222.8V940.3H1224.4V935.1H1226.0V935.1H1227.6V919.1H1229.2V935.1H1230.8V935.1H1232.5V919.1H1234.1V935.1H1235.7V935.1H1237.3V919.1H1238.9V903.2H1240.5V919.1H1242.1V919.1H1243.7V935.1H1245.3V909.8H1246.9V935.1H1248.6V935.1H1250.2V909.8H1251.8V935.1H1253.4V935.1H1255.0V919.1H1256.6V940.3H1258.2V935.1H1259.8V919.1H1261.4V898.1H1263.1V935.1H1264.7V919.1H1266.3V935.1H1267.9V935.1H1269.5V919.1H1271.1V919.1H1272.7V903.2H1274.3V940.3H1275.9" stroke="#6d8ff0" stroke-width="1.0" stroke-opacity="0.92" fill="none"/>
<path d="M712.2,679.9H713.8V671.0H715.4V659.2H717.0V647.5H718.6V639.9H720.2V639.4H721.9V643.8H723.5V650.5H725.1V658.3H726.7V670.1H728.3V675.6H729.9V673.7H731.5V669.9H733.1V665.7H734.7V662.8H736.4V662.7H738.0V664.9H739.6V668.1H741.2V670.6H742.8V670.8H744.4V664.6H746.0V654.7H747.6V644.2H749.2V629.8H750.9V618.4H752.5V617.2H754.1V621.5H755.7V628.3H757.3V636.9H758.9V651.7H760.5V662.0H762.1V661.7H763.7V659.7H765.3V657.3H767.0V655.9H768.6V656.5H770.2V659.4H771.8V663.0H773.4V665.6H775.0V665.1H776.6V658.7H778.2V649.9H779.8V641.6H781.5V631.4H783.1V623.7H784.7V622.9H786.3V626.1H787.9V631.1H789.5V637.3H791.1V648.0H792.7V661.0H794.3V673.2H796.0V681.7H797.6V685.0H799.2V687.0H800.8V688.8H802.4V691.3H804.0V695.1H805.6V697.7H807.2V696.5H808.8V690.8H810.4V682.3H812.1V673.1H813.7V665.1H815.3V660.2H816.9V660.1H818.5V664.2H820.1V670.0H821.7V676.1H823.3V684.4H824.9V691.6H826.6V693.4H828.2V693.2H829.8V692.9H831.4V692.8H833.0V694.1H834.6V697.2H836.2V700.9H837.8V704.0H839.4V705.2H841.1V703.1H842.7V697.7H844.3V691.0H845.9V684.7H847.5V680.7H849.1V680.8H850.7V684.8H852.3V690.7H853.9V696.2H855.5V699.2H857.2V698.7H858.8V696.6H860.4V693.6H862.0V690.8H863.6V688.7H865.2V688.3H866.8V689.8H868.4V692.3H870.0V694.8H871.7V696.3H873.3V695.1H874.9V690.0H876.5V682.7H878.1V675.4H879.7V670.0H881.3V668.5H882.9V671.9H884.5V678.6H886.2V686.6H887.8V693.6H889.4V697.7H891.0V698.9H892.6V699.7H894.2V700.3H895.8V701.0H897.4V701.9H899.0V703.2H900.6V704.6H902.3V705.7H903.9V706.0H905.5V703.4H907.1V698.1H908.7V691.7H910.3V685.5H911.9V680.9H913.5V679.4H915.1V681.6H916.8V686.4H918.4V692.1H920.0V697.4H921.6V700.5H923.2V700.5H924.8V699.0H926.4V696.8H928.0V695.0H929.6V694.2H931.3V695.2H932.9V697.5H934.5V699.5H936.1V699.9H937.7V697.5H939.3V693.2H940.9V688.2H942.5V683.5H944.1V680.4H945.7V680.0H947.4V682.0H949.0V685.2H950.6V688.8H952.2V691.8H953.8V693.4H955.4V693.0H957.0V691.3H958.6V688.6H960.2V685.3H961.9V681.7H963.5V678.0H965.1V674.6H966.7V671.5H968.3V668.4H969.9V665.1H971.5V661.1H973.1V655.7H974.7V646.6H976.4V637.9H978.0V634.6H979.6V636.3H981.2V640.3H982.8V645.3H984.4V650.7H986.0V657.9H987.6V666.2H989.2V676.2H990.8V687.3H992.5V697.5H994.1V705.1H995.7V712.2H997.3V718.1H998.9V721.3H1000.5V720.9H1002.1V718.2H1003.7V714.2H1005.3V709.7H1007.0V705.7H1008.6V703.0H1010.2V702.5H1011.8V704.7H1013.4V708.6H1015.0V714.0H1016.6V723.8H1018.2V730.5H1019.8V744.3H1021.5V756.3H1023.1V770.0H1024.7V776.8H1026.3V786.6H1027.9V791.6H1029.5V796.2H1031.1V801.6H1032.7V803.1H1034.3V803.4H1035.9V805.0H1037.6V805.2H1039.2V804.3H1040.8V805.0H1042.4V806.2H1044.0V811.0H1045.6V813.1H1047.2V820.5H1048.8V826.1H1050.4V828.9H1052.1V837.0H1053.7V841.6H1055.3V845.5H1056.9V854.6H1058.5V855.3H1060.1V851.4H1061.7V853.9H1063.3V856.8H1064.9V865.0H1066.6V853.3H1068.2V848.5H1069.8V851.4H1071.4V856.1H1073.0V857.6H1074.6V864.0H1076.2V860.1H1077.8V865.0H1079.4V884.5H1081.0V882.1H1082.7V876.1H1084.3V874.4H1085.9V884.5H1087.5V890.3H1089.1V876.1H1090.7V898.1H1092.3V893.9H1093.9V869.9H1095.5V882.1H1097.2V903.2H1098.8V877.9H1100.4V879.9H1102.0V879.9H1103.6V874.4H1105.2V879.9H1106.8V872.8H1108.4V867.3H1110.0V869.9H1111.7V877.9H1113.3V882.1H1114.9V876.1H1116.5V884.5H1118.1V887.2H1119.7V890.3H1121.3V893.9H1122.9V884.5H1124.5V893.9H1126.1V887.2H1127.8V884.5H1129.4V903.2H1131.0V876.1H1132.6V898.1H1134.2V882.1H1135.8V898.1H1137.4V903.2H1139.0V898.1H1140.6V893.9H1142.3V893.9H1143.9V884.5H1145.5V890.3H1147.1V898.1H1148.7V887.2H1150.3V890.3H1151.9V882.1H1153.5V898.1H1155.1V898.1H1156.7V877.9H1158.4V898.1H1160.0V890.3H1161.6V893.9H1163.2V874.4H1164.8V884.5H1166.4V890.3H1168.0V935.1H1169.6V898.1H1171.2V935.1H1172.9V898.1H1174.5V919.1H1176.1V935.1H1177.7V935.1H1179.3V903.2H1180.9V898.1H1182.5V919.1H1184.1V893.9H1185.7V909.8H1187.4V919.1H1189.0V919.1H1190.6V935.1H1192.2V903.2H1193.8V909.8H1195.4V919.1H1197.0V909.8H1198.6V935.1H1200.2V898.1H1201.8V903.2H1203.5V935.1H1205.1V935.1H1206.7V935.1H1208.3V935.1H1209.9V940.3H1211.5V919.1H1213.1V919.1H1214.7V935.1H1216.3V935.1H1218.0V909.8H1219.6V919.1H1221.2V903.2H1222.8V940.3H1224.4V919.1H1226.0V935.1H1227.6V919.1H1229.2V935.1H1230.8V935.1H1232.5V919.1H1234.1V909.8H1235.7V935.1H1237.3V919.1H1238.9V903.2H1240.5V919.1H1242.1V919.1H1243.7V935.1H1245.3V909.8H1246.9V935.1H1248.6V935.1H1250.2V909.8H1251.8V935.1H1253.4V935.1H1255.0V919.1H1256.6V940.3H1258.2V935.1H1259.8V919.1H1261.4V898.1H1263.1V935.1H1264.7V919.1H1266.3V935.1H1267.9V935.1H1269.5V919.1H1271.1V919.1H1272.7V898.1H1274.3V940.3H1275.9" stroke="#6a5cf0" stroke-width="1.0" stroke-opacity="0.92" fill="none"/>
<path d="M712.2,679.4H713.8V670.5H715.4V658.7H717.0V647.0H718.6V639.4H720.2V638.9H721.9V643.3H723.5V650.0H725.1V657.8H726.7V669.6H728.3V675.1H729.9V673.2H731.5V669.4H733.1V665.2H734.7V662.3H736.4V662.2H738.0V664.4H739.6V667.6H741.2V670.1H742.8V670.3H744.4V664.1H746.0V654.2H747.6V643.7H749.2V629.3H750.9V617.9H752.5V616.7H754.1V621.0H755.7V627.8H757.3V636.4H758.9V651.2H760.5V661.5H762.1V661.2H763.7V659.2H765.3V656.8H767.0V655.4H768.6V656.0H770.2V658.9H771.8V662.5H773.4V665.1H775.0V664.6H776.6V658.2H778.2V649.4H779.8V641.1H781.5V630.9H783.1V623.2H784.7V622.4H786.3V625.6H787.9V630.6H789.5V636.8H791.1V647.5H792.7V660.5H794.3V672.7H796.0V681.2H797.6V684.5H799.2V686.5H800.8V688.3H802.4V690.8H804.0V694.6H805.6V697.2H807.2V696.0H808.8V690.3H810.4V681.8H812.1V672.6H813.7V664.6H815.3V659.7H816.9V659.6H818.5V663.7H820.1V669.5H821.7V675.6H823.3V683.9H824.9V691.1H826.6V692.9H828.2V692.7H829.8V692.4H831.4V692.3H833.0V693.6H834.6V696.7H836.2V700.4H837.8V703.5H839.4V704.8H841.1V702.6H842.7V697.2H844.3V690.5H845.9V684.2H847.5V680.2H849.1V680.3H850.7V684.3H852.3V690.2H853.9V695.7H855.5V698.7H857.2V698.2H858.8V696.1H860.4V693.1H862.0V690.3H863.6V688.2H865.2V687.8H866.8V689.3H868.4V691.8H870.0V694.3H871.7V695.8H873.3V694.6H874.9V689.5H876.5V682.2H878.1V674.9H879.7V669.5H881.3V668.0H882.9V671.4H884.5V678.1H886.2V686.1H887.8V693.1H889.4V697.2H891.0V698.4H892.6V699.2H894.2V699.8H895.8V700.5H897.4V701.4H899.0V702.7H900.6V704.1H902.3V705.2H903.9V705.5H905.5V702.9H907.1V697.6H908.7V691.2H910.3V685.0H911.9V680.4H913.5V678.9H915.1V681.1H916.8V685.9H918.4V691.6H920.0V696.9H921.6V700.0H923.2V700.0H924.8V698.5H926.4V696.3H928.0V694.5H929.6V693.7H931.3V694.7H932.9V697.0H934.5V699.0H936.1V699.4H937.7V697.0H939.3V692.7H940.9V687.7H942.5V683.0H944.1V679.9H945.7V679.5H947.4V681.5H949.0V684.7H950.6V688.3H952.2V691.3H953.8V692.9H955.4V692.5H957.0V690.8H958.6V688.1H960.2V684.8H961.9V681.2H963.5V677.5H965.1V674.1H966.7V671.0H968.3V667.9H969.9V664.6H971.5V660.6H973.1V655.2H974.7V646.1H976.4V637.4H978.0V634.1H979.6V635.8H981.2V639.8H982.8V644.8H984.4V650.2H986.0V657.4H987.6V665.7H989.2V675.7H990.8V686.8H992.5V697.0H994.1V704.6H995.7V711.7H997.3V717.6H998.9V720.8H1000.5V720.4H1002.1V717.7H1003.7V713.7H1005.3V709.2H1007.0V705.2H1008.6V702.5H1010.2V702.0H1011.8V704.2H1013.4V708.1H1015.0V713.5H1016.6V723.3H1018.2V730.0H1019.8V743.8H1021.5V755.8H1023.1V768.3H1024.7V775.0H1026.3V784.7H1027.9V789.9H1029.5V794.5H1031.1V800.4H1032.7V801.5H1034.3V802.1H1035.9V802.5H1037.6V803.6H1039.2V803.4H1040.8V803.2H1042.4V804.3H1044.0V808.6H1045.6V811.8H1047.2V819.2H1048.8V824.0H1050.4V827.1H1052.1V835.1H1053.7V838.7H1055.3V841.2H1056.9V854.6H1058.5V853.9H1060.1V848.0H1061.7V853.9H1063.3V855.3H1064.9V862.9H1066.6V852.6H1068.2V846.5H1069.8V848.5H1071.4V854.6H1073.0V857.6H1074.6V864.0H1076.2V859.2H1077.8V865.0H1079.4V882.1H1081.0V882.1H1082.7V876.1H1084.3V871.3H1085.9V882.1H1087.5V887.2H1089.1V876.1H1090.7V898.1H1092.3V890.3H1093.9V868.6H1095.5V879.9H1097.2V903.2H1098.8V874.4H1100.4V879.9H1102.0V877.9H1103.6V871.3H1105.2V872.8H1106.8V871.3H1108.4V864.0H1110.0V868.6H1111.7V876.1H1113.3V882.1H1114.9V872.8H1116.5V884.5H1118.1V879.9H1119.7V887.2H1121.3V893.9H1122.9V884.5H1124.5V890.3H1126.1V887.2H1127.8V879.9H1129.4V903.2H1131.0V876.1H1132.6V893.9H1134.2V879.9H1135.8V898.1H1137.4V903.2H1139.0V893.9H1140.6V893.9H1142.3V890.3H1143.9V882.1H1145.5V884.5H1147.1V893.9H1148.7V887.2H1150.3V887.2H1151.9V876.1H1153.5V898.1H1155.1V893.9H1156.7V877.9H1158.4V898.1H1160.0V890.3H1161.6V893.9H1163.2V874.4H1164.8V884.5H1166.4V882.1H1168.0V935.1H1169.6V890.3H1171.2V935.1H1172.9V898.1H1174.5V919.1H1176.1V935.1H1177.7V935.1H1179.3V903.2H1180.9V898.1H1182.5V909.8H1184.1V890.3H1185.7V909.8H1187.4V909.8H1189.0V919.1H1190.6V935.1H1192.2V898.1H1193.8V909.8H1195.4V919.1H1197.0V903.2H1198.6V919.1H1200.2V898.1H1201.8V898.1H1203.5V935.1H1205.1V935.1H1206.7V935.1H1208.3V919.1H1209.9V935.1H1211.5V919.1H1213.1V919.1H1214.7V935.1H1216.3V935.1H1218.0V909.8H1219.6V919.1H1221.2V903.2H1222.8V940.3H1224.4V919.1H1226.0V919.1H1227.6V919.1H1229.2V935.1H1230.8V935.1H1232.5V919.1H1234.1V909.8H1235.7V935.1H1237.3V919.1H1238.9V903.2H1240.5V919.1H1242.1V919.1H1243.7V935.1H1245.3V909.8H1246.9V935.1H1248.6V935.1H1250.2V909.8H1251.8V935.1H1253.4V919.1H1255.0V919.1H1256.6V940.3H1258.2V919.1H1259.8V919.1H1261.4V898.1H1263.1V935.1H1264.7V909.8H1266.3V935.1H1267.9V919.1H1269.5V919.1H1271.1V919.1H1272.7V898.1H1274.3V940.3H1275.9" stroke="#f5b01e" stroke-width="1.0" stroke-opacity="0.92" fill="none"/>
<path d="M712.2,678.9H713.8V670.0H715.4V658.2H717.0V646.5H718.6V638.9H720.2V638.4H721.9V642.8H723.5V649.5H725.1V657.3H726.7V669.1H728.3V674.6H729.9V672.7H731.5V668.9H733.1V664.7H734.7V661.8H736.4V661.7H738.0V663.9H739.6V667.1H741.2V669.6H742.8V669.8H744.4V663.6H746.0V653.7H747.6V643.2H749.2V628.8H750.9V617.4H752.5V616.2H754.1V620.5H755.7V627.3H757.3V635.9H758.9V650.7H760.5V661.0H762.1V660.7H763.7V658.7H765.3V656.3H767.0V654.9H768.6V655.5H770.2V658.4H771.8V662.0H773.4V664.6H775.0V664.1H776.6V657.7H778.2V648.9H779.8V640.6H781.5V630.4H783.1V622.7H784.7V621.9H786.3V625.1H787.9V630.1H789.5V636.3H791.1V647.0H792.7V660.0H794.3V672.2H796.0V680.7H797.6V684.0H799.2V686.0H800.8V687.8H802.4V690.3H804.0V694.1H805.6V696.7H807.2V695.5H808.8V689.8H810.4V681.3H812.1V672.1H813.7V664.1H815.3V659.2H816.9V659.1H818.5V663.2H820.1V669.0H821.7V675.1H823.3V683.4H824.9V690.6H826.6V692.4H828.2V692.2H829.8V691.9H831.4V691.8H833.0V693.1H834.6V696.2H836.2V699.9H837.8V703.0H839.4V704.2H841.1V702.1H842.7V696.7H844.3V690.0H845.9V683.7H847.5V679.7H849.1V679.8H850.7V683.8H852.3V689.7H853.9V695.2H855.5V698.2H857.2V697.7H858.8V695.6H860.4V692.6H862.0V689.8H863.6V687.7H865.2V687.3H866.8V688.8H868.4V691.3H870.0V693.8H871.7V695.3H873.3V694.1H874.9V689.0H876.5V681.7H878.1V674.4H879.7V669.0H881.3V667.5H882.9V670.9H884.5V677.6H886.2V685.6H887.8V692.6H889.4V696.7H891.0V697.9H892.6V698.7H894.2V699.3H895.8V700.0H897.4V700.9H899.0V702.2H900.6V703.6H902.3V704.7H903.9V705.0H905.5V702.4H907.1V697.1H908.7V690.7H910.3V684.5H911.9V679.9H913.5V678.4H915.1V680.6H916.8V685.4H918.4V691.1H920.0V696.4H921.6V699.5H923.2V699.5H924.8V698.0H926.4V695.8H928.0V694.0H929.6V693.2H931.3V694.2H932.9V696.5H934.5V698.5H936.1V698.9H937.7V696.5H939.3V692.2H940.9V687.2H942.5V682.5H944.1V679.4H945.7V679.0H947.4V681.0H949.0V684.2H950.6V687.8H952.2V690.8H953.8V692.4H955.4V692.0H957.0V690.3H958.6V687.6H960.2V684.3H961.9V680.7H963.5V677.0H965.1V673.6H966.7V670.5H968.3V667.4H969.9V664.1H971.5V660.1H973.1V654.7H974.7V645.6H976.4V636.9H978.0V633.6H979.6V635.3H981.2V639.3H982.8V644.3H984.4V649.7H986.0V656.9H987.6V665.2H989.2V675.2H990.8V686.3H992.5V696.5H994.1V704.1H995.7V711.2H997.3V717.1H998.9V720.3H1000.5V719.9H1002.1V717.2H1003.7V713.2H1005.3V708.7H1007.0V704.7H1008.6V702.0H1010.2V701.5H1011.8V703.7H1013.4V707.6H1015.0V713.0H1016.6V722.8H1018.2V729.5H1019.8V743.3H1021.5V755.3H1023.1V766.7H1024.7V773.3H1026.3V782.9H1027.9V788.4H1029.5V793.1H1031.1V798.2H1032.7V799.9H1034.3V800.3H1035.9V800.9H1037.6V801.6H1039.2V801.7H1040.8V800.7H1042.4V802.5H1044.0V807.1H1045.6V810.2H1047.2V817.0H1048.8V822.5H1050.4V824.5H1052.1V833.7H1053.7V835.7H1055.3V840.5H1056.9V852.0H1058.5V852.6H1060.1V847.0H1061.7V852.0H1063.3V855.3H1064.9V861.9H1066.6V850.2H1068.2V844.6H1069.8V847.5H1071.4V853.9H1073.0V856.8H1074.6V862.9H1076.2V857.6H1077.8V865.0H1079.4V882.1H1081.0V882.1H1082.7V872.8H1084.3V868.6H1085.9V877.9H1087.5V887.2H1089.1V876.1H1090.7V893.9H1092.3V887.2H1093.9V868.6H1095.5V879.9H1097.2V898.1H1098.8V871.3H1100.4V874.4H1102.0V876.1H1103.6V871.3H1105.2V871.3H1106.8V871.3H1108.4V864.0H1110.0V868.6H1111.7V876.1H1113.3V882.1H1114.9V872.8H1116.5V882.1H1118.1V877.9H1119.7V887.2H1121.3V890.3H1122.9V882.1H1124.5V884.5H1126.1V887.2H1127.8V877.9H1129.4V903.2H1131.0V874.4H1132.6V887.2H1134.2V879.9H1135.8V893.9H1137.4V898.1H1139.0V890.3H1140.6V893.9H1142.3V890.3H1143.9V882.1H1145.5V882.1H1147.1V893.9H1148.7V884.5H1150.3V884.5H1151.9V876.1H1153.5V898.1H1155.1V893.9H1156.7V877.9H1158.4V893.9H1160.0V890.3H1161.6V893.9H1163.2V872.8H1164.8V884.5H1166.4V877.9H1168.0V919.1H1169.6V890.3H1171.2V935.1H1172.9V893.9H1174.5V909.8H1176.1V935.1H1177.7V935.1H1179.3V903.2H1180.9V898.1H1182.5V909.8H1184.1V887.2H1185.7V909.8H1187.4V903.2H1189.0V919.1H1190.6V935.1H1192.2V898.1H1193.8V909.8H1195.4V919.1H1197.0V903.2H1198.6V909.8H1200.2V898.1H1201.8V898.1H1203.5V935.1H1205.1V935.1H1206.7V919.1H1208.3V919.1H1209.9V919.1H1211.5V919.1H1213.1V919.1H1214.7V935.1H1216.3V935.1H1218.0V909.8H1219.6V919.1H1221.2V903.2H1222.8V935.1H1224.4V909.8H1226.0V919.1H1227.6V919.1H1229.2V935.1H1230.8V935.1H1232.5V919.1H1234.1V909.8H1235.7V935.1H1237.3V919.1H1238.9V903.2H1240.5V919.1H1242.1V919.1H1243.7V935.1H1245.3V903.2H1246.9V919.1H1248.6V935.1H1250.2V909.8H1251.8V935.1H1253.4V919.1H1255.0V919.1H1256.6V940.3H1258.2V919.1H1259.8V919.1H1261.4V898.1H1263.1V935.1H1264.7V909.8H1266.3V935.1H1267.9V919.1H1269.5V919.1H1271.1V919.1H1272.7V898.1H1274.3V940.3H1275.9" stroke="#b27fc4" stroke-width="1.0" stroke-opacity="0.92" fill="none"/>
<path d="M712.2,678.4H713.8V669.5H715.4V657.7H717.0V646.0H718.6V638.4H720.2V637.9H721.9V642.3H723.5V649.0H725.1V656.8H726.7V668.6H728.3V674.1H729.9V672.2H731.5V668.4H733.1V664.2H734.7V661.3H736.4V661.2H738.0V663.4H739.6V666.6H741.2V669.1H742.8V669.3H744.4V663.1H746.0V653.2H747.6V642.7H749.2V628.3H750.9V616.9H752.5V615.7H754.1V620.0H755.7V626.8H757.3V635.4H758.9V650.2H760.5V660.5H762.1V660.2H763.7V658.2H765.3V655.8H767.0V654.4H768.6V655.0H770.2V657.9H771.8V661.5H773.4V664.1H775.0V663.6H776.6V657.2H778.2V648.4H779.8V640.1H781.5V629.9H783.1V622.2H784.7V621.4H786.3V624.6H787.9V629.6H789.5V635.8H791.1V646.5H792.7V659.5H794.3V671.7H796.0V680.2H797.6V683.5H799.2V685.5H800.8V687.3H802.4V689.8H804.0V693.6H805.6V696.2H807.2V695.0H808.8V689.3H810.4V680.8H812.1V671.6H813.7V663.6H815.3V658.7H816.9V658.6H818.5V662.7H820.1V668.5H821.7V674.6H823.3V682.9H824.9V690.1H826.6V691.9H828.2V691.7H829.8V691.4H831.4V691.2H833.0V692.6H834.6V695.7H836.2V699.4H837.8V702.5H839.4V703.8H841.1V701.6H842.7V696.2H844.3V689.5H845.9V683.2H847.5V679.2H849.1V679.3H850.7V683.3H852.3V689.2H853.9V694.7H855.5V697.7H857.2V697.2H858.8V695.1H860.4V692.1H862.0V689.3H863.6V687.2H865.2V686.8H866.8V688.3H868.4V690.8H870.0V693.3H871.7V694.8H873.3V693.6H874.9V688.5H876.5V681.2H878.1V673.9H879.7V668.5H881.3V667.0H882.9V670.4H884.5V677.1H886.2V685.1H887.8V692.1H889.4V696.2H891.0V697.4H892.6V698.2H894.2V698.8H895.8V699.5H897.4V700.4H899.0V701.7H900.6V703.1H902.3V704.2H903.9V704.5H905.5V701.9H907.1V696.6H908.7V690.2H910.3V684.0H911.9V679.4H913.5V677.9H915.1V680.1H916.8V684.9H918.4V690.6H920.0V695.9H921.6V699.0H923.2V699.0H924.8V697.5H926.4V695.3H928.0V693.5H929.6V692.7H931.3V693.7H932.9V696.0H934.5V698.0H936.1V698.4H937.7V696.0H939.3V691.7H940.9V686.7H942.5V682.0H944.1V678.9H945.7V678.5H947.4V680.5H949.0V683.7H950.6V687.3H952.2V690.3H953.8V691.9H955.4V691.5H957.0V689.8H958.6V687.1H960.2V683.8H961.9V680.2H963.5V676.5H965.1V673.1H966.7V670.0H968.3V666.9H969.9V663.6H971.5V659.6H973.1V654.2H974.7V645.1H976.4V636.4H978.0V633.1H979.6V634.8H981.2V638.8H982.8V643.8H984.4V649.2H986.0V656.4H987.6V664.7H989.2V674.7H990.8V685.8H992.5V696.0H994.1V703.6H995.7V710.7H997.3V716.6H998.9V719.8H1000.5V719.4H1002.1V716.7H1003.7V712.7H1005.3V708.2H1007.0V704.2H1008.6V701.5H1010.2V701.0H1011.8V703.2H1013.4V707.1H1015.0V712.5H1016.6V722.3H1018.2V729.0H1019.8V742.8H1021.5V754.8H1023.1V765.0H1024.7V771.7H1026.3V781.4H1027.9V786.6H1029.5V791.7H1031.1V796.7H1032.7V798.2H1034.3V798.8H1035.9V799.2H1037.6V799.6H1039.2V799.6H1040.8V799.6H1042.4V800.3H1044.0V805.4H1045.6V808.3H1047.2V814.7H1048.8V821.4H1050.4V823.1H1052.1V831.3H1053.7V834.0H1055.3V838.0H1056.9V849.6H1058.5V847.5H1060.1V845.1H1061.7V851.4H1063.3V852.0H1064.9V861.0H1066.6V849.6H1068.2V843.3H1069.8V846.5H1071.4V853.3H1073.0V854.6H1074.6V859.2H1076.2V856.8H1077.8V864.0H1079.4V879.9H1081.0V882.1H1082.7V871.3H1084.3V865.0H1085.9V877.9H1087.5V887.2H1089.1V876.1H1090.7V890.3H1092.3V887.2H1093.9V866.1H1095.5V879.9H1097.2V893.9H1098.8V869.9H1100.4V872.8H1102.0V876.1H1103.6V871.3H1105.2V869.9H1106.8V867.3H1108.4V861.9H1110.0V866.1H1111.7V872.8H1113.3V882.1H1114.9V871.3H1116.5V877.9H1118.1V874.4H1119.7V884.5H1121.3V890.3H1122.9V879.9H1124.5V884.5H1126.1V887.2H1127.8V877.9H1129.4V903.2H1131.0V874.4H1132.6V884.5H1134.2V877.9H1135.8V890.3H1137.4V898.1H1139.0V884.5H1140.6V893.9H1142.3V887.2H1143.9V882.1H1145.5V877.9H1147.1V893.9H1148.7V884.5H1150.3V882.1H1151.9V872.8H1153.5V893.9H1155.1V890.3H1156.7V877.9H1158.4V890.3H1160.0V890.3H1161.6V890.3H1163.2V871.3H1164.8V884.5H1166.4V877.9H1168.0V919.1H1169.6V882.1H1171.2V935.1H1172.9V890.3H1174.5V909.8H1176.1V935.1H1177.7V919.1H1179.3V903.2H1180.9V898.1H1182.5V909.8H1184.1V887.2H1185.7V909.8H1187.4V903.2H1189.0V909.8H1190.6V935.1H1192.2V898.1H1193.8V909.8H1195.4V919.1H1197.0V903.2H1198.6V909.8H1200.2V898.1H1201.8V898.1H1203.5V919.1H1205.1V935.1H1206.7V919.1H1208.3V919.1H1209.9V919.1H1211.5V919.1H1213.1V909.8H1214.7V935.1H1216.3V919.1H1218.0V909.8H1219.6V919.1H1221.2V903.2H1222.8V935.1H1224.4V909.8H1226.0V919.1H1227.6V919.1H1229.2V935.1H1230.8V935.1H1232.5V919.1H1234.1V909.8H1235.7V919.1H1237.3V919.1H1238.9V903.2H1240.5V919.1H1242.1V919.1H1243.7V935.1H1245.3V903.2H1246.9V909.8H1248.6V935.1H1250.2V909.8H1251.8V935.1H1253.4V919.1H1255.0V919.1H1256.6V935.1H1258.2V919.1H1259.8V919.1H1261.4V898.1H1263.1V935.1H1264.7V909.8H1266.3V935.1H1267.9V919.1H1269.5V919.1H1271.1V919.1H1272.7V893.9H1274.3V940.3H1275.9" stroke="#ff7f0e" stroke-width="1.0" stroke-opacity="0.92" fill="none"/>
</g>
<rect x="712.2" y="563.9" width="563.7" height="373.4" fill="none" stroke="#3a3a3a" stroke-width="1.1"/>
<path d="M720.2,937.3v3.5M752.5,937.3v3.5M784.7,937.3v3.5M816.9,937.3v3.5M849.1,937.3v3.5M881.3,937.3v3.5M913.5,937.3v3.5M945.7,937.3v3.5M978.0,937.3v3.5M1010.2,937.3v3.5M1042.4,937.3v3.5M1074.6,937.3v3.5M1106.8,937.3v3.5M1139.0,937.3v3.5M1171.2,937.3v3.5M1203.5,937.3v3.5M1235.7,937.3v3.5M1267.9,937.3v3.5M712.2,937.3v2M720.2,937.3v2M728.3,937.3v2M736.4,937.3v2M744.4,937.3v2M752.5,937.3v2M760.5,937.3v2M768.6,937.3v2M776.6,937.3v2M784.7,937.3v2M792.7,937.3v2M800.8,937.3v2M808.8,937.3v2M816.9,937.3v2M824.9,937.3v2M833.0,937.3v2M841.1,937.3v2M849.1,937.3v2M857.2,937.3v2M865.2,937.3v2M873.3,937.3v2M881.3,937.3v2M889.4,937.3v2M897.4,937.3v2M905.5,937.3v2M913.5,937.3v2M921.6,937.3v2M929.6,937.3v2M937.7,937.3v2M945.7,937.3v2M953.8,937.3v2M961.9,937.3v2M969.9,937.3v2M978.0,937.3v2M986.0,937.3v2M994.1,937.3v2M1002.1,937.3v2M1010.2,937.3v2M1018.2,937.3v2M1026.3,937.3v2M1034.3,937.3v2M1042.4,937.3v2M1050.4,937.3v2M1058.5,937.3v2M1066.6,937.3v2M1074.6,937.3v2M1082.7,937.3v2M1090.7,937.3v2M1098.8,937.3v2M1106.8,937.3v2M1114.9,937.3v2M1122.9,937.3v2M1131.0,937.3v2M1139.0,937.3v2M1147.1,937.3v2M1155.1,937.3v2M1163.2,937.3v2M1171.2,937.3v2M1179.3,937.3v2M1187.4,937.3v2M1195.4,937.3v2M1203.5,937.3v2M1211.5,937.3v2M1219.6,937.3v2M1227.6,937.3v2M1235.7,937.3v2M1243.7,937.3v2M1251.8,937.3v2M1259.8,937.3v2M1267.9,937.3v2M1275.9,937.3v2M712.2,935.10h-3.5M712.2,882.10h-3.5M712.2,829.10h-3.5M712.2,776.10h-3.5M712.2,723.10h-3.5M712.2,670.10h-3.5M712.2,617.10h-3.5M712.2,564.10h-3.5M712.2,919.1h-2M712.2,909.8h-2M712.2,903.2h-2M712.2,898.1h-2M712.2,893.9h-2M712.2,890.3h-2M712.2,887.2h-2M712.2,884.5h-2M712.2,866.1h-2M712.2,856.8h-2M712.2,850.2h-2M712.2,845.1h-2M712.2,840.9h-2M712.2,837.3h-2M712.2,834.2h-2M712.2,831.5h-2M712.2,813.1h-2M712.2,803.8h-2M712.2,797.2h-2M712.2,792.1h-2M712.2,787.9h-2M712.2,784.3h-2M712.2,781.2h-2M712.2,778.5h-2M712.2,760.1h-2M712.2,750.8h-2M712.2,744.2h-2M712.2,739.1h-2M712.2,734.9h-2M712.2,731.3h-2M712.2,728.2h-2M712.2,725.5h-2M712.2,707.1h-2M712.2,697.8h-2M712.2,691.2h-2M712.2,686.1h-2M712.2,681.9h-2M712.2,678.3h-2M712.2,675.2h-2M712.2,672.5h-2M712.2,654.1h-2M712.2,644.8h-2M712.2,638.2h-2M712.2,633.1h-2M712.2,628.9h-2M712.2,625.3h-2M712.2,622.2h-2M712.2,619.5h-2M712.2,601.1h-2M712.2,591.8h-2M712.2,585.2h-2M712.2,580.1h-2M712.2,575.9h-2M712.2,572.3h-2M712.2,569.2h-2M712.2,566.5h-2" stroke="#000" stroke-width="0.8"/>
<text x="709.82" y="956.60" font-size="17.5" font-family="'Liberation Sans', sans-serif" textLength="20.86" lengthAdjust="spacingAndGlyphs">10</text>
<text x="742.03" y="956.60" font-size="17.5" font-family="'Liberation Sans', sans-serif" textLength="20.86" lengthAdjust="spacingAndGlyphs">12</text>
<text x="774.25" y="956.60" font-size="17.5" font-family="'Liberation Sans', sans-serif" textLength="20.86" lengthAdjust="spacingAndGlyphs">14</text>
<text x="806.46" y="956.60" font-size="17.5" font-family="'Liberation Sans', sans-serif" textLength="20.86" lengthAdjust="spacingAndGlyphs">16</text>
<text x="838.68" y="956.60" font-size="17.5" font-family="'Liberation Sans', sans-serif" textLength="20.86" lengthAdjust="spacingAndGlyphs">18</text>
<text x="870.89" y="956.60" font-size="17.5" font-family="'Liberation Sans', sans-serif" textLength="20.86" lengthAdjust="spacingAndGlyphs">20</text>
<text x="903.10" y="956.60" font-size="17.5" font-family="'Liberation Sans', sans-serif" textLength="20.86" lengthAdjust="spacingAndGlyphs">22</text>
<text x="935.32" y="956.60" font-size="17.5" font-family="'Liberation Sans', sans-serif" textLength="20.86" lengthAdjust="spacingAndGlyphs">24</text>
<text x="967.53" y="956.60" font-size="17.5" font-family="'Liberation Sans', sans-serif" textLength="20.86" lengthAdjust="spacingAndGlyphs">26</text>
<text x="999.75" y="956.60" font-size="17.5" font-family="'Liberation Sans', sans-serif" textLength="20.86" lengthAdjust="spacingAndGlyphs">28</text>
<text x="1031.96" y="956.60" font-size="17.5" font-family="'Liberation Sans', sans-serif" textLength="20.86" lengthAdjust="spacingAndGlyphs">30</text>
<text x="1064.17" y="956.60" font-size="17.5" font-family="'Liberation Sans', sans-serif" textLength="20.86" lengthAdjust="spacingAndGlyphs">32</text>
<text x="1096.39" y="956.60" font-size="17.5" font-family="'Liberation Sans', sans-serif" textLength="20.86" lengthAdjust="spacingAndGlyphs">34</text>
<text x="1128.60" y="956.60" font-size="17.5" font-family="'Liberation Sans', sans-serif" textLength="20.86" lengthAdjust="spacingAndGlyphs">36</text>
<text x="1160.82" y="956.60" font-size="17.5" font-family="'Liberation Sans', sans-serif" textLength="20.86" lengthAdjust="spacingAndGlyphs">38</text>
<text x="1193.03" y="956.60" font-size="17.5" font-family="'Liberation Sans', sans-serif" textLength="20.86" lengthAdjust="spacingAndGlyphs">40</text>
<text x="1225.24" y="956.60" font-size="17.5" font-family="'Liberation Sans', sans-serif" textLength="20.86" lengthAdjust="spacingAndGlyphs">42</text>
<text x="1257.46" y="956.60" font-size="17.5" font-family="'Liberation Sans', sans-serif" textLength="20.86" lengthAdjust="spacingAndGlyphs">44</text>
<text x="677.98" y="942.20" font-size="17.5" font-family="'Liberation Sans', sans-serif" textLength="21.12" lengthAdjust="spacingAndGlyphs">10</text>
<text x="699.10" y="935.30" font-size="11.8" font-family="'Liberation Sans', sans-serif" textLength="7.50" lengthAdjust="spacingAndGlyphs">0</text>
<text x="677.98" y="889.20" font-size="17.5" font-family="'Liberation Sans', sans-serif" textLength="21.12" lengthAdjust="spacingAndGlyphs">10</text>
<text x="699.10" y="882.30" font-size="11.8" font-family="'Liberation Sans', sans-serif" textLength="7.50" lengthAdjust="spacingAndGlyphs">1</text>
<text x="677.98" y="836.20" font-size="17.5" font-family="'Liberation Sans', sans-serif" textLength="21.12" lengthAdjust="spacingAndGlyphs">10</text>
<text x="699.10" y="829.30" font-size="11.8" font-family="'Liberation Sans', sans-serif" textLength="7.50" lengthAdjust="spacingAndGlyphs">2</text>
<text x="677.98" y="783.20" font-size="17.5" font-family="'Liberation Sans', sans-serif" textLength="21.12" lengthAdjust="spacingAndGlyphs">10</text>
<text x="699.10" y="776.30" font-size="11.8" font-family="'Liberation Sans', sans-serif" textLength="7.50" lengthAdjust="spacingAndGlyphs">3</text>
<text x="677.98" y="730.20" font-size="17.5" font-family="'Liberation Sans', sans-serif" textLength="21.12" lengthAdjust="spacingAndGlyphs">10</text>
<text x="699.10" y="723.30" font-size="11.8" font-family="'Liberation Sans', sans-serif" textLength="7.50" lengthAdjust="spacingAndGlyphs">4</text>
<text x="677.98" y="677.20" font-size="17.5" font-family="'Liberation Sans', sans-serif" textLength="21.12" lengthAdjust="spacingAndGlyphs">10</text>
<text x="699.10" y="670.30" font-size="11.8" font-family="'Liberation Sans', sans-serif" textLength="7.50" lengthAdjust="spacingAndGlyphs">5</text>
<text x="677.98" y="624.20" font-size="17.5" font-family="'Liberation Sans', sans-serif" textLength="21.12" lengthAdjust="spacingAndGlyphs">10</text>
<text x="699.10" y="617.30" font-size="11.8" font-family="'Liberation Sans', sans-serif" textLength="7.50" lengthAdjust="spacingAndGlyphs">6</text>
<text x="677.98" y="571.20" font-size="17.5" font-family="'Liberation Sans', sans-serif" textLength="21.12" lengthAdjust="spacingAndGlyphs">10</text>
<text x="699.10" y="564.30" font-size="11.8" font-family="'Liberation Sans', sans-serif" textLength="7.50" lengthAdjust="spacingAndGlyphs">7</text>
<text x="986.38" y="982.00" font-size="24.5" font-family="'Liberation Sans', sans-serif" textLength="15.83" lengthAdjust="spacingAndGlyphs">Z</text>
<text transform="rotate(-90)" x="-794.01" y="669.90" font-size="24.5" font-family="'Liberation Sans', sans-serif" textLength="81.64" lengthAdjust="spacingAndGlyphs">Counts</text>
<text x="806.88" y="558.00" font-size="28" font-family="'Liberation Sans', sans-serif" textLength="41.57" lengthAdjust="spacingAndGlyphs">UH</text>
<text x="858.35" y="558.00" font-size="28" font-family="'Liberation Sans', sans-serif" textLength="56.00" lengthAdjust="spacingAndGlyphs">with</text>
<text x="922.77" y="558.00" font-size="28" font-family="'Liberation Sans', sans-serif" textLength="85.54" lengthAdjust="spacingAndGlyphs">Varied</text>
<text x="1014.56" y="558.00" font-size="28" font-family="'Liberation Sans', sans-serif" textLength="95.97" lengthAdjust="spacingAndGlyphs">Edep/Z</text>
<text x="1118.67" y="558.00" font-size="28" font-family="'Liberation Sans', sans-serif" textLength="61.81" lengthAdjust="spacingAndGlyphs">Cuts</text>
<text x="951.39" y="1025.50" font-size="23" font-family="'Liberation Serif', serif" textLength="26.82" lengthAdjust="spacingAndGlyphs">(d)</text>
<rect x="719.5" y="738.6" width="268.8" height="191.8" rx="3" fill="#fff" fill-opacity="0.8" stroke="#cccccc" stroke-opacity="0.8" stroke-width="1"/>
<rect x="725.8" y="745.9" width="30.5" height="10.2" fill="#808080"/>
<text x="767.79" y="757.10" font-size="15.2" font-family="'Liberation Sans', sans-serif" textLength="79.32" lengthAdjust="spacingAndGlyphs">UH events</text>
<rect x="726.3" y="769.9" width="29.6" height="9.6" fill="none" stroke="#e0e01a" stroke-width="1.1" stroke-opacity="0.85"/>
<text x="768.74" y="780.27" font-size="15.2" font-family="'Liberation Sans', sans-serif" textLength="96.59" lengthAdjust="spacingAndGlyphs">TASC energy</text>
<text x="875.31" y="780.27" font-size="15.2" font-family="'Liberation Sans', sans-serif" textLength="10.17" lengthAdjust="spacingAndGlyphs">≥</text>
<text x="889.84" y="780.27" font-size="15.2" font-family="'Liberation Sans', sans-serif" textLength="32.97" lengthAdjust="spacingAndGlyphs">0.35</text>
<text x="927.33" y="780.27" font-size="15.2" font-family="'Liberation Sans', sans-serif" textLength="54.03" lengthAdjust="spacingAndGlyphs">nmip/Z</text>
<rect x="726.3" y="793.5" width="29.6" height="9.6" fill="none" stroke="#dc3a3a" stroke-width="1.1" stroke-opacity="0.85"/>
<text x="768.74" y="803.94" font-size="15.2" font-family="'Liberation Sans', sans-serif" textLength="96.59" lengthAdjust="spacingAndGlyphs">TASC energy</text>
<text x="875.31" y="803.94" font-size="15.2" font-family="'Liberation Sans', sans-serif" textLength="10.17" lengthAdjust="spacingAndGlyphs">≥</text>
<text x="889.84" y="803.94" font-size="15.2" font-family="'Liberation Sans', sans-serif" textLength="32.92" lengthAdjust="spacingAndGlyphs">0.30</text>
<text x="927.33" y="803.94" font-size="15.2" font-family="'Liberation Sans', sans-serif" textLength="54.03" lengthAdjust="spacingAndGlyphs">nmip/Z</text>
<rect x="726.3" y="817.2" width="29.6" height="9.6" fill="none" stroke="#6d8ff0" stroke-width="1.1" stroke-opacity="0.85"/>
<text x="768.74" y="827.61" font-size="15.2" font-family="'Liberation Sans', sans-serif" textLength="96.59" lengthAdjust="spacingAndGlyphs">TASC energy</text>
<text x="875.31" y="827.61" font-size="15.2" font-family="'Liberation Sans', sans-serif" textLength="10.17" lengthAdjust="spacingAndGlyphs">≥</text>
<text x="889.84" y="827.61" font-size="15.2" font-family="'Liberation Sans', sans-serif" textLength="32.97" lengthAdjust="spacingAndGlyphs">0.25</text>
<text x="927.33" y="827.61" font-size="15.2" font-family="'Liberation Sans', sans-serif" textLength="54.03" lengthAdjust="spacingAndGlyphs">nmip/Z</text>
<rect x="726.3" y="840.9" width="29.6" height="9.6" fill="none" stroke="#6a5cf0" stroke-width="1.1" stroke-opacity="0.85"/>
<text x="768.74" y="851.28" font-size="15.2" font-family="'Liberation Sans', sans-serif" textLength="96.59" lengthAdjust="spacingAndGlyphs">TASC energy</text>
<text x="875.31" y="851.28" font-size="15.2" font-family="'Liberation Sans', sans-serif" textLength="10.17" lengthAdjust="spacingAndGlyphs">≥</text>
<text x="889.84" y="851.28" font-size="15.2" font-family="'Liberation Sans', sans-serif" textLength="32.92" lengthAdjust="spacingAndGlyphs">0.20</text>
<text x="927.33" y="851.28" font-size="15.2" font-family="'Liberation Sans', sans-serif" textLength="54.03" lengthAdjust="spacingAndGlyphs">nmip/Z</text>
<rect x="726.3" y="864.6" width="29.6" height="9.6" fill="none" stroke="#f5b01e" stroke-width="1.1" stroke-opacity="0.85"/>
<text x="768.74" y="874.95" font-size="15.2" font-family="'Liberation Sans', sans-serif" textLength="96.59" lengthAdjust="spacingAndGlyphs">TASC energy</text>
<text x="875.31" y="874.95" font-size="15.2" font-family="'Liberation Sans', sans-serif" textLength="10.17" lengthAdjust="spacingAndGlyphs">≥</text>
<text x="889.84" y="874.95" font-size="15.2" font-family="'Liberation Sans', sans-serif" textLength="32.97" lengthAdjust="spacingAndGlyphs">0.15</text>
<text x="927.33" y="874.95" font-size="15.2" font-family="'Liberation Sans', sans-serif" textLength="54.03" lengthAdjust="spacingAndGlyphs">nmip/Z</text>
<rect x="726.3" y="888.2" width="29.6" height="9.6" fill="none" stroke="#b27fc4" stroke-width="1.1" stroke-opacity="0.85"/>
<text x="768.74" y="898.62" font-size="15.2" font-family="'Liberation Sans', sans-serif" textLength="96.59" lengthAdjust="spacingAndGlyphs">TASC energy</text>
<text x="875.31" y="898.62" font-size="15.2" font-family="'Liberation Sans', sans-serif" textLength="10.17" lengthAdjust="spacingAndGlyphs">≥</text>
<text x="889.84" y="898.62" font-size="15.2" font-family="'Liberation Sans', sans-serif" textLength="32.92" lengthAdjust="spacingAndGlyphs">0.10</text>
<text x="927.33" y="898.62" font-size="15.2" font-family="'Liberation Sans', sans-serif" textLength="54.03" lengthAdjust="spacingAndGlyphs">nmip/Z</text>
<rect x="726.3" y="911.9" width="29.6" height="9.6" fill="none" stroke="#ff7f0e" stroke-width="1.1" stroke-opacity="0.85"/>
<text x="768.74" y="922.29" font-size="15.2" font-family="'Liberation Sans', sans-serif" textLength="96.59" lengthAdjust="spacingAndGlyphs">TASC energy</text>
<text x="875.31" y="922.29" font-size="15.2" font-family="'Liberation Sans', sans-serif" textLength="10.17" lengthAdjust="spacingAndGlyphs">≥</text>
<text x="889.84" y="922.29" font-size="15.2" font-family="'Liberation Sans', sans-serif" textLength="32.97" lengthAdjust="spacingAndGlyphs">0.05</text>
<text x="927.33" y="922.29" font-size="15.2" font-family="'Liberation Sans', sans-serif" textLength="54.03" lengthAdjust="spacingAndGlyphs">nmip/Z</text>
<g clip-path="url(#cc)">
<path d="M84.4,937.9L84.4,743.2L84.9,741.7L85.4,738.7L85.9,743.2L86.4,741.4L86.9,740.5L87.4,743.0L87.9,740.3L88.4,742.8L88.9,740.7L89.4,742.2L89.9,740.5L90.4,741.8L90.9,737.0L91.4,731.2L91.9,727.4L92.4,722.3L92.9,717.8L93.4,713.4L93.9,706.7L94.4,700.0L94.9,695.4L95.4,690.1L95.9,684.9L96.4,679.3L96.9,673.7L97.4,667.1L97.9,660.8L98.4,653.9L98.9,649.0L99.4,644.6L99.9,642.1L100.4,639.9L100.9,638.2L101.4,636.6L101.9,635.6L102.4,634.3L102.9,633.9L103.4,633.2L103.9,632.8L104.4,632.1L104.9,631.7L105.4,631.3L105.9,630.9L106.4,630.6L106.9,630.1L107.4,629.9L107.9,629.7L108.4,629.5L108.9,629.1L109.4,628.8L109.9,628.7L110.4,628.6L110.9,628.1L111.4,627.9L111.9,627.7L112.4,627.3L112.9,626.8L113.4,626.5L113.9,626.0L114.4,625.8L114.9,625.7L115.4,625.2L115.9,625.2L116.4,625.0L116.9,624.5L117.4,624.4L117.9,623.9L118.4,623.7L118.9,623.6L119.4,623.4L119.9,623.2L120.4,622.9L120.9,623.0L121.4,622.6L121.9,622.5L122.4,622.4L122.9,622.2L123.4,622.1L123.9,622.0L124.4,621.8L124.9,622.2L125.4,622.0L125.9,622.0L126.4,622.2L126.9,622.2L127.4,622.8L127.9,622.8L128.4,623.1L128.9,623.3L129.4,623.4L129.9,623.5L130.4,623.6L130.9,623.8L131.4,624.0L131.9,624.3L132.4,624.4L132.9,624.9L133.4,625.1L133.9,625.3L134.4,625.4L134.9,626.0L135.4,626.3L135.9,626.4L136.4,626.6L136.9,627.1L137.4,627.4L137.9,627.4L138.4,628.0L138.9,628.0L139.4,628.6L139.9,629.1L140.4,629.3L140.9,629.6L141.4,629.9L141.9,630.3L142.4,630.9L142.9,631.1L143.4,631.2L143.9,631.6L144.4,632.0L144.9,632.6L145.4,632.7L145.9,633.2L146.4,633.3L146.9,633.6L147.4,634.3L147.9,634.4L148.4,634.7L148.9,635.0L149.4,635.3L149.9,635.6L150.4,635.8L150.9,636.5L151.4,636.7L151.9,637.1L152.4,637.2L152.9,637.6L153.4,637.9L153.9,638.3L154.4,638.5L154.9,638.6L155.4,638.7L155.9,638.8L156.4,639.0L156.9,639.2L157.4,639.3L157.9,639.4L158.4,640.0L158.9,639.9L159.4,639.6L159.9,639.9L160.4,639.9L160.9,640.3L161.4,640.5L161.9,640.3L162.4,640.6L162.9,640.6L163.4,640.9L163.9,641.0L164.4,640.9L164.9,641.0L165.4,641.0L165.9,641.0L166.4,640.9L166.9,641.2L167.4,641.2L167.9,641.2L168.4,641.4L168.9,641.4L169.4,641.3L169.9,641.4L170.4,641.8L170.9,641.6L171.4,641.9L171.9,641.5L172.4,641.5L172.9,641.8L173.4,642.0L173.9,641.8L174.4,642.1L174.9,642.2L175.4,642.2L175.9,642.0L176.4,642.1L176.9,641.9L177.4,642.2L177.9,642.3L178.4,642.5L178.9,642.1L179.4,642.2L179.9,642.2L180.4,642.5L180.9,642.0L181.4,642.3L181.9,642.9L182.4,642.6L182.9,642.3L183.4,642.6L183.9,642.7L184.4,642.7L184.9,642.6L185.4,642.5L185.9,642.8L186.4,642.7L186.9,642.9L187.4,642.8L187.9,642.7L188.4,643.0L188.9,642.7L189.4,642.9L189.9,642.7L190.4,642.8L190.9,642.8L191.4,642.7L191.9,642.9L192.4,643.1L192.9,643.2L193.4,643.1L193.9,642.9L194.4,643.2L194.9,643.0L195.4,643.2L195.9,642.7L196.4,643.2L196.9,642.8L197.4,643.2L197.9,642.9L198.4,643.1L198.9,642.9L199.4,642.6L199.9,642.8L200.4,642.9L200.9,643.0L201.4,642.6L201.9,642.8L202.4,642.9L202.9,643.0L203.4,643.1L203.9,642.9L204.4,642.8L204.9,643.1L205.4,643.0L205.9,643.2L206.4,643.0L206.9,643.2L207.4,642.9L207.9,643.1L208.4,643.1L208.9,643.2L209.4,642.9L209.9,643.1L210.4,642.9L210.9,643.1L211.4,643.2L211.9,643.6L212.4,643.1L212.9,643.3L213.4,643.2L213.9,643.3L214.4,643.2L214.9,643.3L215.4,643.2L215.9,643.6L216.4,643.4L216.9,642.9L217.4,643.3L217.9,643.2L218.4,642.8L218.9,643.1L219.4,643.2L219.9,643.1L220.4,643.3L220.9,643.0L221.4,643.4L221.9,643.5L222.4,643.4L222.9,643.3L223.4,643.4L223.9,643.3L224.4,643.6L224.9,643.5L225.4,643.8L225.9,643.4L226.4,643.8L226.9,643.4L227.4,643.5L227.9,643.4L228.4,643.7L228.9,643.6L229.4,643.7L229.9,643.9L230.4,643.7L230.9,643.8L231.4,643.9L231.9,643.7L232.4,643.7L232.9,643.8L233.4,643.9L233.9,644.0L234.4,644.0L234.9,643.8L235.4,644.0L235.9,644.1L236.4,643.9L236.9,644.0L237.4,643.9L237.9,644.0L238.4,644.3L238.9,644.1L239.4,643.9L239.9,644.2L240.4,644.2L240.9,644.3L241.4,643.9L241.9,644.0L242.4,644.2L242.9,643.9L243.4,644.4L243.9,643.9L244.4,644.1L244.9,644.0L245.4,644.2L245.9,644.5L246.4,644.4L246.9,644.5L247.4,644.5L247.9,644.0L248.4,644.4L248.9,644.1L249.4,644.3L249.9,644.4L250.4,644.3L250.9,644.5L251.4,644.3L251.9,644.8L252.4,644.6L252.9,644.7L253.4,644.6L253.9,644.7L254.4,644.5L254.9,644.9L255.4,644.4L255.9,644.7L256.4,644.6L256.9,644.6L257.4,644.7L257.9,644.5L258.4,644.8L258.9,644.8L259.4,644.7L259.9,644.8L260.4,644.5L260.9,644.4L261.4,644.6L261.9,644.7L262.4,645.2L262.9,644.7L263.4,644.9L263.9,644.9L264.4,645.2L264.9,644.8L265.4,644.9L265.9,644.8L266.4,644.7L266.9,644.6L267.4,644.7L267.9,645.1L268.4,644.9L268.9,644.9L269.4,644.9L269.9,644.8L270.4,644.9L270.9,644.9L271.4,645.1L271.9,645.1L272.4,644.7L272.9,645.0L273.4,645.3L273.9,644.8L274.4,645.0L274.9,645.1L275.4,645.3L275.9,645.2L276.4,645.1L276.9,645.2L277.4,645.3L277.9,645.2L278.4,645.5L278.9,645.3L279.4,645.0L279.9,645.1L280.4,645.2L280.9,645.2L281.4,645.4L281.9,645.3L282.4,645.6L282.9,645.5L283.4,645.6L283.9,645.2L284.4,645.3L284.9,645.5L285.4,645.4L285.9,645.5L286.4,645.5L286.9,645.3L287.4,645.8L287.9,645.7L288.4,645.2L288.9,645.4L289.4,645.5L289.9,645.7L290.4,645.5L290.9,645.3L291.4,645.7L291.9,645.6L292.4,645.8L292.9,645.7L293.4,645.8L293.9,645.8L294.4,645.8L294.9,645.6L295.4,645.9L295.9,645.8L296.4,645.5L296.9,645.7L297.4,645.7L297.9,645.9L298.4,645.9L298.9,645.6L299.4,646.0L299.9,645.9L300.4,645.7L300.9,646.1L301.4,645.8L301.9,645.7L302.4,646.1L302.9,646.2L303.4,645.9L303.9,646.2L304.4,646.2L304.9,646.0L305.4,646.4L305.9,646.1L306.4,646.2L306.9,645.7L307.4,646.3L307.9,646.0L308.4,646.3L308.9,645.9L309.4,646.4L309.9,646.5L310.4,646.6L310.9,645.7L311.4,646.4L311.9,646.4L312.4,645.8L312.9,646.2L313.4,646.4L313.9,646.7L314.4,646.3L314.9,646.5L315.4,646.4L315.9,646.5L316.4,646.4L316.9,646.7L317.4,646.7L317.9,646.3L318.4,646.8L318.9,646.5L319.4,646.6L319.9,646.9L320.4,646.7L320.9,646.8L321.4,646.9L321.9,646.8L322.4,646.6L322.9,646.6L323.4,646.9L323.9,647.0L324.4,646.9L324.9,646.8L325.4,647.0L325.9,646.9L326.4,646.7L326.9,647.0L327.4,647.1L327.9,647.1L328.4,646.8L328.9,646.9L329.4,647.1L329.9,647.0L330.4,647.1L330.9,647.3L331.4,647.2L331.9,647.5L332.4,647.3L332.9,647.6L333.4,647.5L333.9,647.8L334.4,647.3L334.9,647.3L335.4,647.6L335.9,647.3L336.4,647.3L336.9,647.5L337.4,647.5L337.9,647.2L338.4,647.6L338.9,647.5L339.4,647.6L339.9,647.6L340.4,647.6L340.9,647.9L341.4,647.8L341.9,647.7L342.4,647.8L342.9,648.0L343.4,647.9L343.9,648.1L344.4,647.8L344.9,647.9L345.4,648.3L345.9,647.9L346.4,648.3L346.9,648.2L347.4,647.9L347.9,647.8L348.4,648.2L348.9,648.0L349.4,648.0L349.9,647.8L350.4,648.4L350.9,648.2L351.4,648.2L351.9,648.3L352.4,648.3L352.9,648.3L353.4,648.4L353.9,648.3L354.4,647.9L354.9,648.6L355.4,648.5L355.9,648.5L356.4,648.8L356.9,648.2L357.4,648.0L357.9,648.9L358.4,648.7L358.9,648.3L359.4,648.6L359.9,648.8L360.4,648.5L360.9,648.8L361.4,649.2L361.9,649.0L362.4,648.8L362.9,648.9L363.4,648.6L363.9,648.9L364.4,648.8L364.9,648.7L365.4,648.7L365.9,649.3L366.4,649.0L366.9,648.8L367.4,648.9L367.9,649.3L368.4,649.4L368.9,649.0L369.4,649.2L369.9,649.3L370.4,649.1L370.9,648.9L371.4,649.0L371.9,649.2L372.4,649.1L372.9,649.0L373.4,649.2L373.9,649.5L374.4,649.5L374.9,649.3L375.4,649.8L375.9,649.3L376.4,649.4L376.9,649.2L377.4,649.6L377.9,649.5L378.4,649.2L378.9,649.4L379.4,649.9L379.9,649.7L380.4,649.6L380.9,649.8L381.4,649.3L381.9,649.5L382.4,649.4L382.9,649.6L383.4,649.7L383.9,649.9L384.4,650.0L384.9,650.0L385.4,650.4L385.9,649.8L386.4,649.9L386.9,650.0L387.4,649.7L387.9,649.9L388.4,650.0L388.9,649.8L389.4,650.1L389.9,650.3L390.4,649.8L390.9,649.6L391.4,650.1L391.9,649.9L392.4,650.2L392.9,650.1L393.4,650.2L393.9,650.4L394.4,650.4L394.9,650.2L395.4,650.0L395.9,649.8L396.4,649.9L396.9,650.2L397.4,650.4L397.9,650.2L398.4,650.3L398.9,650.1L399.4,650.1L399.9,650.1L400.4,650.6L400.9,650.1L401.4,650.7L401.9,650.4L402.4,650.7L402.9,650.6L403.4,650.8L403.9,650.9L404.4,650.5L404.9,650.5L405.4,650.6L405.9,650.6L406.4,650.9L406.9,650.7L407.4,650.8L407.9,650.9L408.4,650.7L408.9,651.1L409.4,650.5L409.9,651.0L410.4,651.0L410.9,650.8L411.4,650.8L411.9,651.2L412.4,650.9L412.9,650.6L413.4,650.8L413.9,651.3L414.4,650.9L414.9,651.4L415.4,651.4L415.9,651.1L416.4,651.3L416.9,651.0L417.4,651.2L417.9,651.1L418.4,651.4L418.9,651.0L419.4,651.3L419.9,651.4L420.4,651.5L420.9,650.9L421.4,651.0L421.9,651.3L422.4,651.4L422.9,651.5L423.4,651.5L423.9,651.9L424.4,651.7L424.9,651.7L425.4,651.5L425.9,651.8L426.4,651.8L426.9,651.8L427.4,651.7L427.9,651.8L428.4,652.0L428.9,651.6L429.4,651.3L429.9,652.0L430.4,652.0L430.9,651.8L431.4,651.8L431.9,652.5L432.4,651.8L432.9,651.7L433.4,651.8L433.9,652.1L434.4,651.9L434.9,651.9L435.4,652.1L435.9,652.0L436.4,652.1L436.9,652.1L437.4,651.9L437.9,652.2L438.4,651.9L438.9,652.4L439.4,652.0L439.9,652.2L440.4,651.9L440.9,652.2L441.4,652.0L441.9,652.6L442.4,652.3L442.9,652.5L443.4,652.0L443.9,652.2L444.4,652.4L444.9,652.2L445.4,652.7L445.9,652.4L446.4,652.6L446.9,652.6L447.4,652.5L447.9,652.8L448.4,652.5L448.9,652.7L449.4,652.9L449.9,652.7L450.4,652.7L450.9,652.7L451.4,652.8L451.9,652.9L452.4,652.7L452.9,652.5L453.4,652.9L453.9,652.8L454.4,653.0L454.9,652.9L455.4,653.3L455.9,652.7L456.4,652.8L456.9,653.1L457.4,652.8L457.9,653.1L458.4,653.1L458.9,652.7L459.4,653.3L459.9,653.4L460.4,653.2L460.9,652.9L461.4,653.4L461.9,653.0L462.4,653.2L462.9,653.4L463.4,653.1L463.9,653.0L464.4,653.3L464.9,653.4L465.4,653.2L465.9,653.2L466.4,653.6L466.9,653.4L467.4,653.4L467.9,653.4L468.4,653.6L468.9,653.6L469.4,653.5L469.9,653.3L470.4,653.5L470.9,653.5L471.4,653.7L471.9,653.9L472.4,653.9L472.9,653.9L473.4,653.8L473.9,653.7L474.4,653.9L474.9,653.7L475.4,653.8L475.9,653.7L476.4,653.9L476.9,653.9L477.4,654.3L477.9,654.1L478.4,653.9L478.9,654.2L479.4,653.9L479.9,654.3L480.4,654.3L480.9,654.7L481.4,653.9L481.9,654.1L482.4,654.2L482.9,654.3L483.4,654.4L483.9,654.0L484.4,654.1L484.9,654.4L485.4,654.5L485.9,654.1L486.4,654.0L486.9,654.6L487.4,654.6L487.9,654.7L488.4,654.3L488.9,654.4L489.4,654.6L489.9,654.6L490.4,654.5L490.9,654.6L491.4,654.8L491.9,654.5L492.4,654.5L492.9,654.6L493.4,654.6L493.9,654.8L494.4,654.7L494.9,654.7L495.4,655.1L495.9,654.9L496.4,654.8L496.9,655.1L497.4,654.8L497.9,654.9L498.4,654.9L498.9,654.8L499.4,654.9L499.9,655.0L500.4,654.7L500.9,655.0L501.4,655.1L501.9,655.2L502.4,655.2L502.9,655.7L503.4,655.3L503.9,655.2L504.4,655.2L504.9,655.3L505.4,655.4L505.9,655.2L506.4,655.7L506.9,655.1L507.4,655.5L507.9,655.5L508.4,655.2L508.9,655.6L509.4,655.6L509.9,655.4L510.4,656.0L510.9,655.7L511.4,655.5L511.9,655.5L512.4,655.5L512.9,655.7L513.4,655.7L513.9,655.4L514.4,655.5L514.9,655.6L515.4,655.7L515.9,655.7L516.4,655.7L516.9,656.0L517.4,656.1L517.9,655.9L518.4,655.4L518.9,655.9L519.4,656.1L519.9,656.0L520.4,656.1L520.9,656.1L521.4,655.7L521.9,655.5L522.4,656.3L522.9,656.0L523.4,656.3L523.9,656.1L524.4,656.2L524.9,656.6L525.4,656.0L525.9,656.3L526.4,656.1L526.9,656.4L527.4,656.5L527.9,656.5L528.4,656.5L528.9,656.1L529.4,656.5L529.9,656.7L530.4,656.7L530.9,657.0L531.4,656.7L531.9,656.4L532.4,656.5L532.9,656.7L533.4,656.9L533.9,656.4L534.4,656.9L534.9,656.9L535.4,656.6L535.9,656.9L536.4,656.7L536.9,656.8L537.4,656.8L537.9,656.9L538.4,656.7L538.9,657.1L539.4,656.5L539.9,656.9L540.4,656.9L540.9,657.4L541.4,657.2L541.9,657.0L542.4,656.9L542.9,657.2L543.4,657.0L543.9,657.7L544.4,656.6L544.9,657.3L545.4,656.7L545.9,657.5L546.4,657.1L546.9,657.7L547.4,657.2L547.9,657.6L548.4,657.5L548.9,657.7L549.4,657.5L549.9,656.8L550.4,657.4L550.9,657.2L551.4,657.8L551.9,657.7L552.4,657.6L552.9,657.7L553.4,657.7L553.9,657.6L554.4,658.2L554.9,657.8L555.4,657.7L555.9,657.5L556.4,657.7L556.9,657.8L557.4,657.8L557.9,657.8L558.4,657.9L558.9,657.7L559.4,658.0L559.9,657.6L560.4,657.8L560.9,657.9L561.4,658.3L561.9,658.2L562.4,658.1L562.9,657.9L563.4,658.1L563.9,658.4L564.4,658.5L564.9,657.9L565.4,658.2L565.9,658.3L566.4,658.4L566.9,658.3L567.4,658.5L567.9,658.0L568.4,658.8L568.9,658.2L569.4,658.5L569.9,658.6L570.4,658.8L570.9,658.7L571.4,658.8L571.9,658.9L572.4,658.6L572.9,658.8L573.4,659.0L573.9,658.5L574.4,658.4L574.9,658.5L575.4,659.1L575.9,659.1L576.4,658.7L576.9,658.9L577.4,659.0L577.9,659.1L578.4,658.5L578.9,658.8L579.4,658.9L579.9,659.0L580.4,659.0L580.9,658.9L581.4,659.1L581.9,658.5L582.4,659.8L582.9,659.3L583.4,659.4L583.9,659.0L584.4,659.3L584.9,659.7L585.4,659.7L585.9,659.3L586.4,659.0L586.9,659.4L587.4,659.3L587.9,659.6L588.4,659.1L588.9,659.4L589.4,659.5L589.9,659.4L590.4,659.7L590.9,659.2L591.4,659.2L591.9,659.5L592.4,659.8L592.9,659.5L593.4,659.5L593.9,659.9L594.4,659.7L594.9,659.6L595.4,659.8L595.9,659.7L596.4,659.9L596.9,659.8L597.4,659.6L597.9,659.7L598.4,659.8L598.9,660.0L599.4,660.0L599.9,659.8L600.4,659.9L600.9,660.1L601.4,660.3L601.9,660.1L602.4,660.6L602.9,660.1L603.4,660.3L603.9,660.1L604.4,659.9L604.9,660.2L605.4,660.3L605.9,660.3L606.4,660.3L606.9,660.2L607.4,660.1L607.9,660.3L608.4,660.5L608.9,660.6L609.4,659.6L609.9,660.6L610.4,660.7L610.9,660.8L611.4,660.6L611.9,660.7L612.4,660.5L612.4,937.9Z" fill="#808080"/>
<path d="M156.6,937.9L156.6,821.3L157.1,814.9L157.6,798.2L158.1,792.9L158.6,790.1L159.1,779.1L159.6,777.5L160.1,768.0L160.6,766.2L161.1,760.1L161.6,753.5L162.1,747.6L162.6,743.2L163.1,736.3L163.6,733.8L164.1,729.7L164.6,726.3L165.1,720.5L165.6,717.0L166.1,714.8L166.6,712.0L167.1,707.7L167.6,706.5L168.1,705.2L168.6,704.0L169.1,702.5L169.6,702.0L170.1,702.4L170.6,703.0L171.1,701.2L171.6,701.8L172.1,701.6L172.6,699.4L173.1,699.4L173.6,700.2L174.1,699.6L174.6,699.0L175.1,698.4L175.6,698.4L176.1,697.4L176.6,698.8L177.1,696.6L177.6,695.9L178.1,696.7L178.6,697.1L179.1,695.8L179.6,695.8L180.1,695.0L180.6,695.2L181.1,694.5L181.6,694.3L182.1,693.8L182.6,694.0L183.1,695.0L183.6,693.8L184.1,693.7L184.6,694.4L185.1,692.8L185.6,692.4L186.1,692.9L186.6,691.9L187.1,692.4L187.6,692.6L188.1,691.4L188.6,691.4L189.1,692.2L189.6,690.8L190.1,690.7L190.6,691.0L191.1,690.5L191.6,690.1L192.1,691.0L192.6,689.8L193.1,690.1L193.6,689.6L194.1,689.5L194.6,688.8L195.1,689.6L195.6,688.8L196.1,689.4L196.6,688.2L197.1,688.3L197.6,688.5L198.1,688.2L198.6,687.7L199.1,687.7L199.6,687.1L200.1,687.5L200.6,686.1L201.1,687.2L201.6,687.5L202.1,687.1L202.6,686.9L203.1,686.2L203.6,686.4L204.1,685.9L204.6,685.9L205.1,685.7L205.6,684.2L206.1,685.8L206.6,685.4L207.1,685.4L207.6,684.5L208.1,685.0L208.6,684.8L209.1,683.5L209.6,683.5L210.1,684.1L210.6,683.7L211.1,683.8L211.6,683.4L212.1,684.0L212.6,682.5L213.1,682.6L213.6,682.6L214.1,682.3L214.6,682.5L215.1,682.5L215.6,681.9L216.1,682.4L216.6,682.6L217.1,682.4L217.6,682.6L218.1,682.1L218.6,681.5L219.1,682.1L219.6,681.5L220.1,681.8L220.6,681.0L221.1,680.1L221.6,680.4L222.1,680.8L222.6,680.8L223.1,680.5L223.6,680.8L224.1,680.0L224.6,680.0L225.1,680.5L225.6,680.1L226.1,680.0L226.6,680.3L227.1,680.0L227.6,679.2L228.1,679.3L228.6,678.4L229.1,678.6L229.6,678.2L230.1,676.8L230.6,677.3L231.1,676.8L231.6,675.6L232.1,675.2L232.6,674.8L233.1,673.6L233.6,673.3L234.1,672.4L234.6,671.1L235.1,670.7L235.6,670.2L236.1,670.2L236.6,669.5L237.1,669.5L237.6,668.8L238.1,668.3L238.6,669.1L239.1,669.1L239.6,668.2L240.1,667.9L240.6,668.1L241.1,667.3L241.6,667.5L242.1,667.0L242.6,667.4L243.1,667.2L243.6,666.8L244.1,666.6L244.6,666.2L245.1,666.2L245.6,666.6L246.1,666.0L246.6,666.3L247.1,665.6L247.6,665.6L248.1,665.4L248.6,665.2L249.1,665.3L249.6,664.4L250.1,665.0L250.6,664.8L251.1,664.4L251.6,664.2L252.1,663.9L252.6,663.9L253.1,663.4L253.6,662.9L254.1,662.8L254.6,662.7L255.1,662.2L255.6,661.8L256.1,661.4L256.6,660.9L257.1,660.5L257.6,659.8L258.1,659.9L258.6,659.8L259.1,659.0L259.6,658.5L260.1,658.4L260.6,657.8L261.1,657.4L261.6,657.1L262.1,656.8L262.6,656.4L263.1,656.1L263.6,656.5L264.1,656.1L264.6,655.8L265.1,655.9L265.6,656.0L266.1,655.3L266.6,655.9L267.1,655.5L267.6,655.9L268.1,655.5L268.6,655.3L269.1,655.5L269.6,655.5L270.1,655.1L270.6,655.1L271.1,654.9L271.6,655.2L272.1,654.6L272.6,654.9L273.1,654.4L273.6,654.9L274.1,654.3L274.6,654.5L275.1,654.7L275.6,654.5L276.1,654.4L276.6,654.2L277.1,654.3L277.6,653.9L278.1,654.3L278.6,654.3L279.1,654.2L279.6,654.0L280.1,654.2L280.6,653.9L281.1,653.9L281.6,653.8L282.1,653.6L282.6,653.3L283.1,652.9L283.6,653.5L284.1,653.2L284.6,653.6L285.1,652.7L285.6,653.2L286.1,652.7L286.6,652.9L287.1,652.6L287.6,652.8L288.1,652.6L288.6,652.7L289.1,652.5L289.6,652.5L290.1,652.6L290.6,652.4L291.1,652.2L291.6,652.4L292.1,652.0L292.6,652.1L293.1,651.9L293.6,651.8L294.1,651.2L294.6,651.9L295.1,651.5L295.6,651.8L296.1,652.0L296.6,651.3L297.1,651.7L297.6,651.5L298.1,651.6L298.6,651.2L299.1,651.4L299.6,651.4L300.1,651.7L300.6,651.8L301.1,651.4L301.6,651.2L302.1,651.7L302.6,651.2L303.1,651.2L303.6,651.2L304.1,651.2L304.6,651.3L305.1,651.0L305.6,651.1L306.1,651.4L306.6,651.4L307.1,651.1L307.6,651.1L308.1,650.9L308.6,651.2L309.1,650.8L309.6,650.9L310.1,650.8L310.6,650.8L311.1,650.9L311.6,650.8L312.1,650.7L312.6,650.8L313.1,650.8L313.6,650.7L314.1,650.6L314.6,650.7L315.1,650.9L315.6,650.9L316.1,650.7L316.6,650.6L317.1,650.7L317.6,651.0L318.1,650.8L318.6,650.4L319.1,650.6L319.6,650.5L320.1,650.5L320.6,650.2L321.1,650.6L321.6,650.3L322.1,650.4L322.6,650.8L323.1,650.7L323.6,650.3L324.1,650.3L324.6,650.3L325.1,650.1L325.6,650.3L326.1,650.4L326.6,650.2L327.1,650.6L327.6,650.4L328.1,650.3L328.6,650.7L329.1,650.5L329.6,650.4L330.1,650.7L330.6,650.6L331.1,650.2L331.6,650.4L332.1,650.2L332.6,650.0L333.1,650.6L333.6,650.5L334.1,650.0L334.6,650.3L335.1,649.9L335.6,650.4L336.1,650.2L336.6,650.1L337.1,650.4L337.6,650.2L338.1,650.1L338.6,650.3L339.1,650.1L339.6,650.3L340.1,650.1L340.6,650.3L341.1,650.2L341.6,650.2L342.1,649.9L342.6,650.4L343.1,650.0L343.6,650.4L344.1,649.9L344.6,650.0L345.1,650.0L345.6,650.2L346.1,649.9L346.6,650.1L347.1,649.7L347.6,649.9L348.1,650.0L348.6,650.0L349.1,649.6L349.6,650.1L350.1,649.8L350.6,650.3L351.1,649.9L351.6,650.4L352.1,650.1L352.6,650.0L353.1,649.8L353.6,649.9L354.1,650.0L354.6,649.5L355.1,650.1L355.6,649.7L356.1,649.9L356.6,649.4L357.1,650.0L357.6,650.1L358.1,650.0L358.6,650.0L359.1,649.8L359.6,649.9L360.1,650.1L360.6,649.8L361.1,650.0L361.6,650.1L362.1,649.9L362.6,650.0L363.1,650.0L363.6,649.8L364.1,650.4L364.6,649.9L365.1,650.3L365.6,650.2L366.1,649.6L366.6,650.1L367.1,650.2L367.6,650.2L368.1,649.9L368.6,650.1L369.1,649.8L369.6,649.9L370.1,650.1L370.6,650.2L371.1,650.5L371.6,650.2L372.1,650.4L372.6,650.0L373.1,650.0L373.6,650.1L374.1,650.6L374.6,650.0L375.1,650.0L375.6,650.3L376.1,650.6L376.6,650.0L377.1,650.3L377.6,650.1L378.1,650.7L378.6,650.6L379.1,650.5L379.6,650.5L380.1,650.5L380.6,650.6L381.1,650.5L381.6,650.4L382.1,650.4L382.6,650.7L383.1,650.5L383.6,650.9L384.1,650.3L384.6,650.9L385.1,650.9L385.6,651.1L386.1,650.8L386.6,650.6L387.1,650.7L387.6,651.2L388.1,650.9L388.6,650.9L389.1,650.9L389.6,651.0L390.1,651.0L390.6,650.8L391.1,651.0L391.6,651.4L392.1,651.5L392.6,651.2L393.1,651.1L393.6,651.5L394.1,651.2L394.6,651.1L395.1,651.3L395.6,651.5L396.1,651.7L396.6,651.3L397.1,651.5L397.6,651.4L398.1,651.7L398.6,651.5L399.1,651.6L399.6,651.3L400.1,651.5L400.6,651.5L401.1,650.9L401.6,651.8L402.1,651.6L402.6,651.6L403.1,651.6L403.6,651.7L404.1,651.8L404.6,651.5L405.1,651.8L405.6,651.8L406.1,651.8L406.6,651.5L407.1,651.8L407.6,651.6L408.1,652.0L408.6,652.2L409.1,652.1L409.6,651.9L410.1,651.9L410.6,651.9L411.1,652.1L411.6,651.9L412.1,652.0L412.6,651.6L413.1,651.9L413.6,652.0L414.1,652.1L414.6,652.4L415.1,651.9L415.6,652.0L416.1,652.4L416.6,652.1L417.1,652.3L417.6,652.4L418.1,652.3L418.6,652.2L419.1,652.6L419.6,652.7L420.1,652.2L420.6,652.4L421.1,652.7L421.6,652.5L422.1,652.3L422.6,652.5L423.1,652.7L423.6,652.4L424.1,652.7L424.6,652.7L425.1,652.5L425.6,652.8L426.1,652.8L426.6,652.9L427.1,652.9L427.6,652.5L428.1,653.0L428.6,652.9L429.1,653.0L429.6,652.7L430.1,653.1L430.6,653.0L431.1,652.7L431.6,653.2L432.1,652.8L432.6,652.8L433.1,653.1L433.6,652.9L434.1,653.1L434.6,653.0L435.1,653.2L435.6,653.3L436.1,653.1L436.6,653.4L437.1,653.4L437.6,653.0L438.1,653.4L438.6,653.4L439.1,653.3L439.6,653.5L440.1,653.7L440.6,653.5L441.1,653.1L441.6,653.5L442.1,653.4L442.6,653.4L443.1,653.5L443.6,653.4L444.1,653.9L444.6,653.6L445.1,653.6L445.6,653.7L446.1,653.8L446.6,653.9L447.1,653.8L447.6,653.7L448.1,653.7L448.6,653.3L449.1,653.4L449.6,654.0L450.1,653.7L450.6,654.2L451.1,654.2L451.6,653.6L452.1,653.9L452.6,654.5L453.1,653.8L453.6,654.0L454.1,653.9L454.6,653.9L455.1,654.0L455.6,654.0L456.1,654.2L456.6,653.9L457.1,654.2L457.6,654.0L458.1,654.3L458.6,654.3L459.1,654.0L459.6,654.3L460.1,654.1L460.6,654.1L461.1,654.6L461.6,653.9L462.1,654.5L462.6,654.5L463.1,654.3L463.6,654.6L464.1,654.6L464.6,654.2L465.1,654.6L465.6,654.6L466.1,654.4L466.6,654.7L467.1,654.7L467.6,654.4L468.1,654.2L468.6,654.7L469.1,654.5L469.6,654.3L470.1,654.6L470.6,654.2L471.1,654.7L471.6,655.1L472.1,654.2L472.6,654.9L473.1,654.7L473.6,654.8L474.1,654.7L474.6,655.1L475.1,654.9L475.6,654.8L476.1,654.7L476.6,654.9L477.1,655.3L477.6,654.8L478.1,655.2L478.6,655.2L479.1,654.7L479.6,655.4L480.1,655.2L480.6,655.7L481.1,655.6L481.6,655.2L482.1,655.2L482.6,655.1L483.1,655.0L483.6,655.5L484.1,655.3L484.6,655.3L485.1,655.4L485.6,655.6L486.1,655.7L486.6,655.5L487.1,655.5L487.6,655.6L488.1,656.0L488.6,655.1L489.1,655.3L489.6,655.7L490.1,655.7L490.6,655.9L491.1,656.0L491.6,656.2L492.1,655.6L492.6,655.9L493.1,655.7L493.6,656.0L494.1,655.9L494.6,656.1L495.1,655.7L495.6,655.9L496.1,655.8L496.6,655.9L497.1,655.9L497.6,655.8L498.1,656.3L498.6,656.1L499.1,656.3L499.6,655.9L500.1,655.7L500.6,656.0L501.1,656.1L501.6,656.4L502.1,656.5L502.6,656.5L503.1,656.6L503.6,656.4L504.1,656.3L504.6,656.2L505.1,656.5L505.6,656.3L506.1,656.2L506.6,656.6L507.1,656.5L507.6,656.7L508.1,656.3L508.6,656.8L509.1,656.6L509.6,656.5L510.1,656.4L510.6,656.4L511.1,656.3L511.6,657.0L512.1,656.4L512.6,656.9L513.1,656.7L513.6,656.6L514.1,656.7L514.6,656.8L515.1,657.0L515.6,657.0L516.1,656.9L516.6,656.6L517.1,656.5L517.6,657.4L518.1,656.7L518.6,656.6L519.1,657.3L519.6,656.7L520.1,657.2L520.6,657.3L521.1,657.2L521.6,657.4L522.1,656.8L522.6,656.9L523.1,657.2L523.6,657.2L524.1,657.2L524.6,657.4L525.1,657.1L525.6,656.8L526.1,657.4L526.6,657.3L527.1,657.6L527.6,657.9L528.1,657.5L528.6,657.6L529.1,657.3L529.6,657.7L530.1,657.6L530.6,657.6L531.1,657.8L531.6,657.4L532.1,657.8L532.6,657.8L533.1,658.1L533.6,657.3L534.1,657.7L534.6,658.3L535.1,657.7L535.6,657.7L536.1,658.3L536.6,658.4L537.1,657.9L537.6,657.7L538.1,657.8L538.6,657.9L539.1,657.8L539.6,657.8L540.1,658.1L540.6,658.1L541.1,658.2L541.6,658.1L542.1,657.8L542.6,658.3L543.1,658.2L543.6,658.1L544.1,658.2L544.6,658.3L545.1,658.3L545.6,658.3L546.1,658.5L546.6,658.6L547.1,658.3L547.6,658.4L548.1,658.2L548.6,658.4L549.1,658.6L549.6,658.7L550.1,658.6L550.6,658.5L551.1,658.4L551.6,658.6L552.1,658.4L552.6,658.7L553.1,658.7L553.6,658.5L554.1,658.8L554.6,658.7L555.1,658.9L555.6,658.7L556.1,658.9L556.6,659.2L557.1,658.9L557.6,659.1L558.1,658.8L558.6,658.8L559.1,658.5L559.6,658.9L560.1,658.7L560.6,659.1L561.1,658.6L561.6,658.9L562.1,659.1L562.6,659.2L563.1,658.8L563.6,659.1L564.1,659.8L564.6,659.4L565.1,659.3L565.6,658.6L566.1,659.1L566.6,659.5L567.1,659.4L567.6,659.5L568.1,659.6L568.6,659.5L569.1,659.7L569.6,659.0L570.1,660.1L570.6,659.5L571.1,659.4L571.6,659.9L572.1,659.8L572.6,659.9L573.1,659.5L573.6,659.8L574.1,659.9L574.6,659.5L575.1,659.7L575.6,659.7L576.1,659.7L576.6,659.7L577.1,659.6L577.6,660.0L578.1,660.0L578.6,660.2L579.1,659.9L579.6,659.8L580.1,659.7L580.6,660.1L581.1,660.0L581.6,660.6L582.1,660.7L582.6,660.5L583.1,659.9L583.6,659.8L584.1,660.2L584.6,660.0L585.1,660.6L585.6,660.3L586.1,660.2L586.6,660.3L587.1,660.7L587.6,660.2L588.1,660.5L588.6,660.1L589.1,660.4L589.6,660.3L590.1,660.6L590.6,660.6L591.1,660.9L591.6,660.8L592.1,660.5L592.6,660.3L593.1,660.5L593.6,660.6L594.1,660.7L594.6,660.6L595.1,661.1L595.6,661.0L596.1,660.8L596.6,660.7L597.1,660.8L597.6,660.9L598.1,660.9L598.6,660.6L599.1,660.9L599.6,660.5L600.1,661.0L600.6,661.2L601.1,660.8L601.6,661.2L602.1,661.0L602.6,661.0L603.1,661.7L603.6,661.4L604.1,661.4L604.6,661.2L605.1,661.4L605.6,661.3L606.1,661.5L606.6,661.1L607.1,661.4L607.6,661.3L608.1,661.1L608.6,661.9L609.1,661.7L609.6,661.3L610.1,661.2L610.6,661.4L611.1,661.4L611.6,661.5L612.1,661.3L612.6,661.5L612.6,937.9Z" fill="#800000"/>
<rect x="149.1" y="880.5" width="5.3" height="57.4" fill="#800000"/>
<rect x="150.0" y="863.8" width="3.6" height="74.1" fill="#800000"/>
<rect x="154.2" y="824.9" width="2.8" height="113.0" fill="#800000"/>
<rect x="126.3" y="880.5" width="0.7" height="57.4" fill="#800000" fill-opacity="0.75"/>
<rect x="129.4" y="863.8" width="0.9" height="74.1" fill="#800000" fill-opacity="0.75"/>
<rect x="131.7" y="880.5" width="0.6" height="57.4" fill="#800000" fill-opacity="0.75"/>
<rect x="132.9" y="880.5" width="0.6" height="57.4" fill="#800000" fill-opacity="0.75"/>
<rect x="134.2" y="880.5" width="0.7" height="57.4" fill="#800000" fill-opacity="0.75"/>
<rect x="135.6" y="880.5" width="0.7" height="57.4" fill="#800000" fill-opacity="0.75"/>
<rect x="139.3" y="863.8" width="0.8" height="74.1" fill="#800000" fill-opacity="0.75"/>
<rect x="140.5" y="863.8" width="0.6" height="74.1" fill="#800000" fill-opacity="0.75"/>
<rect x="141.2" y="841.6" width="0.7" height="96.3" fill="#800000" fill-opacity="0.75"/>
<rect x="142.4" y="880.5" width="0.6" height="57.4" fill="#800000" fill-opacity="0.75"/>
<rect x="144.1" y="863.8" width="0.7" height="74.1" fill="#800000" fill-opacity="0.75"/>
<rect x="145.3" y="847.0" width="0.7" height="90.9" fill="#800000" fill-opacity="0.75"/>
<rect x="146.6" y="863.8" width="0.6" height="74.1" fill="#800000" fill-opacity="0.75"/>
<rect x="147.6" y="880.5" width="0.5" height="57.4" fill="#800000" fill-opacity="0.75"/>
<rect x="150.5" y="863.8" width="0.8" height="74.1" fill="#800000" fill-opacity="0.75"/>
<rect x="152.6" y="863.8" width="0.8" height="74.1" fill="#800000" fill-opacity="0.75"/>
<path d="M84.4,585.8V935.9M216.5,585.8V935.9M348.6,585.8V935.9M480.7,585.8V935.9M612.8,585.8V935.9M84.4,936.1H612.8M84.4,880.5H612.8M84.4,824.9H612.8M84.4,769.3H612.8M84.4,713.7H612.8M84.4,658.1H612.8M84.4,602.5H612.8" stroke="#b0b0b0" stroke-opacity="0.25" stroke-width="1.2" fill="none"/>
<path d="M110.8,585.8V935.9M137.2,585.8V935.9M163.7,585.8V935.9M190.1,585.8V935.9M242.9,585.8V935.9M269.3,585.8V935.9M295.8,585.8V935.9M322.2,585.8V935.9M375.0,585.8V935.9M401.4,585.8V935.9M427.9,585.8V935.9M454.3,585.8V935.9M507.1,585.8V935.9M533.5,585.8V935.9M560.0,585.8V935.9M586.4,585.8V935.9M84.4,919.4H612.8M84.4,909.6H612.8M84.4,902.6H612.8M84.4,897.2H612.8M84.4,892.8H612.8M84.4,889.1H612.8M84.4,885.9H612.8M84.4,883.0H612.8M84.4,863.8H612.8M84.4,854.0H612.8M84.4,847.0H612.8M84.4,841.6H612.8M84.4,837.2H612.8M84.4,833.5H612.8M84.4,830.3H612.8M84.4,827.4H612.8M84.4,808.2H612.8M84.4,798.4H612.8M84.4,791.4H612.8M84.4,786.0H612.8M84.4,781.6H612.8M84.4,777.9H612.8M84.4,774.7H612.8M84.4,771.8H612.8M84.4,752.6H612.8M84.4,742.8H612.8M84.4,735.8H612.8M84.4,730.4H612.8M84.4,726.0H612.8M84.4,722.3H612.8M84.4,719.1H612.8M84.4,716.2H612.8M84.4,697.0H612.8M84.4,687.2H612.8M84.4,680.2H612.8M84.4,674.8H612.8M84.4,670.4H612.8M84.4,666.7H612.8M84.4,663.5H612.8M84.4,660.6H612.8M84.4,641.4H612.8M84.4,631.6H612.8M84.4,624.6H612.8M84.4,619.2H612.8M84.4,614.8H612.8M84.4,611.1H612.8M84.4,607.9H612.8M84.4,605.0H612.8" stroke="#b0b0b0" stroke-opacity="0.13" stroke-width="1" fill="none"/>
</g>
<rect x="84.4" y="585.8" width="528.4" height="350.1" fill="none" stroke="#3a3a3a" stroke-width="1.1"/>
<path d="M84.4,935.9v3.5M216.5,935.9v3.5M348.6,935.9v3.5M480.7,935.9v3.5M612.8,935.9v3.5M84.4,935.9v2M110.8,935.9v2M137.2,935.9v2M163.7,935.9v2M190.1,935.9v2M216.5,935.9v2M242.9,935.9v2M269.3,935.9v2M295.8,935.9v2M322.2,935.9v2M348.6,935.9v2M375.0,935.9v2M401.4,935.9v2M427.9,935.9v2M454.3,935.9v2M480.7,935.9v2M507.1,935.9v2M533.5,935.9v2M560.0,935.9v2M586.4,935.9v2M612.8,935.9v2M84.4,936.1h-3.5M84.4,880.5h-3.5M84.4,824.9h-3.5M84.4,769.3h-3.5M84.4,713.7h-3.5M84.4,658.1h-3.5M84.4,602.5h-3.5M84.4,919.4h-2M84.4,909.6h-2M84.4,902.6h-2M84.4,897.2h-2M84.4,892.8h-2M84.4,889.1h-2M84.4,885.9h-2M84.4,883.0h-2M84.4,863.8h-2M84.4,854.0h-2M84.4,847.0h-2M84.4,841.6h-2M84.4,837.2h-2M84.4,833.5h-2M84.4,830.3h-2M84.4,827.4h-2M84.4,808.2h-2M84.4,798.4h-2M84.4,791.4h-2M84.4,786.0h-2M84.4,781.6h-2M84.4,777.9h-2M84.4,774.7h-2M84.4,771.8h-2M84.4,752.6h-2M84.4,742.8h-2M84.4,735.8h-2M84.4,730.4h-2M84.4,726.0h-2M84.4,722.3h-2M84.4,719.1h-2M84.4,716.2h-2M84.4,697.0h-2M84.4,687.2h-2M84.4,680.2h-2M84.4,674.8h-2M84.4,670.4h-2M84.4,666.7h-2M84.4,663.5h-2M84.4,660.6h-2M84.4,641.4h-2M84.4,631.6h-2M84.4,624.6h-2M84.4,619.2h-2M84.4,614.8h-2M84.4,611.1h-2M84.4,607.9h-2M84.4,605.0h-2" stroke="#000" stroke-width="0.8"/>
<text x="62.36" y="956.60" font-size="19.8" font-family="'Liberation Sans', sans-serif" textLength="44.07" lengthAdjust="spacingAndGlyphs">0.00</text>
<text x="194.46" y="956.60" font-size="19.8" font-family="'Liberation Sans', sans-serif" textLength="44.07" lengthAdjust="spacingAndGlyphs">0.25</text>
<text x="326.56" y="956.60" font-size="19.8" font-family="'Liberation Sans', sans-serif" textLength="44.07" lengthAdjust="spacingAndGlyphs">0.50</text>
<text x="458.66" y="956.60" font-size="19.8" font-family="'Liberation Sans', sans-serif" textLength="44.07" lengthAdjust="spacingAndGlyphs">0.75</text>
<text x="590.76" y="956.60" font-size="19.8" font-family="'Liberation Sans', sans-serif" textLength="44.07" lengthAdjust="spacingAndGlyphs">1.00</text>
<text x="33.20" y="944.20" font-size="19.4" font-family="'Liberation Sans', sans-serif" textLength="25.06" lengthAdjust="spacingAndGlyphs">10</text>
<text x="58.26" y="937.00" font-size="14.2" font-family="'Liberation Sans', sans-serif" textLength="20.34" lengthAdjust="spacingAndGlyphs">−1</text>
<text x="44.76" y="888.60" font-size="19.4" font-family="'Liberation Sans', sans-serif" textLength="25.06" lengthAdjust="spacingAndGlyphs">10</text>
<text x="69.82" y="881.40" font-size="14.2" font-family="'Liberation Sans', sans-serif" textLength="8.78" lengthAdjust="spacingAndGlyphs">0</text>
<text x="44.76" y="833.00" font-size="19.4" font-family="'Liberation Sans', sans-serif" textLength="25.06" lengthAdjust="spacingAndGlyphs">10</text>
<text x="69.82" y="825.80" font-size="14.2" font-family="'Liberation Sans', sans-serif" textLength="8.78" lengthAdjust="spacingAndGlyphs">1</text>
<text x="44.76" y="777.40" font-size="19.4" font-family="'Liberation Sans', sans-serif" textLength="25.06" lengthAdjust="spacingAndGlyphs">10</text>
<text x="69.82" y="770.20" font-size="14.2" font-family="'Liberation Sans', sans-serif" textLength="8.78" lengthAdjust="spacingAndGlyphs">2</text>
<text x="44.76" y="721.80" font-size="19.4" font-family="'Liberation Sans', sans-serif" textLength="25.06" lengthAdjust="spacingAndGlyphs">10</text>
<text x="69.82" y="714.60" font-size="14.2" font-family="'Liberation Sans', sans-serif" textLength="8.78" lengthAdjust="spacingAndGlyphs">3</text>
<text x="44.76" y="666.20" font-size="19.4" font-family="'Liberation Sans', sans-serif" textLength="25.06" lengthAdjust="spacingAndGlyphs">10</text>
<text x="69.82" y="659.00" font-size="14.2" font-family="'Liberation Sans', sans-serif" textLength="8.78" lengthAdjust="spacingAndGlyphs">4</text>
<text x="44.76" y="610.60" font-size="19.4" font-family="'Liberation Sans', sans-serif" textLength="25.06" lengthAdjust="spacingAndGlyphs">10</text>
<text x="69.82" y="603.40" font-size="14.2" font-family="'Liberation Sans', sans-serif" textLength="8.78" lengthAdjust="spacingAndGlyphs">5</text>
<text x="306.88" y="982.00" font-size="24.5" font-family="'Liberation Sans', sans-serif" textLength="83.22" lengthAdjust="spacingAndGlyphs">Edep/Z</text>
<text transform="rotate(-90)" x="-804.01" y="26.20" font-size="24.5" font-family="'Liberation Sans', sans-serif" textLength="81.64" lengthAdjust="spacingAndGlyphs">Counts</text>
<text x="161.28" y="580.20" font-size="28" font-family="'Liberation Sans', sans-serif" textLength="41.57" lengthAdjust="spacingAndGlyphs">UH</text>
<text x="209.72" y="580.20" font-size="28" font-family="'Liberation Sans', sans-serif" textLength="58.88" lengthAdjust="spacingAndGlyphs">CHD</text>
<text x="276.96" y="580.20" font-size="28" font-family="'Liberation Sans', sans-serif" textLength="95.97" lengthAdjust="spacingAndGlyphs">Edep/Z</text>
<text x="381.26" y="580.20" font-size="28" font-family="'Liberation Sans', sans-serif" textLength="154.01" lengthAdjust="spacingAndGlyphs">distribution</text>
<text x="308.75" y="1025.50" font-size="23" font-family="'Liberation Serif', serif" textLength="24.00" lengthAdjust="spacingAndGlyphs">(c)</text>
</svg></body></html>
